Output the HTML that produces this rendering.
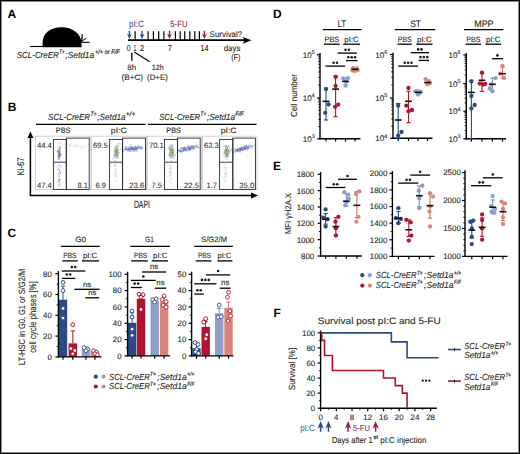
<!DOCTYPE html>
<html><head><meta charset="utf-8"><style>
html,body{margin:0;padding:0;background:#fff;}
body{width:520px;height:454px;overflow:hidden;position:relative;}
svg{position:absolute;left:0;top:0;display:block;}
svg text{font-family:"Liberation Sans", sans-serif;text-rendering:geometricPrecision;}
</style></head><body>
<svg width="520" height="454" viewBox="0 0 520 454">
<defs><filter id="fb" x="-20%" y="-20%" width="140%" height="140%"><feGaussianBlur stdDeviation="0.55"/></filter></defs>
<rect x="0" y="0" width="520" height="454" fill="#fff"/>
<text x="7.60" y="17.60" font-size="12" fill="#000" font-weight="bold">A</text>
<text x="7.80" y="111.20" font-size="12" fill="#000" font-weight="bold">B</text>
<text x="7.40" y="237.20" font-size="12" fill="#000" font-weight="bold">C</text>
<text x="273.00" y="18.20" font-size="12" fill="#000" font-weight="bold">D</text>
<text x="273.00" y="170.00" font-size="12" fill="#000" font-weight="bold">E</text>
<text x="273.40" y="317.20" font-size="12" fill="#000" font-weight="bold">F</text>
<line x1="30.00" y1="46.50" x2="44.00" y2="46.50" stroke="#000" stroke-width="1.1"/>
<path d="M42.6,47.2 L42.6,42 C42.8,33 51,27.3 61.6,27.3 C72,27.3 80.8,33.5 81.4,42 L81.6,47.2 Z" fill="#000" stroke="none" stroke-width="1"/>
<line x1="81.00" y1="42.30" x2="89.60" y2="42.30" stroke="#000" stroke-width="1.1"/>
<line x1="81.60" y1="41.50" x2="82.30" y2="34.30" stroke="#000" stroke-width="1.3"/>
<line x1="81.80" y1="41.20" x2="86.20" y2="38.20" stroke="#000" stroke-width="1.0"/>
<text x="16.80" y="57.80" font-size="8.8" fill="#231f20" stroke="#231f20" stroke-width="0.1" font-style="italic" textLength="41.90" lengthAdjust="spacingAndGlyphs">SCL-CreER</text>
<text x="59.30" y="54.20" font-size="6.3999999999999995" fill="#231f20" stroke="#231f20" stroke-width="0.2" font-style="italic" textLength="5.20" lengthAdjust="spacingAndGlyphs">T+</text>
<text x="65.50" y="57.80" font-size="8.8" fill="#231f20" stroke="#231f20" stroke-width="0.1" font-style="italic" textLength="28.60" lengthAdjust="spacingAndGlyphs">;Setd1a</text>
<text x="94.90" y="54.20" font-size="6.3999999999999995" fill="#231f20" stroke="#231f20" stroke-width="0.2" font-style="italic" textLength="24.80" lengthAdjust="spacingAndGlyphs">+/+ or F/F</text>
<line x1="128.00" y1="40.20" x2="246.00" y2="40.20" stroke="#000" stroke-width="1.7"/>
<path d="M242.7,36.9 L251.6,40.2 L242.7,43.7 L244.6,40.2 Z" fill="#000" stroke="none" stroke-width="1"/>
<path d="M129.40,38.90 L131.90,33.50 L130.10,34.90 L130.10,30.80 L128.70,30.80 L128.70,34.90 L126.90,33.50 Z" fill="#2f4b80" stroke="none" stroke-width="1"/>
<line x1="135.10" y1="31.30" x2="135.10" y2="40.00" stroke="#000" stroke-width="1.2"/>
<path d="M142.00,38.90 L144.50,33.50 L142.70,34.90 L142.70,30.80 L141.30,30.80 L141.30,34.90 L139.50,33.50 Z" fill="#2f4b80" stroke="none" stroke-width="1"/>
<line x1="148.10" y1="31.30" x2="148.10" y2="40.00" stroke="#000" stroke-width="1.2"/>
<line x1="153.40" y1="31.30" x2="153.40" y2="40.00" stroke="#000" stroke-width="1.2"/>
<line x1="158.70" y1="31.30" x2="158.70" y2="40.00" stroke="#000" stroke-width="1.2"/>
<line x1="163.90" y1="31.30" x2="163.90" y2="40.00" stroke="#000" stroke-width="1.2"/>
<path d="M169.50,38.90 L172.00,33.50 L170.20,34.90 L170.20,30.80 L168.80,30.80 L168.80,34.90 L167.00,33.50 Z" fill="#a01a40" stroke="none" stroke-width="1"/>
<line x1="175.40" y1="31.30" x2="175.40" y2="40.00" stroke="#000" stroke-width="1.2"/>
<line x1="180.20" y1="31.30" x2="180.20" y2="40.00" stroke="#000" stroke-width="1.2"/>
<line x1="184.70" y1="31.30" x2="184.70" y2="40.00" stroke="#000" stroke-width="1.2"/>
<line x1="189.80" y1="31.30" x2="189.80" y2="40.00" stroke="#000" stroke-width="1.2"/>
<line x1="194.80" y1="31.30" x2="194.80" y2="40.00" stroke="#000" stroke-width="1.2"/>
<line x1="199.40" y1="31.30" x2="199.40" y2="40.00" stroke="#000" stroke-width="1.2"/>
<path d="M204.40,38.90 L206.90,33.50 L205.10,34.90 L205.10,30.80 L203.70,30.80 L203.70,34.90 L201.90,33.50 Z" fill="#a01a40" stroke="none" stroke-width="1"/>
<text x="129.00" y="27.30" font-size="9" fill="#3e5a93" stroke="#3e5a93" stroke-width="0.1" textLength="15.00" lengthAdjust="spacingAndGlyphs">pI:C</text>
<text x="170.30" y="27.30" font-size="9" fill="#93244a" stroke="#93244a" stroke-width="0.1" textLength="17.20" lengthAdjust="spacingAndGlyphs">5-FU</text>
<text x="209.60" y="37.00" font-size="8.2" fill="#231f20" stroke="#231f20" stroke-width="0.1" textLength="32.60" lengthAdjust="spacingAndGlyphs">Survival?</text>
<text x="126.70" y="50.80" font-size="8.6" fill="#231f20" stroke="#231f20" stroke-width="0.1" textLength="3.90" lengthAdjust="spacingAndGlyphs">0</text>
<text x="133.60" y="50.80" font-size="8.6" fill="#231f20" stroke="#231f20" stroke-width="0.1" textLength="2.80" lengthAdjust="spacingAndGlyphs">1</text>
<text x="139.90" y="50.80" font-size="8.6" fill="#231f20" stroke="#231f20" stroke-width="0.1" textLength="4.10" lengthAdjust="spacingAndGlyphs">2</text>
<text x="168.00" y="50.80" font-size="8.6" fill="#231f20" stroke="#231f20" stroke-width="0.1" textLength="3.80" lengthAdjust="spacingAndGlyphs">7</text>
<text x="200.60" y="50.80" font-size="8.6" fill="#231f20" stroke="#231f20" stroke-width="0.1" textLength="8.00" lengthAdjust="spacingAndGlyphs">14</text>
<text x="223.70" y="50.60" font-size="8.4" fill="#231f20" stroke="#231f20" stroke-width="0.1" textLength="16.70" lengthAdjust="spacingAndGlyphs">days</text>
<text x="231.20" y="60.30" font-size="8.4" fill="#231f20" stroke="#231f20" stroke-width="0.1" textLength="9.20" lengthAdjust="spacingAndGlyphs">(F)</text>
<line x1="131.80" y1="52.70" x2="131.80" y2="60.80" stroke="#000" stroke-width="1.3"/>
<line x1="134.20" y1="52.10" x2="149.70" y2="61.70" stroke="#000" stroke-width="1.2"/>
<text x="127.30" y="69.60" font-size="7.8" fill="#231f20" stroke="#231f20" stroke-width="0.1" textLength="8.90" lengthAdjust="spacingAndGlyphs">8h</text>
<text x="151.70" y="69.60" font-size="7.8" fill="#231f20" stroke="#231f20" stroke-width="0.1" textLength="12.00" lengthAdjust="spacingAndGlyphs">12h</text>
<text x="121.60" y="80.00" font-size="7.8" fill="#231f20" stroke="#231f20" stroke-width="0.1" textLength="21.30" lengthAdjust="spacingAndGlyphs">(B+C)</text>
<text x="147.10" y="80.00" font-size="7.8" fill="#231f20" stroke="#231f20" stroke-width="0.1" textLength="20.70" lengthAdjust="spacingAndGlyphs">(D+E)</text>
<text x="48.10" y="120.00" font-size="8.8" fill="#231f20" stroke="#231f20" stroke-width="0.1" font-style="italic" textLength="42.00" lengthAdjust="spacingAndGlyphs">SCL-CreER</text>
<text x="90.50" y="116.40" font-size="6.3999999999999995" fill="#231f20" stroke="#231f20" stroke-width="0.2" font-style="italic" textLength="6.00" lengthAdjust="spacingAndGlyphs">T+</text>
<text x="97.30" y="120.00" font-size="8.8" fill="#231f20" stroke="#231f20" stroke-width="0.1" font-style="italic" textLength="28.30" lengthAdjust="spacingAndGlyphs">;Setd1a</text>
<text x="125.80" y="116.40" font-size="6.3999999999999995" fill="#231f20" stroke="#231f20" stroke-width="0.2" font-style="italic" textLength="9.40" lengthAdjust="spacingAndGlyphs">+/+</text>
<text x="159.20" y="120.00" font-size="8.8" fill="#231f20" stroke="#231f20" stroke-width="0.1" font-style="italic" textLength="41.00" lengthAdjust="spacingAndGlyphs">SCL-CreER</text>
<text x="200.60" y="116.40" font-size="6.3999999999999995" fill="#231f20" stroke="#231f20" stroke-width="0.2" font-style="italic" textLength="5.60" lengthAdjust="spacingAndGlyphs">T+</text>
<text x="207.00" y="120.00" font-size="8.8" fill="#231f20" stroke="#231f20" stroke-width="0.1" font-style="italic" textLength="28.00" lengthAdjust="spacingAndGlyphs">;Setd1a</text>
<text x="235.20" y="116.40" font-size="6.3999999999999995" fill="#231f20" stroke="#231f20" stroke-width="0.2" font-style="italic" textLength="8.60" lengthAdjust="spacingAndGlyphs">F/F</text>
<line x1="36.00" y1="124.30" x2="145.50" y2="124.30" stroke="#000" stroke-width="1.2"/>
<line x1="148.00" y1="124.30" x2="256.50" y2="124.30" stroke="#000" stroke-width="1.2"/>
<rect x="35.60" y="136.20" width="55.40" height="53.40" fill="#fff" stroke="#c8c8c8" stroke-width="0.8"/>
<text x="55.80" y="132.80" font-size="7.8" fill="#231f20" stroke="#231f20" stroke-width="0.1" textLength="14.50" lengthAdjust="spacingAndGlyphs">PBS</text>
<clipPath id="cp0"><rect x="36.10" y="136.8" width="54.40" height="52.4"/></clipPath><g clip-path="url(#cp0)"><g filter="url(#fb)">
<circle cx="59.05" cy="154.94" r="0.55" fill="#6a6aac" opacity="0.55"/>
<circle cx="59.07" cy="151.80" r="0.55" fill="#6a6aac" opacity="0.55"/>
<circle cx="58.51" cy="152.19" r="0.55" fill="#6a6aac" opacity="0.55"/>
<circle cx="60.14" cy="154.61" r="0.55" fill="#6a6aac" opacity="0.55"/>
<circle cx="60.08" cy="153.95" r="0.55" fill="#6a6aac" opacity="0.55"/>
<circle cx="59.57" cy="153.70" r="0.55" fill="#6a6aac" opacity="0.55"/>
<circle cx="57.92" cy="156.25" r="0.55" fill="#6a6aac" opacity="0.55"/>
<circle cx="59.66" cy="154.90" r="0.55" fill="#6a6aac" opacity="0.55"/>
<circle cx="57.90" cy="146.37" r="0.55" fill="#6a6aac" opacity="0.55"/>
<circle cx="58.54" cy="151.22" r="0.55" fill="#6a6aac" opacity="0.55"/>
<circle cx="59.49" cy="152.83" r="0.55" fill="#6a6aac" opacity="0.55"/>
<circle cx="59.67" cy="150.56" r="0.55" fill="#6a6aac" opacity="0.55"/>
<circle cx="59.50" cy="154.50" r="0.55" fill="#6a6aac" opacity="0.55"/>
<circle cx="58.72" cy="159.53" r="0.55" fill="#6a6aac" opacity="0.55"/>
<circle cx="59.70" cy="157.55" r="0.55" fill="#6a6aac" opacity="0.55"/>
<circle cx="58.75" cy="150.19" r="0.55" fill="#6a6aac" opacity="0.55"/>
<circle cx="58.97" cy="152.60" r="0.55" fill="#6a6aac" opacity="0.55"/>
<circle cx="59.76" cy="153.94" r="0.55" fill="#6a6aac" opacity="0.55"/>
<circle cx="58.89" cy="149.36" r="0.55" fill="#6a6aac" opacity="0.55"/>
<circle cx="58.83" cy="157.64" r="0.55" fill="#6a6aac" opacity="0.55"/>
<circle cx="58.60" cy="153.93" r="0.55" fill="#6a6aac" opacity="0.55"/>
<circle cx="59.59" cy="147.34" r="0.55" fill="#6a6aac" opacity="0.55"/>
<circle cx="59.29" cy="157.96" r="0.55" fill="#6a6aac" opacity="0.55"/>
<circle cx="57.64" cy="151.78" r="0.55" fill="#6a6aac" opacity="0.55"/>
<circle cx="59.17" cy="149.89" r="0.55" fill="#6a6aac" opacity="0.55"/>
<circle cx="59.65" cy="152.76" r="0.55" fill="#6a6aac" opacity="0.55"/>
<circle cx="58.08" cy="156.15" r="0.55" fill="#6a6aac" opacity="0.55"/>
<circle cx="59.79" cy="156.59" r="0.55" fill="#6a6aac" opacity="0.55"/>
<circle cx="60.40" cy="154.38" r="0.55" fill="#6a6aac" opacity="0.55"/>
<circle cx="59.35" cy="148.06" r="0.55" fill="#6a6aac" opacity="0.55"/>
<circle cx="59.74" cy="150.68" r="0.55" fill="#6a6aac" opacity="0.55"/>
<circle cx="58.89" cy="148.19" r="0.55" fill="#6a6aac" opacity="0.55"/>
<circle cx="58.48" cy="150.98" r="0.55" fill="#6a6aac" opacity="0.55"/>
<circle cx="60.28" cy="145.28" r="0.55" fill="#6a6aac" opacity="0.55"/>
<circle cx="58.08" cy="153.91" r="0.55" fill="#6a6aac" opacity="0.55"/>
<circle cx="60.40" cy="155.20" r="0.55" fill="#6a6aac" opacity="0.55"/>
<circle cx="57.73" cy="143.43" r="0.55" fill="#6a6aac" opacity="0.55"/>
<circle cx="59.54" cy="150.20" r="0.55" fill="#6a6aac" opacity="0.55"/>
<circle cx="58.35" cy="156.71" r="0.55" fill="#6a6aac" opacity="0.55"/>
<circle cx="60.13" cy="153.60" r="0.55" fill="#6a6aac" opacity="0.55"/>
<circle cx="59.45" cy="154.65" r="0.55" fill="#6a6aac" opacity="0.55"/>
<circle cx="60.53" cy="155.35" r="0.55" fill="#6a6aac" opacity="0.55"/>
<circle cx="59.66" cy="155.08" r="0.55" fill="#6a6aac" opacity="0.55"/>
<circle cx="58.00" cy="157.87" r="0.55" fill="#6a6aac" opacity="0.55"/>
<circle cx="60.01" cy="155.01" r="0.55" fill="#6a6aac" opacity="0.55"/>
<circle cx="57.67" cy="150.59" r="0.55" fill="#6a6aac" opacity="0.55"/>
<circle cx="59.92" cy="146.12" r="0.55" fill="#6a6aac" opacity="0.55"/>
<circle cx="59.10" cy="156.87" r="0.55" fill="#6a6aac" opacity="0.55"/>
<circle cx="58.20" cy="159.12" r="0.55" fill="#6a6aac" opacity="0.55"/>
<circle cx="59.69" cy="152.43" r="0.55" fill="#6a6aac" opacity="0.55"/>
<circle cx="59.51" cy="155.47" r="0.55" fill="#6a6aac" opacity="0.55"/>
<circle cx="59.35" cy="157.35" r="0.55" fill="#6a6aac" opacity="0.55"/>
<circle cx="58.72" cy="151.42" r="0.55" fill="#6a6aac" opacity="0.55"/>
<circle cx="60.08" cy="153.10" r="0.55" fill="#6a6aac" opacity="0.55"/>
<circle cx="58.55" cy="156.60" r="0.55" fill="#6a6aac" opacity="0.55"/>
<circle cx="60.42" cy="151.31" r="0.55" fill="#6a6aac" opacity="0.55"/>
<circle cx="58.15" cy="152.49" r="0.55" fill="#6a6aac" opacity="0.55"/>
<circle cx="59.13" cy="151.87" r="0.55" fill="#6a6aac" opacity="0.55"/>
<circle cx="60.37" cy="149.10" r="0.55" fill="#6a6aac" opacity="0.55"/>
<circle cx="60.26" cy="148.18" r="0.55" fill="#6a6aac" opacity="0.55"/>
<circle cx="58.62" cy="155.40" r="0.55" fill="#6a6aac" opacity="0.55"/>
<circle cx="60.15" cy="156.26" r="0.55" fill="#6a6aac" opacity="0.55"/>
<circle cx="59.53" cy="153.54" r="0.55" fill="#6a6aac" opacity="0.55"/>
<circle cx="59.37" cy="155.19" r="0.55" fill="#6a6aac" opacity="0.55"/>
<circle cx="59.11" cy="154.05" r="0.55" fill="#6a6aac" opacity="0.55"/>
<circle cx="59.71" cy="153.00" r="0.55" fill="#6a6aac" opacity="0.55"/>
<circle cx="59.86" cy="155.15" r="0.55" fill="#6a6aac" opacity="0.55"/>
<circle cx="60.86" cy="154.23" r="0.55" fill="#6a6aac" opacity="0.55"/>
<circle cx="58.91" cy="151.58" r="0.55" fill="#6a6aac" opacity="0.55"/>
<circle cx="59.24" cy="156.51" r="0.55" fill="#6a6aac" opacity="0.55"/>
<circle cx="58.98" cy="154.47" r="0.55" fill="#6a6aac" opacity="0.55"/>
<circle cx="60.72" cy="143.25" r="0.55" fill="#6a6aac" opacity="0.55"/>
<circle cx="58.35" cy="153.93" r="0.55" fill="#6a6aac" opacity="0.55"/>
<circle cx="59.57" cy="153.91" r="0.55" fill="#6a6aac" opacity="0.55"/>
<circle cx="58.91" cy="155.49" r="0.55" fill="#6a6aac" opacity="0.55"/>
<circle cx="59.48" cy="151.02" r="0.55" fill="#6a6aac" opacity="0.55"/>
<circle cx="61.19" cy="154.35" r="0.55" fill="#6a6aac" opacity="0.55"/>
<circle cx="58.81" cy="152.62" r="0.55" fill="#6a6aac" opacity="0.55"/>
<circle cx="59.07" cy="152.76" r="0.55" fill="#6a6aac" opacity="0.55"/>
<circle cx="57.07" cy="151.15" r="0.55" fill="#6a6aac" opacity="0.55"/>
<circle cx="60.06" cy="148.56" r="0.55" fill="#6a6aac" opacity="0.55"/>
<circle cx="59.20" cy="156.62" r="0.55" fill="#6a6aac" opacity="0.55"/>
<circle cx="59.93" cy="158.67" r="0.55" fill="#6a6aac" opacity="0.55"/>
<circle cx="57.89" cy="151.66" r="0.55" fill="#6a6aac" opacity="0.55"/>
<circle cx="58.98" cy="155.37" r="0.55" fill="#6a6aac" opacity="0.55"/>
<circle cx="60.12" cy="142.81" r="0.55" fill="#6a6aac" opacity="0.55"/>
<circle cx="60.12" cy="147.50" r="0.55" fill="#6a6aac" opacity="0.55"/>
<circle cx="59.80" cy="147.33" r="0.55" fill="#6a6aac" opacity="0.55"/>
<circle cx="59.39" cy="157.54" r="0.55" fill="#6a6aac" opacity="0.55"/>
<circle cx="59.13" cy="153.73" r="0.55" fill="#6a6aac" opacity="0.55"/>
<circle cx="59.89" cy="175.06" r="0.55" fill="#8080bc" opacity="0.45"/>
<circle cx="59.18" cy="185.50" r="0.55" fill="#8080bc" opacity="0.45"/>
<circle cx="60.09" cy="171.80" r="0.55" fill="#8080bc" opacity="0.45"/>
<circle cx="61.45" cy="165.40" r="0.55" fill="#8080bc" opacity="0.45"/>
<circle cx="59.98" cy="172.01" r="0.55" fill="#8080bc" opacity="0.45"/>
<circle cx="59.36" cy="179.29" r="0.55" fill="#8080bc" opacity="0.45"/>
<circle cx="59.43" cy="178.79" r="0.55" fill="#8080bc" opacity="0.45"/>
<circle cx="58.03" cy="162.68" r="0.55" fill="#8080bc" opacity="0.45"/>
<circle cx="59.74" cy="166.78" r="0.55" fill="#8080bc" opacity="0.45"/>
<circle cx="58.43" cy="162.97" r="0.55" fill="#8080bc" opacity="0.45"/>
<circle cx="60.26" cy="179.60" r="0.55" fill="#8080bc" opacity="0.45"/>
<circle cx="60.43" cy="166.97" r="0.55" fill="#8080bc" opacity="0.45"/>
<circle cx="59.25" cy="165.45" r="0.55" fill="#8080bc" opacity="0.45"/>
<circle cx="59.86" cy="185.92" r="0.55" fill="#8080bc" opacity="0.45"/>
<circle cx="58.54" cy="185.70" r="0.55" fill="#8080bc" opacity="0.45"/>
<circle cx="60.04" cy="172.67" r="0.55" fill="#8080bc" opacity="0.45"/>
<circle cx="57.67" cy="184.55" r="0.55" fill="#8080bc" opacity="0.45"/>
<circle cx="59.17" cy="169.48" r="0.55" fill="#8080bc" opacity="0.45"/>
<circle cx="59.57" cy="177.07" r="0.55" fill="#8080bc" opacity="0.45"/>
<circle cx="60.45" cy="166.35" r="0.55" fill="#8080bc" opacity="0.45"/>
<circle cx="60.16" cy="185.16" r="0.55" fill="#8080bc" opacity="0.45"/>
<circle cx="60.41" cy="172.65" r="0.55" fill="#8080bc" opacity="0.45"/>
<circle cx="58.65" cy="181.64" r="0.55" fill="#8080bc" opacity="0.45"/>
<circle cx="59.34" cy="174.93" r="0.55" fill="#8080bc" opacity="0.45"/>
<circle cx="60.39" cy="172.02" r="0.55" fill="#8080bc" opacity="0.45"/>
<circle cx="57.41" cy="171.10" r="0.55" fill="#8080bc" opacity="0.45"/>
<circle cx="57.77" cy="180.14" r="0.55" fill="#8080bc" opacity="0.45"/>
<circle cx="59.50" cy="169.42" r="0.55" fill="#8080bc" opacity="0.45"/>
<circle cx="59.24" cy="180.24" r="0.55" fill="#8080bc" opacity="0.45"/>
<circle cx="59.31" cy="183.95" r="0.55" fill="#8080bc" opacity="0.45"/>
<circle cx="59.20" cy="181.80" r="0.55" fill="#8080bc" opacity="0.45"/>
<circle cx="60.44" cy="186.07" r="0.55" fill="#8080bc" opacity="0.45"/>
<circle cx="58.71" cy="180.60" r="0.55" fill="#8080bc" opacity="0.45"/>
<circle cx="57.75" cy="165.87" r="0.55" fill="#8080bc" opacity="0.45"/>
<circle cx="57.68" cy="182.02" r="0.55" fill="#8080bc" opacity="0.45"/>
<circle cx="58.26" cy="173.90" r="0.55" fill="#8080bc" opacity="0.45"/>
<circle cx="59.10" cy="173.79" r="0.55" fill="#8080bc" opacity="0.45"/>
<circle cx="58.78" cy="175.75" r="0.55" fill="#8080bc" opacity="0.45"/>
<circle cx="60.68" cy="174.33" r="0.55" fill="#8080bc" opacity="0.45"/>
<circle cx="59.67" cy="181.50" r="0.55" fill="#8080bc" opacity="0.45"/>
<circle cx="59.09" cy="164.55" r="0.55" fill="#8080bc" opacity="0.45"/>
<circle cx="58.81" cy="182.05" r="0.55" fill="#8080bc" opacity="0.45"/>
<circle cx="57.93" cy="169.52" r="0.55" fill="#8080bc" opacity="0.45"/>
<circle cx="60.06" cy="179.95" r="0.55" fill="#8080bc" opacity="0.45"/>
<circle cx="59.26" cy="180.04" r="0.55" fill="#8080bc" opacity="0.45"/>
<circle cx="59.38" cy="165.16" r="0.55" fill="#8080bc" opacity="0.45"/>
<circle cx="58.00" cy="169.21" r="0.55" fill="#8080bc" opacity="0.45"/>
<circle cx="59.99" cy="169.76" r="0.55" fill="#8080bc" opacity="0.45"/>
<circle cx="58.53" cy="168.22" r="0.55" fill="#8080bc" opacity="0.45"/>
<circle cx="58.02" cy="173.12" r="0.55" fill="#8080bc" opacity="0.45"/>
<circle cx="58.31" cy="176.73" r="0.55" fill="#8080bc" opacity="0.45"/>
<circle cx="57.36" cy="176.46" r="0.55" fill="#8080bc" opacity="0.45"/>
<circle cx="58.74" cy="159.43" r="0.55" fill="#8080bc" opacity="0.45"/>
<circle cx="59.83" cy="171.93" r="0.55" fill="#8080bc" opacity="0.45"/>
<circle cx="57.47" cy="167.44" r="0.55" fill="#8080bc" opacity="0.45"/>
<circle cx="59.48" cy="170.56" r="0.55" fill="#8080bc" opacity="0.45"/>
<circle cx="59.87" cy="179.61" r="0.55" fill="#8080bc" opacity="0.45"/>
<circle cx="59.78" cy="176.45" r="0.55" fill="#8080bc" opacity="0.45"/>
<circle cx="60.32" cy="178.95" r="0.55" fill="#8080bc" opacity="0.45"/>
<circle cx="59.61" cy="158.37" r="0.55" fill="#8080bc" opacity="0.45"/>
<circle cx="59.97" cy="183.82" r="0.55" fill="#8080bc" opacity="0.45"/>
<circle cx="59.01" cy="170.48" r="0.55" fill="#8080bc" opacity="0.45"/>
<circle cx="60.80" cy="160.81" r="0.55" fill="#8080bc" opacity="0.45"/>
<circle cx="59.63" cy="192.18" r="0.55" fill="#8080bc" opacity="0.45"/>
<circle cx="58.51" cy="179.17" r="0.55" fill="#8080bc" opacity="0.45"/>
<circle cx="60.76" cy="173.10" r="0.55" fill="#8080bc" opacity="0.45"/>
<circle cx="59.70" cy="180.77" r="0.55" fill="#8080bc" opacity="0.45"/>
<circle cx="58.53" cy="173.33" r="0.55" fill="#8080bc" opacity="0.45"/>
<circle cx="59.48" cy="180.19" r="0.55" fill="#8080bc" opacity="0.45"/>
<circle cx="59.22" cy="172.53" r="0.55" fill="#8080bc" opacity="0.45"/>
<circle cx="69.68" cy="144.93" r="0.55" fill="#a8a8d0" opacity="0.5"/>
<circle cx="78.26" cy="145.66" r="0.55" fill="#a8a8d0" opacity="0.5"/>
<circle cx="70.41" cy="144.15" r="0.55" fill="#a8a8d0" opacity="0.5"/>
<circle cx="86.25" cy="147.32" r="0.55" fill="#a8a8d0" opacity="0.5"/>
<circle cx="77.12" cy="141.35" r="0.55" fill="#a8a8d0" opacity="0.5"/>
<circle cx="77.05" cy="146.27" r="0.55" fill="#a8a8d0" opacity="0.5"/>
<circle cx="81.83" cy="146.18" r="0.55" fill="#a8a8d0" opacity="0.5"/>
<circle cx="73.95" cy="146.34" r="0.55" fill="#a8a8d0" opacity="0.5"/>
<circle cx="65.50" cy="147.15" r="0.55" fill="#a8a8d0" opacity="0.5"/>
<circle cx="75.71" cy="144.38" r="0.55" fill="#a8a8d0" opacity="0.5"/>
<circle cx="80.22" cy="148.39" r="0.55" fill="#a8a8d0" opacity="0.5"/>
<circle cx="67.94" cy="144.43" r="0.55" fill="#a8a8d0" opacity="0.5"/>
<circle cx="75.56" cy="145.79" r="0.55" fill="#a8a8d0" opacity="0.5"/>
<circle cx="72.46" cy="143.94" r="0.55" fill="#a8a8d0" opacity="0.5"/>
<circle cx="83.79" cy="147.16" r="0.55" fill="#a8a8d0" opacity="0.5"/>
<circle cx="68.88" cy="143.35" r="0.55" fill="#a8a8d0" opacity="0.5"/>
<circle cx="81.91" cy="147.08" r="0.55" fill="#a8a8d0" opacity="0.5"/>
<circle cx="82.44" cy="146.80" r="0.55" fill="#a8a8d0" opacity="0.5"/>
<circle cx="70.33" cy="145.92" r="0.55" fill="#a8a8d0" opacity="0.5"/>
<circle cx="64.53" cy="144.30" r="0.55" fill="#a8a8d0" opacity="0.5"/>
<circle cx="73.98" cy="146.34" r="0.55" fill="#a8a8d0" opacity="0.5"/>
<circle cx="70.98" cy="145.30" r="0.55" fill="#a8a8d0" opacity="0.5"/>
<circle cx="76.31" cy="146.10" r="0.55" fill="#a8a8d0" opacity="0.5"/>
<circle cx="77.12" cy="145.83" r="0.55" fill="#a8a8d0" opacity="0.5"/>
<circle cx="72.79" cy="146.76" r="0.55" fill="#a8a8d0" opacity="0.5"/>
</g></g>
<rect x="53.40" y="139.40" width="12.90" height="50.00" fill="none" stroke="#2a2a2a" stroke-width="0.9"/>
<line x1="53.40" y1="162.20" x2="66.30" y2="162.20" stroke="#2a2a2a" stroke-width="0.9"/>
<rect x="66.30" y="138.10" width="22.90" height="51.30" fill="none" stroke="#2a2a2a" stroke-width="0.9"/>
<text x="36.90" y="148.20" font-size="7.7" fill="#231f20" stroke="#231f20" stroke-width="0.04" textLength="15.00" lengthAdjust="spacingAndGlyphs">44.4</text>
<text x="36.90" y="187.60" font-size="7.7" fill="#231f20" stroke="#231f20" stroke-width="0.04" textLength="15.00" lengthAdjust="spacingAndGlyphs">47.4</text>
<text x="77.50" y="187.60" font-size="7.7" fill="#231f20" stroke="#231f20" stroke-width="0.04" textLength="10.50" lengthAdjust="spacingAndGlyphs">8.1</text>
<rect x="91.60" y="136.20" width="55.00" height="53.40" fill="#fff" stroke="#c8c8c8" stroke-width="0.8"/>
<text x="110.80" y="132.80" font-size="7.8" fill="#231f20" stroke="#231f20" stroke-width="0.1" textLength="16.10" lengthAdjust="spacingAndGlyphs">pI:C</text>
<clipPath id="cp1"><rect x="92.10" y="136.8" width="54.00" height="52.4"/></clipPath><g clip-path="url(#cp1)"><g filter="url(#fb)">
<circle cx="132.78" cy="147.67" r="0.55" fill="#6070c0" opacity="0.55"/>
<circle cx="129.17" cy="148.94" r="0.55" fill="#6070c0" opacity="0.55"/>
<circle cx="132.02" cy="148.83" r="0.55" fill="#6070c0" opacity="0.55"/>
<circle cx="132.62" cy="148.79" r="0.55" fill="#6070c0" opacity="0.55"/>
<circle cx="131.73" cy="147.30" r="0.55" fill="#6070c0" opacity="0.55"/>
<circle cx="135.02" cy="149.52" r="0.55" fill="#6070c0" opacity="0.55"/>
<circle cx="134.96" cy="148.15" r="0.55" fill="#6070c0" opacity="0.55"/>
<circle cx="134.94" cy="147.30" r="0.55" fill="#6070c0" opacity="0.55"/>
<circle cx="122.23" cy="149.71" r="0.55" fill="#6070c0" opacity="0.55"/>
<circle cx="127.59" cy="149.92" r="0.55" fill="#6070c0" opacity="0.55"/>
<circle cx="126.38" cy="146.32" r="0.55" fill="#6070c0" opacity="0.55"/>
<circle cx="127.08" cy="150.90" r="0.55" fill="#6070c0" opacity="0.55"/>
<circle cx="130.36" cy="147.31" r="0.55" fill="#6070c0" opacity="0.55"/>
<circle cx="128.48" cy="149.59" r="0.55" fill="#6070c0" opacity="0.55"/>
<circle cx="135.34" cy="148.52" r="0.55" fill="#6070c0" opacity="0.55"/>
<circle cx="140.80" cy="148.56" r="0.55" fill="#6070c0" opacity="0.55"/>
<circle cx="132.55" cy="149.26" r="0.55" fill="#6070c0" opacity="0.55"/>
<circle cx="141.76" cy="148.75" r="0.55" fill="#6070c0" opacity="0.55"/>
<circle cx="138.08" cy="146.85" r="0.55" fill="#6070c0" opacity="0.55"/>
<circle cx="131.87" cy="149.48" r="0.55" fill="#6070c0" opacity="0.55"/>
<circle cx="131.10" cy="149.93" r="0.55" fill="#6070c0" opacity="0.55"/>
<circle cx="135.96" cy="149.27" r="0.55" fill="#6070c0" opacity="0.55"/>
<circle cx="131.72" cy="151.50" r="0.55" fill="#6070c0" opacity="0.55"/>
<circle cx="139.36" cy="147.68" r="0.55" fill="#6070c0" opacity="0.55"/>
<circle cx="133.38" cy="151.39" r="0.55" fill="#6070c0" opacity="0.55"/>
<circle cx="130.82" cy="149.75" r="0.55" fill="#6070c0" opacity="0.55"/>
<circle cx="137.97" cy="148.07" r="0.55" fill="#6070c0" opacity="0.55"/>
<circle cx="126.23" cy="149.45" r="0.55" fill="#6070c0" opacity="0.55"/>
<circle cx="134.69" cy="149.64" r="0.55" fill="#6070c0" opacity="0.55"/>
<circle cx="136.89" cy="148.20" r="0.55" fill="#6070c0" opacity="0.55"/>
<circle cx="137.33" cy="148.72" r="0.55" fill="#6070c0" opacity="0.55"/>
<circle cx="133.73" cy="148.55" r="0.55" fill="#6070c0" opacity="0.55"/>
<circle cx="131.34" cy="149.48" r="0.55" fill="#6070c0" opacity="0.55"/>
<circle cx="126.76" cy="148.49" r="0.55" fill="#6070c0" opacity="0.55"/>
<circle cx="132.47" cy="146.99" r="0.55" fill="#6070c0" opacity="0.55"/>
<circle cx="129.99" cy="146.64" r="0.55" fill="#6070c0" opacity="0.55"/>
<circle cx="128.93" cy="149.60" r="0.55" fill="#6070c0" opacity="0.55"/>
<circle cx="135.69" cy="148.23" r="0.55" fill="#6070c0" opacity="0.55"/>
<circle cx="131.17" cy="147.18" r="0.55" fill="#6070c0" opacity="0.55"/>
<circle cx="142.66" cy="148.16" r="0.55" fill="#6070c0" opacity="0.55"/>
<circle cx="138.49" cy="147.03" r="0.55" fill="#6070c0" opacity="0.55"/>
<circle cx="131.39" cy="146.71" r="0.55" fill="#6070c0" opacity="0.55"/>
<circle cx="136.97" cy="149.19" r="0.55" fill="#6070c0" opacity="0.55"/>
<circle cx="122.21" cy="149.58" r="0.55" fill="#6070c0" opacity="0.55"/>
<circle cx="135.86" cy="146.33" r="0.55" fill="#6070c0" opacity="0.55"/>
<circle cx="122.49" cy="148.44" r="0.55" fill="#6070c0" opacity="0.55"/>
<circle cx="129.00" cy="147.41" r="0.55" fill="#6070c0" opacity="0.55"/>
<circle cx="132.80" cy="148.86" r="0.55" fill="#6070c0" opacity="0.55"/>
<circle cx="136.15" cy="149.02" r="0.55" fill="#6070c0" opacity="0.55"/>
<circle cx="140.95" cy="149.05" r="0.55" fill="#6070c0" opacity="0.55"/>
<circle cx="125.37" cy="148.77" r="0.55" fill="#6070c0" opacity="0.55"/>
<circle cx="126.68" cy="148.00" r="0.55" fill="#6070c0" opacity="0.55"/>
<circle cx="132.16" cy="148.65" r="0.55" fill="#6070c0" opacity="0.55"/>
<circle cx="135.11" cy="146.59" r="0.55" fill="#6070c0" opacity="0.55"/>
<circle cx="125.82" cy="149.25" r="0.55" fill="#6070c0" opacity="0.55"/>
<circle cx="131.47" cy="148.37" r="0.55" fill="#6070c0" opacity="0.55"/>
<circle cx="132.17" cy="147.80" r="0.55" fill="#6070c0" opacity="0.55"/>
<circle cx="136.48" cy="148.60" r="0.55" fill="#6070c0" opacity="0.55"/>
<circle cx="132.05" cy="147.91" r="0.55" fill="#6070c0" opacity="0.55"/>
<circle cx="131.35" cy="145.72" r="0.55" fill="#6070c0" opacity="0.55"/>
<circle cx="127.23" cy="149.18" r="0.55" fill="#6070c0" opacity="0.55"/>
<circle cx="124.39" cy="149.64" r="0.55" fill="#6070c0" opacity="0.55"/>
<circle cx="133.26" cy="147.01" r="0.55" fill="#6070c0" opacity="0.55"/>
<circle cx="131.19" cy="148.39" r="0.55" fill="#6070c0" opacity="0.55"/>
<circle cx="135.18" cy="149.02" r="0.55" fill="#6070c0" opacity="0.55"/>
<circle cx="132.31" cy="147.69" r="0.55" fill="#6070c0" opacity="0.55"/>
<circle cx="131.80" cy="148.61" r="0.55" fill="#6070c0" opacity="0.55"/>
<circle cx="136.65" cy="148.52" r="0.55" fill="#6070c0" opacity="0.55"/>
<circle cx="128.50" cy="147.51" r="0.55" fill="#6070c0" opacity="0.55"/>
<circle cx="130.48" cy="147.99" r="0.55" fill="#6070c0" opacity="0.55"/>
<circle cx="126.50" cy="149.08" r="0.55" fill="#6070c0" opacity="0.55"/>
<circle cx="129.92" cy="148.99" r="0.55" fill="#6070c0" opacity="0.55"/>
<circle cx="135.42" cy="147.86" r="0.55" fill="#6070c0" opacity="0.55"/>
<circle cx="145.28" cy="146.97" r="0.55" fill="#6070c0" opacity="0.55"/>
<circle cx="138.64" cy="148.13" r="0.55" fill="#6070c0" opacity="0.55"/>
<circle cx="138.45" cy="145.39" r="0.55" fill="#6070c0" opacity="0.55"/>
<circle cx="128.51" cy="149.28" r="0.55" fill="#6070c0" opacity="0.55"/>
<circle cx="136.15" cy="150.83" r="0.55" fill="#6070c0" opacity="0.55"/>
<circle cx="134.51" cy="149.82" r="0.55" fill="#6070c0" opacity="0.55"/>
<circle cx="136.90" cy="149.22" r="0.55" fill="#6070c0" opacity="0.55"/>
<circle cx="135.37" cy="148.15" r="0.55" fill="#6070c0" opacity="0.55"/>
<circle cx="135.27" cy="147.14" r="0.55" fill="#6070c0" opacity="0.55"/>
<circle cx="138.95" cy="146.84" r="0.55" fill="#6070c0" opacity="0.55"/>
<circle cx="134.20" cy="150.78" r="0.55" fill="#6070c0" opacity="0.55"/>
<circle cx="131.38" cy="148.74" r="0.55" fill="#6070c0" opacity="0.55"/>
<circle cx="138.97" cy="147.99" r="0.55" fill="#6070c0" opacity="0.55"/>
<circle cx="128.21" cy="149.33" r="0.55" fill="#6070c0" opacity="0.55"/>
<circle cx="135.86" cy="149.06" r="0.55" fill="#6070c0" opacity="0.55"/>
<circle cx="128.56" cy="150.94" r="0.55" fill="#6070c0" opacity="0.55"/>
<circle cx="141.72" cy="147.70" r="0.55" fill="#6070c0" opacity="0.55"/>
<circle cx="134.02" cy="147.98" r="0.55" fill="#6070c0" opacity="0.55"/>
<circle cx="140.26" cy="147.05" r="0.55" fill="#6070c0" opacity="0.55"/>
<circle cx="136.24" cy="147.70" r="0.55" fill="#6070c0" opacity="0.55"/>
<circle cx="128.88" cy="149.77" r="0.55" fill="#6070c0" opacity="0.55"/>
<circle cx="139.90" cy="147.86" r="0.55" fill="#6070c0" opacity="0.55"/>
<circle cx="128.98" cy="149.86" r="0.55" fill="#6070c0" opacity="0.55"/>
<circle cx="132.36" cy="148.97" r="0.55" fill="#6070c0" opacity="0.55"/>
<circle cx="141.06" cy="149.00" r="0.55" fill="#6070c0" opacity="0.55"/>
<circle cx="130.01" cy="151.38" r="0.55" fill="#6070c0" opacity="0.55"/>
<circle cx="132.70" cy="149.46" r="0.55" fill="#6070c0" opacity="0.55"/>
<circle cx="129.05" cy="148.91" r="0.55" fill="#6070c0" opacity="0.55"/>
<circle cx="123.22" cy="151.52" r="0.55" fill="#6070c0" opacity="0.55"/>
<circle cx="139.94" cy="146.52" r="0.55" fill="#6070c0" opacity="0.55"/>
<circle cx="124.18" cy="147.65" r="0.55" fill="#6070c0" opacity="0.55"/>
<circle cx="138.98" cy="147.45" r="0.55" fill="#6070c0" opacity="0.55"/>
<circle cx="132.23" cy="148.29" r="0.55" fill="#6070c0" opacity="0.55"/>
<circle cx="131.82" cy="147.48" r="0.55" fill="#6070c0" opacity="0.55"/>
<circle cx="132.57" cy="147.01" r="0.55" fill="#6070c0" opacity="0.55"/>
<circle cx="132.24" cy="148.98" r="0.55" fill="#6070c0" opacity="0.55"/>
<circle cx="135.13" cy="148.09" r="0.55" fill="#6070c0" opacity="0.55"/>
<circle cx="127.67" cy="149.27" r="0.55" fill="#6070c0" opacity="0.55"/>
<circle cx="130.12" cy="150.58" r="0.55" fill="#6070c0" opacity="0.55"/>
<circle cx="136.79" cy="148.05" r="0.55" fill="#6070c0" opacity="0.55"/>
<circle cx="129.94" cy="148.09" r="0.55" fill="#6070c0" opacity="0.55"/>
<circle cx="127.43" cy="148.73" r="0.55" fill="#6070c0" opacity="0.55"/>
<circle cx="134.27" cy="149.00" r="0.55" fill="#6070c0" opacity="0.55"/>
<circle cx="135.94" cy="150.58" r="0.55" fill="#6070c0" opacity="0.55"/>
<circle cx="128.74" cy="149.00" r="0.55" fill="#6070c0" opacity="0.55"/>
<circle cx="147.69" cy="145.02" r="0.55" fill="#6070c0" opacity="0.55"/>
<circle cx="129.76" cy="149.07" r="0.55" fill="#6070c0" opacity="0.55"/>
<circle cx="133.49" cy="148.96" r="0.55" fill="#6070c0" opacity="0.55"/>
<circle cx="131.33" cy="149.13" r="0.55" fill="#6070c0" opacity="0.55"/>
<circle cx="132.97" cy="149.42" r="0.55" fill="#6070c0" opacity="0.55"/>
<circle cx="122.15" cy="148.67" r="0.55" fill="#6070c0" opacity="0.55"/>
<circle cx="132.47" cy="147.47" r="0.55" fill="#6070c0" opacity="0.55"/>
<circle cx="126.95" cy="149.86" r="0.55" fill="#6070c0" opacity="0.55"/>
<circle cx="129.11" cy="149.65" r="0.55" fill="#6070c0" opacity="0.55"/>
<circle cx="136.71" cy="148.53" r="0.55" fill="#6070c0" opacity="0.55"/>
<circle cx="135.37" cy="148.21" r="0.55" fill="#6070c0" opacity="0.55"/>
<circle cx="124.89" cy="149.34" r="0.55" fill="#6070c0" opacity="0.55"/>
<circle cx="135.03" cy="147.77" r="0.55" fill="#6070c0" opacity="0.55"/>
<circle cx="132.14" cy="149.47" r="0.55" fill="#6070c0" opacity="0.55"/>
<circle cx="127.86" cy="149.78" r="0.55" fill="#6070c0" opacity="0.55"/>
<circle cx="142.73" cy="146.97" r="0.55" fill="#6070c0" opacity="0.55"/>
<circle cx="133.39" cy="148.35" r="0.55" fill="#6070c0" opacity="0.55"/>
<circle cx="141.06" cy="148.10" r="0.55" fill="#6070c0" opacity="0.55"/>
<circle cx="137.44" cy="147.35" r="0.55" fill="#6070c0" opacity="0.55"/>
<circle cx="132.51" cy="148.60" r="0.55" fill="#6070c0" opacity="0.55"/>
<circle cx="123.04" cy="151.15" r="0.55" fill="#6070c0" opacity="0.55"/>
<circle cx="137.33" cy="146.19" r="0.55" fill="#6070c0" opacity="0.55"/>
<circle cx="136.66" cy="148.05" r="0.55" fill="#6070c0" opacity="0.55"/>
<circle cx="135.09" cy="148.75" r="0.55" fill="#6070c0" opacity="0.55"/>
<circle cx="124.37" cy="149.19" r="0.55" fill="#6070c0" opacity="0.55"/>
<circle cx="140.71" cy="147.15" r="0.55" fill="#6070c0" opacity="0.55"/>
<circle cx="126.85" cy="147.67" r="0.55" fill="#6070c0" opacity="0.55"/>
<circle cx="125.95" cy="149.64" r="0.55" fill="#6070c0" opacity="0.55"/>
<circle cx="141.91" cy="148.14" r="0.55" fill="#6070c0" opacity="0.55"/>
<circle cx="134.19" cy="150.91" r="0.55" fill="#6070c0" opacity="0.55"/>
<circle cx="129.68" cy="148.15" r="0.55" fill="#6070c0" opacity="0.55"/>
<circle cx="135.55" cy="148.91" r="0.55" fill="#6070c0" opacity="0.55"/>
<circle cx="126.92" cy="147.88" r="0.55" fill="#6070c0" opacity="0.55"/>
<circle cx="134.22" cy="148.71" r="0.55" fill="#6070c0" opacity="0.55"/>
<circle cx="125.43" cy="149.10" r="0.55" fill="#6070c0" opacity="0.55"/>
<circle cx="129.68" cy="149.40" r="0.55" fill="#6070c0" opacity="0.55"/>
<circle cx="131.95" cy="148.57" r="0.55" fill="#6070c0" opacity="0.55"/>
<circle cx="130.78" cy="149.95" r="0.55" fill="#6070c0" opacity="0.55"/>
<circle cx="140.17" cy="147.43" r="0.55" fill="#6070c0" opacity="0.55"/>
<circle cx="137.15" cy="147.31" r="0.55" fill="#6070c0" opacity="0.55"/>
<circle cx="133.08" cy="149.38" r="0.55" fill="#6070c0" opacity="0.55"/>
<circle cx="140.84" cy="147.35" r="0.55" fill="#6070c0" opacity="0.55"/>
<circle cx="132.22" cy="148.86" r="0.55" fill="#6070c0" opacity="0.55"/>
<circle cx="124.40" cy="149.44" r="0.55" fill="#6070c0" opacity="0.55"/>
<circle cx="128.94" cy="149.38" r="0.55" fill="#6070c0" opacity="0.55"/>
<circle cx="126.20" cy="147.06" r="0.55" fill="#6070c0" opacity="0.55"/>
<circle cx="132.84" cy="148.86" r="0.55" fill="#6070c0" opacity="0.55"/>
<circle cx="129.69" cy="149.87" r="0.55" fill="#6070c0" opacity="0.55"/>
<circle cx="131.04" cy="148.09" r="0.55" fill="#6070c0" opacity="0.55"/>
<circle cx="135.04" cy="146.62" r="0.55" fill="#6070c0" opacity="0.55"/>
<circle cx="128.89" cy="148.95" r="0.55" fill="#6070c0" opacity="0.55"/>
<circle cx="137.23" cy="147.96" r="0.55" fill="#6070c0" opacity="0.55"/>
<circle cx="134.22" cy="147.71" r="0.55" fill="#6070c0" opacity="0.55"/>
<circle cx="134.43" cy="150.26" r="0.55" fill="#6070c0" opacity="0.55"/>
<circle cx="129.10" cy="151.57" r="0.55" fill="#6070c0" opacity="0.55"/>
<circle cx="129.08" cy="148.97" r="0.55" fill="#6070c0" opacity="0.55"/>
<circle cx="133.66" cy="149.63" r="0.55" fill="#6070c0" opacity="0.55"/>
<circle cx="125.60" cy="146.98" r="0.55" fill="#6070c0" opacity="0.55"/>
<circle cx="136.00" cy="149.14" r="0.55" fill="#6070c0" opacity="0.55"/>
<circle cx="136.30" cy="151.14" r="0.55" fill="#6070c0" opacity="0.55"/>
<circle cx="133.75" cy="148.77" r="0.55" fill="#6070c0" opacity="0.55"/>
<circle cx="137.73" cy="148.49" r="0.55" fill="#6070c0" opacity="0.55"/>
<circle cx="141.57" cy="146.33" r="0.55" fill="#6070c0" opacity="0.55"/>
<circle cx="130.17" cy="145.04" r="0.55" fill="#6070c0" opacity="0.55"/>
<circle cx="137.01" cy="147.75" r="0.55" fill="#6070c0" opacity="0.55"/>
<circle cx="137.89" cy="150.45" r="0.55" fill="#6070c0" opacity="0.55"/>
<circle cx="132.54" cy="148.32" r="0.55" fill="#6070c0" opacity="0.55"/>
<circle cx="129.77" cy="147.96" r="0.55" fill="#6070c0" opacity="0.55"/>
<circle cx="129.22" cy="149.65" r="0.55" fill="#6070c0" opacity="0.55"/>
<circle cx="132.81" cy="148.65" r="0.55" fill="#6070c0" opacity="0.55"/>
<circle cx="131.75" cy="149.70" r="0.55" fill="#6070c0" opacity="0.55"/>
<circle cx="135.29" cy="148.17" r="0.55" fill="#6070c0" opacity="0.55"/>
<circle cx="117.33" cy="151.48" r="0.55" fill="#6f7fb8" opacity="0.55"/>
<circle cx="114.79" cy="156.95" r="0.55" fill="#6f7fb8" opacity="0.55"/>
<circle cx="117.05" cy="148.75" r="0.55" fill="#6f7fb8" opacity="0.55"/>
<circle cx="117.91" cy="153.17" r="0.55" fill="#6f7fb8" opacity="0.55"/>
<circle cx="114.21" cy="157.47" r="0.55" fill="#6f7fb8" opacity="0.55"/>
<circle cx="116.87" cy="155.03" r="0.55" fill="#6f7fb8" opacity="0.55"/>
<circle cx="116.68" cy="151.49" r="0.55" fill="#6f7fb8" opacity="0.55"/>
<circle cx="114.23" cy="155.30" r="0.55" fill="#6f7fb8" opacity="0.55"/>
<circle cx="116.44" cy="151.03" r="0.55" fill="#6f7fb8" opacity="0.55"/>
<circle cx="116.89" cy="152.27" r="0.55" fill="#6f7fb8" opacity="0.55"/>
<circle cx="117.35" cy="150.74" r="0.55" fill="#6f7fb8" opacity="0.55"/>
<circle cx="116.35" cy="144.73" r="0.55" fill="#6f7fb8" opacity="0.55"/>
<circle cx="115.81" cy="154.30" r="0.55" fill="#6f7fb8" opacity="0.55"/>
<circle cx="118.27" cy="150.76" r="0.55" fill="#6f7fb8" opacity="0.55"/>
<circle cx="116.23" cy="157.38" r="0.55" fill="#6f7fb8" opacity="0.55"/>
<circle cx="115.94" cy="154.50" r="0.55" fill="#6f7fb8" opacity="0.55"/>
<circle cx="118.75" cy="152.14" r="0.55" fill="#6f7fb8" opacity="0.55"/>
<circle cx="118.12" cy="149.58" r="0.55" fill="#6f7fb8" opacity="0.55"/>
<circle cx="116.69" cy="151.74" r="0.55" fill="#6f7fb8" opacity="0.55"/>
<circle cx="116.56" cy="155.84" r="0.55" fill="#6f7fb8" opacity="0.55"/>
<circle cx="119.75" cy="149.74" r="0.55" fill="#6f7fb8" opacity="0.55"/>
<circle cx="115.59" cy="153.69" r="0.55" fill="#6f7fb8" opacity="0.55"/>
<circle cx="114.92" cy="153.69" r="0.55" fill="#6f7fb8" opacity="0.55"/>
<circle cx="117.20" cy="151.06" r="0.55" fill="#6f7fb8" opacity="0.55"/>
<circle cx="117.14" cy="146.73" r="0.55" fill="#6f7fb8" opacity="0.55"/>
<circle cx="117.46" cy="146.75" r="0.55" fill="#6f7fb8" opacity="0.55"/>
<circle cx="115.42" cy="150.11" r="0.55" fill="#6f7fb8" opacity="0.55"/>
<circle cx="115.84" cy="154.92" r="0.55" fill="#6f7fb8" opacity="0.55"/>
<circle cx="116.51" cy="150.65" r="0.55" fill="#6f7fb8" opacity="0.55"/>
<circle cx="117.16" cy="157.38" r="0.55" fill="#6f7fb8" opacity="0.55"/>
<circle cx="116.41" cy="153.24" r="0.55" fill="#6f7fb8" opacity="0.55"/>
<circle cx="118.14" cy="152.91" r="0.55" fill="#6f7fb8" opacity="0.55"/>
<circle cx="114.60" cy="160.47" r="0.55" fill="#6f7fb8" opacity="0.55"/>
<circle cx="119.49" cy="145.25" r="0.55" fill="#6f7fb8" opacity="0.55"/>
<circle cx="116.35" cy="153.42" r="0.55" fill="#6f7fb8" opacity="0.55"/>
<circle cx="117.75" cy="154.27" r="0.55" fill="#6f7fb8" opacity="0.55"/>
<circle cx="116.02" cy="148.42" r="0.55" fill="#6f7fb8" opacity="0.55"/>
<circle cx="116.54" cy="155.51" r="0.55" fill="#6f7fb8" opacity="0.55"/>
<circle cx="114.87" cy="148.51" r="0.55" fill="#6f7fb8" opacity="0.55"/>
<circle cx="116.37" cy="145.41" r="0.55" fill="#6f7fb8" opacity="0.55"/>
<circle cx="116.04" cy="150.52" r="0.55" fill="#6f7fb8" opacity="0.55"/>
<circle cx="117.03" cy="149.61" r="0.55" fill="#6f7fb8" opacity="0.55"/>
<circle cx="115.17" cy="150.66" r="0.55" fill="#6f7fb8" opacity="0.55"/>
<circle cx="116.33" cy="149.74" r="0.55" fill="#6f7fb8" opacity="0.55"/>
<circle cx="116.42" cy="154.55" r="0.55" fill="#6f7fb8" opacity="0.55"/>
<circle cx="118.06" cy="157.80" r="0.55" fill="#6f7fb8" opacity="0.55"/>
<circle cx="115.30" cy="150.57" r="0.55" fill="#6f7fb8" opacity="0.55"/>
<circle cx="112.92" cy="158.46" r="0.55" fill="#6f7fb8" opacity="0.55"/>
<circle cx="115.39" cy="151.89" r="0.55" fill="#6f7fb8" opacity="0.55"/>
<circle cx="117.13" cy="147.38" r="0.55" fill="#6f7fb8" opacity="0.55"/>
<circle cx="117.05" cy="151.91" r="0.55" fill="#6f7fb8" opacity="0.55"/>
<circle cx="113.84" cy="152.99" r="0.55" fill="#6f7fb8" opacity="0.55"/>
<circle cx="118.07" cy="145.65" r="0.55" fill="#6f7fb8" opacity="0.55"/>
<circle cx="117.53" cy="152.71" r="0.55" fill="#6f7fb8" opacity="0.55"/>
<circle cx="117.06" cy="153.50" r="0.55" fill="#6f7fb8" opacity="0.55"/>
<circle cx="118.23" cy="151.24" r="0.55" fill="#6f7fb8" opacity="0.55"/>
<circle cx="117.62" cy="150.61" r="0.55" fill="#6f7fb8" opacity="0.55"/>
<circle cx="117.42" cy="149.23" r="0.55" fill="#6f7fb8" opacity="0.55"/>
<circle cx="116.25" cy="157.89" r="0.55" fill="#6f7fb8" opacity="0.55"/>
<circle cx="117.02" cy="151.46" r="0.55" fill="#6f7fb8" opacity="0.55"/>
<circle cx="114.80" cy="149.31" r="0.55" fill="#6f7fb8" opacity="0.55"/>
<circle cx="116.67" cy="155.19" r="0.55" fill="#6f7fb8" opacity="0.55"/>
<circle cx="117.00" cy="153.78" r="0.55" fill="#6f7fb8" opacity="0.55"/>
<circle cx="116.34" cy="156.60" r="0.55" fill="#6f7fb8" opacity="0.55"/>
<circle cx="115.85" cy="150.13" r="0.55" fill="#6f7fb8" opacity="0.55"/>
<circle cx="117.64" cy="152.22" r="0.55" fill="#6f7fb8" opacity="0.55"/>
<circle cx="116.01" cy="150.04" r="0.55" fill="#6f7fb8" opacity="0.55"/>
<circle cx="116.04" cy="154.12" r="0.55" fill="#6f7fb8" opacity="0.55"/>
<circle cx="116.90" cy="147.89" r="0.55" fill="#6f7fb8" opacity="0.55"/>
<circle cx="117.00" cy="152.61" r="0.55" fill="#6f7fb8" opacity="0.55"/>
<circle cx="115.00" cy="154.63" r="0.55" fill="#6f7fb8" opacity="0.55"/>
<circle cx="116.01" cy="150.86" r="0.55" fill="#6f7fb8" opacity="0.55"/>
<circle cx="117.51" cy="156.49" r="0.55" fill="#6f7fb8" opacity="0.55"/>
<circle cx="115.44" cy="153.49" r="0.55" fill="#6f7fb8" opacity="0.55"/>
<circle cx="115.17" cy="159.87" r="0.55" fill="#6f7fb8" opacity="0.55"/>
<circle cx="115.71" cy="156.06" r="0.55" fill="#6f7fb8" opacity="0.55"/>
<circle cx="115.49" cy="154.76" r="0.55" fill="#6f7fb8" opacity="0.55"/>
<circle cx="119.51" cy="143.36" r="0.55" fill="#6f7fb8" opacity="0.55"/>
<circle cx="115.79" cy="153.70" r="0.55" fill="#6f7fb8" opacity="0.55"/>
<circle cx="116.27" cy="149.73" r="0.55" fill="#6f7fb8" opacity="0.55"/>
<circle cx="119.41" cy="152.27" r="0.55" fill="#6f7fb8" opacity="0.55"/>
<circle cx="114.10" cy="154.90" r="0.55" fill="#6f7fb8" opacity="0.55"/>
<circle cx="113.99" cy="155.91" r="0.55" fill="#6f7fb8" opacity="0.55"/>
<circle cx="115.59" cy="152.49" r="0.55" fill="#6f7fb8" opacity="0.55"/>
<circle cx="118.17" cy="152.40" r="0.55" fill="#6f7fb8" opacity="0.55"/>
<circle cx="114.45" cy="146.23" r="0.55" fill="#6f7fb8" opacity="0.55"/>
<circle cx="118.06" cy="154.52" r="0.55" fill="#6f7fb8" opacity="0.55"/>
<circle cx="115.26" cy="154.92" r="0.55" fill="#6f7fb8" opacity="0.55"/>
<circle cx="117.10" cy="154.20" r="0.55" fill="#6f7fb8" opacity="0.55"/>
<circle cx="113.24" cy="150.97" r="0.55" fill="#6f7fb8" opacity="0.55"/>
<circle cx="117.66" cy="154.49" r="0.55" fill="#6f7fb8" opacity="0.55"/>
<circle cx="117.63" cy="143.65" r="0.55" fill="#6f7fb8" opacity="0.55"/>
<circle cx="116.64" cy="153.67" r="0.55" fill="#6f7fb8" opacity="0.55"/>
<circle cx="119.97" cy="148.76" r="0.55" fill="#6f7fb8" opacity="0.55"/>
<circle cx="115.94" cy="152.12" r="0.55" fill="#6f7fb8" opacity="0.55"/>
<circle cx="117.64" cy="150.49" r="0.55" fill="#6f7fb8" opacity="0.55"/>
<circle cx="118.01" cy="149.32" r="0.55" fill="#6f7fb8" opacity="0.55"/>
<circle cx="116.77" cy="150.21" r="0.55" fill="#6f7fb8" opacity="0.55"/>
<circle cx="116.62" cy="149.65" r="0.55" fill="#6f7fb8" opacity="0.55"/>
<circle cx="114.16" cy="155.72" r="0.55" fill="#6f7fb8" opacity="0.55"/>
<circle cx="116.64" cy="150.57" r="0.55" fill="#8fb050" opacity="0.8"/>
<circle cx="116.56" cy="153.98" r="0.55" fill="#8fb050" opacity="0.8"/>
<circle cx="115.62" cy="151.56" r="0.55" fill="#8fb050" opacity="0.8"/>
<circle cx="116.83" cy="152.96" r="0.55" fill="#8fb050" opacity="0.8"/>
<circle cx="116.13" cy="147.16" r="0.55" fill="#8fb050" opacity="0.8"/>
<circle cx="117.39" cy="152.52" r="0.55" fill="#8fb050" opacity="0.8"/>
<circle cx="116.41" cy="151.19" r="0.55" fill="#8fb050" opacity="0.8"/>
<circle cx="116.61" cy="150.86" r="0.55" fill="#8fb050" opacity="0.8"/>
<circle cx="115.58" cy="150.17" r="0.55" fill="#8fb050" opacity="0.8"/>
<circle cx="115.92" cy="150.45" r="0.55" fill="#8fb050" opacity="0.8"/>
<circle cx="115.47" cy="153.20" r="0.55" fill="#8fb050" opacity="0.8"/>
<circle cx="115.35" cy="153.25" r="0.55" fill="#8fb050" opacity="0.8"/>
<circle cx="115.59" cy="152.58" r="0.55" fill="#8fb050" opacity="0.8"/>
<circle cx="117.50" cy="152.25" r="0.55" fill="#8fb050" opacity="0.8"/>
<circle cx="115.82" cy="151.91" r="0.55" fill="#8fb050" opacity="0.8"/>
<circle cx="116.52" cy="147.99" r="0.55" fill="#8fb050" opacity="0.8"/>
<circle cx="115.91" cy="152.16" r="0.55" fill="#8fb050" opacity="0.8"/>
<circle cx="116.02" cy="151.98" r="0.55" fill="#8fb050" opacity="0.8"/>
<circle cx="116.99" cy="153.49" r="0.55" fill="#8fb050" opacity="0.8"/>
<circle cx="117.12" cy="153.09" r="0.55" fill="#8fb050" opacity="0.8"/>
<circle cx="116.17" cy="151.76" r="0.55" fill="#8fb050" opacity="0.8"/>
<circle cx="116.18" cy="151.11" r="0.55" fill="#8fb050" opacity="0.8"/>
<circle cx="116.26" cy="148.01" r="0.55" fill="#8fb050" opacity="0.8"/>
<circle cx="116.13" cy="151.75" r="0.55" fill="#8fb050" opacity="0.8"/>
<circle cx="115.62" cy="151.75" r="0.55" fill="#8fb050" opacity="0.8"/>
<circle cx="116.81" cy="151.44" r="0.55" fill="#8fb050" opacity="0.8"/>
<circle cx="118.06" cy="146.07" r="0.55" fill="#8fb050" opacity="0.8"/>
<circle cx="116.23" cy="147.78" r="0.55" fill="#8fb050" opacity="0.8"/>
<circle cx="117.18" cy="157.64" r="0.55" fill="#8fb050" opacity="0.8"/>
<circle cx="114.40" cy="152.08" r="0.55" fill="#8fb050" opacity="0.8"/>
<circle cx="116.82" cy="151.13" r="0.55" fill="#8fb050" opacity="0.8"/>
<circle cx="116.84" cy="146.87" r="0.55" fill="#8fb050" opacity="0.8"/>
<circle cx="117.08" cy="152.62" r="0.55" fill="#8fb050" opacity="0.8"/>
<circle cx="116.42" cy="150.51" r="0.55" fill="#8fb050" opacity="0.8"/>
<circle cx="116.91" cy="150.73" r="0.55" fill="#8fb050" opacity="0.8"/>
<circle cx="116.58" cy="150.68" r="0.55" fill="#8fb050" opacity="0.8"/>
<circle cx="114.60" cy="151.73" r="0.55" fill="#8fb050" opacity="0.8"/>
<circle cx="116.56" cy="153.46" r="0.55" fill="#8fb050" opacity="0.8"/>
<circle cx="115.70" cy="151.73" r="0.55" fill="#8fb050" opacity="0.8"/>
<circle cx="116.89" cy="152.12" r="0.55" fill="#8fb050" opacity="0.8"/>
<circle cx="117.39" cy="156.18" r="0.55" fill="#8fb050" opacity="0.8"/>
<circle cx="115.67" cy="147.57" r="0.55" fill="#8fb050" opacity="0.8"/>
<circle cx="117.09" cy="155.16" r="0.55" fill="#8fb050" opacity="0.8"/>
<circle cx="117.14" cy="153.59" r="0.55" fill="#8fb050" opacity="0.8"/>
<circle cx="115.91" cy="150.23" r="0.55" fill="#8fb050" opacity="0.8"/>
<circle cx="117.11" cy="149.79" r="0.55" fill="#8fb050" opacity="0.8"/>
<circle cx="114.95" cy="149.61" r="0.55" fill="#8fb050" opacity="0.8"/>
<circle cx="118.39" cy="156.03" r="0.55" fill="#8fb050" opacity="0.8"/>
<circle cx="115.85" cy="150.20" r="0.55" fill="#8fb050" opacity="0.8"/>
<circle cx="116.59" cy="150.15" r="0.55" fill="#8fb050" opacity="0.8"/>
<circle cx="117.45" cy="151.63" r="0.55" fill="#8fb050" opacity="0.8"/>
<circle cx="115.53" cy="154.68" r="0.55" fill="#8fb050" opacity="0.8"/>
<circle cx="115.93" cy="152.29" r="0.55" fill="#8fb050" opacity="0.8"/>
<circle cx="116.39" cy="151.11" r="0.55" fill="#8fb050" opacity="0.8"/>
<circle cx="116.66" cy="150.28" r="0.55" fill="#8fb050" opacity="0.8"/>
<circle cx="114.92" cy="146.94" r="0.55" fill="#8fb050" opacity="0.8"/>
<circle cx="115.39" cy="150.13" r="0.55" fill="#8fb050" opacity="0.8"/>
<circle cx="116.38" cy="151.92" r="0.55" fill="#8fb050" opacity="0.8"/>
<circle cx="116.84" cy="152.06" r="0.55" fill="#8fb050" opacity="0.8"/>
<circle cx="115.77" cy="150.24" r="0.55" fill="#8fb050" opacity="0.8"/>
<circle cx="114.70" cy="151.43" r="0.55" fill="#8fb050" opacity="0.8"/>
<circle cx="116.79" cy="152.97" r="0.55" fill="#8fb050" opacity="0.8"/>
<circle cx="116.30" cy="151.42" r="0.55" fill="#8fb050" opacity="0.8"/>
<circle cx="117.15" cy="151.83" r="0.55" fill="#8fb050" opacity="0.8"/>
<circle cx="116.99" cy="153.08" r="0.55" fill="#8fb050" opacity="0.8"/>
<circle cx="116.57" cy="154.67" r="0.55" fill="#8fb050" opacity="0.8"/>
<circle cx="115.94" cy="151.01" r="0.55" fill="#8fb050" opacity="0.8"/>
<circle cx="115.75" cy="150.05" r="0.55" fill="#8fb050" opacity="0.8"/>
<circle cx="117.64" cy="155.67" r="0.55" fill="#8fb050" opacity="0.8"/>
<circle cx="116.42" cy="153.05" r="0.55" fill="#8fb050" opacity="0.8"/>
<circle cx="116.34" cy="177.25" r="0.55" fill="#a0a8d4" opacity="0.4"/>
<circle cx="116.36" cy="163.79" r="0.55" fill="#a0a8d4" opacity="0.4"/>
<circle cx="114.89" cy="174.94" r="0.55" fill="#a0a8d4" opacity="0.4"/>
<circle cx="116.55" cy="172.68" r="0.55" fill="#a0a8d4" opacity="0.4"/>
<circle cx="114.71" cy="169.70" r="0.55" fill="#a0a8d4" opacity="0.4"/>
<circle cx="114.87" cy="166.42" r="0.55" fill="#a0a8d4" opacity="0.4"/>
<circle cx="116.60" cy="167.93" r="0.55" fill="#a0a8d4" opacity="0.4"/>
<circle cx="115.42" cy="186.06" r="0.55" fill="#a0a8d4" opacity="0.4"/>
<circle cx="116.35" cy="174.18" r="0.55" fill="#a0a8d4" opacity="0.4"/>
<circle cx="114.91" cy="174.67" r="0.55" fill="#a0a8d4" opacity="0.4"/>
<circle cx="116.70" cy="176.05" r="0.55" fill="#a0a8d4" opacity="0.4"/>
<circle cx="116.41" cy="172.64" r="0.55" fill="#a0a8d4" opacity="0.4"/>
<circle cx="115.81" cy="170.69" r="0.55" fill="#a0a8d4" opacity="0.4"/>
<circle cx="115.74" cy="180.45" r="0.55" fill="#a0a8d4" opacity="0.4"/>
<circle cx="114.26" cy="171.59" r="0.55" fill="#a0a8d4" opacity="0.4"/>
<circle cx="115.59" cy="168.29" r="0.55" fill="#a0a8d4" opacity="0.4"/>
<circle cx="115.15" cy="177.11" r="0.55" fill="#a0a8d4" opacity="0.4"/>
<circle cx="117.00" cy="176.09" r="0.55" fill="#a0a8d4" opacity="0.4"/>
<circle cx="115.66" cy="161.92" r="0.55" fill="#a0a8d4" opacity="0.4"/>
<circle cx="116.94" cy="172.50" r="0.55" fill="#a0a8d4" opacity="0.4"/>
<circle cx="115.37" cy="164.73" r="0.55" fill="#a0a8d4" opacity="0.4"/>
<circle cx="115.35" cy="164.88" r="0.55" fill="#a0a8d4" opacity="0.4"/>
<circle cx="115.46" cy="175.03" r="0.55" fill="#a0a8d4" opacity="0.4"/>
<circle cx="115.42" cy="173.82" r="0.55" fill="#a0a8d4" opacity="0.4"/>
<circle cx="114.72" cy="181.29" r="0.55" fill="#a0a8d4" opacity="0.4"/>
<circle cx="114.88" cy="160.18" r="0.55" fill="#a0a8d4" opacity="0.4"/>
<circle cx="115.25" cy="167.04" r="0.55" fill="#a0a8d4" opacity="0.4"/>
<circle cx="114.59" cy="169.69" r="0.55" fill="#a0a8d4" opacity="0.4"/>
<circle cx="115.63" cy="164.32" r="0.55" fill="#a0a8d4" opacity="0.4"/>
<circle cx="115.29" cy="181.27" r="0.55" fill="#a0a8d4" opacity="0.4"/>
<circle cx="115.95" cy="171.01" r="0.55" fill="#a0a8d4" opacity="0.4"/>
<circle cx="115.50" cy="171.22" r="0.55" fill="#a0a8d4" opacity="0.4"/>
<circle cx="115.36" cy="176.76" r="0.55" fill="#a0a8d4" opacity="0.4"/>
<circle cx="115.33" cy="156.37" r="0.55" fill="#a0a8d4" opacity="0.4"/>
<circle cx="115.38" cy="166.22" r="0.55" fill="#a0a8d4" opacity="0.4"/>
<circle cx="115.92" cy="168.03" r="0.55" fill="#a0a8d4" opacity="0.4"/>
<circle cx="115.52" cy="186.15" r="0.55" fill="#a0a8d4" opacity="0.4"/>
<circle cx="114.56" cy="164.69" r="0.55" fill="#a0a8d4" opacity="0.4"/>
<circle cx="114.27" cy="156.43" r="0.55" fill="#a0a8d4" opacity="0.4"/>
<circle cx="113.90" cy="174.37" r="0.55" fill="#a0a8d4" opacity="0.4"/>
</g></g>
<rect x="109.40" y="139.40" width="13.20" height="50.00" fill="none" stroke="#2a2a2a" stroke-width="0.9"/>
<line x1="109.40" y1="162.20" x2="122.60" y2="162.20" stroke="#2a2a2a" stroke-width="0.9"/>
<rect x="122.60" y="138.10" width="22.90" height="51.30" fill="none" stroke="#2a2a2a" stroke-width="0.9"/>
<text x="92.90" y="148.20" font-size="7.7" fill="#231f20" stroke="#231f20" stroke-width="0.04" textLength="15.00" lengthAdjust="spacingAndGlyphs">69.5</text>
<text x="95.50" y="187.60" font-size="7.7" fill="#231f20" stroke="#231f20" stroke-width="0.04" textLength="10.50" lengthAdjust="spacingAndGlyphs">6.9</text>
<text x="129.30" y="187.60" font-size="7.7" fill="#231f20" stroke="#231f20" stroke-width="0.04" textLength="15.00" lengthAdjust="spacingAndGlyphs">23.6</text>
<rect x="147.60" y="136.20" width="54.00" height="53.40" fill="#fff" stroke="#c8c8c8" stroke-width="0.8"/>
<text x="166.30" y="132.80" font-size="7.8" fill="#231f20" stroke="#231f20" stroke-width="0.1" textLength="14.50" lengthAdjust="spacingAndGlyphs">PBS</text>
<clipPath id="cp2"><rect x="148.10" y="136.8" width="53.00" height="52.4"/></clipPath><g clip-path="url(#cp2)"><g filter="url(#fb)">
<circle cx="183.60" cy="147.44" r="0.55" fill="#6070c0" opacity="0.55"/>
<circle cx="179.74" cy="151.20" r="0.55" fill="#6070c0" opacity="0.55"/>
<circle cx="183.26" cy="149.22" r="0.55" fill="#6070c0" opacity="0.55"/>
<circle cx="189.62" cy="149.62" r="0.55" fill="#6070c0" opacity="0.55"/>
<circle cx="198.14" cy="147.17" r="0.55" fill="#6070c0" opacity="0.55"/>
<circle cx="188.32" cy="148.61" r="0.55" fill="#6070c0" opacity="0.55"/>
<circle cx="197.50" cy="147.77" r="0.55" fill="#6070c0" opacity="0.55"/>
<circle cx="185.96" cy="149.50" r="0.55" fill="#6070c0" opacity="0.55"/>
<circle cx="189.05" cy="148.28" r="0.55" fill="#6070c0" opacity="0.55"/>
<circle cx="184.48" cy="147.84" r="0.55" fill="#6070c0" opacity="0.55"/>
<circle cx="184.24" cy="147.65" r="0.55" fill="#6070c0" opacity="0.55"/>
<circle cx="194.18" cy="147.57" r="0.55" fill="#6070c0" opacity="0.55"/>
<circle cx="181.42" cy="151.67" r="0.55" fill="#6070c0" opacity="0.55"/>
<circle cx="191.76" cy="145.39" r="0.55" fill="#6070c0" opacity="0.55"/>
<circle cx="197.55" cy="147.06" r="0.55" fill="#6070c0" opacity="0.55"/>
<circle cx="198.21" cy="144.59" r="0.55" fill="#6070c0" opacity="0.55"/>
<circle cx="190.45" cy="148.36" r="0.55" fill="#6070c0" opacity="0.55"/>
<circle cx="188.62" cy="148.52" r="0.55" fill="#6070c0" opacity="0.55"/>
<circle cx="192.74" cy="145.63" r="0.55" fill="#6070c0" opacity="0.55"/>
<circle cx="180.50" cy="148.73" r="0.55" fill="#6070c0" opacity="0.55"/>
<circle cx="184.36" cy="148.68" r="0.55" fill="#6070c0" opacity="0.55"/>
<circle cx="189.53" cy="148.40" r="0.55" fill="#6070c0" opacity="0.55"/>
<circle cx="187.49" cy="147.84" r="0.55" fill="#6070c0" opacity="0.55"/>
<circle cx="185.39" cy="150.20" r="0.55" fill="#6070c0" opacity="0.55"/>
<circle cx="191.61" cy="147.71" r="0.55" fill="#6070c0" opacity="0.55"/>
<circle cx="186.18" cy="150.68" r="0.55" fill="#6070c0" opacity="0.55"/>
<circle cx="184.50" cy="150.07" r="0.55" fill="#6070c0" opacity="0.55"/>
<circle cx="193.59" cy="146.81" r="0.55" fill="#6070c0" opacity="0.55"/>
<circle cx="191.62" cy="146.33" r="0.55" fill="#6070c0" opacity="0.55"/>
<circle cx="192.96" cy="147.49" r="0.55" fill="#6070c0" opacity="0.55"/>
<circle cx="179.20" cy="151.39" r="0.55" fill="#6070c0" opacity="0.55"/>
<circle cx="183.07" cy="151.14" r="0.55" fill="#6070c0" opacity="0.55"/>
<circle cx="183.83" cy="149.31" r="0.55" fill="#6070c0" opacity="0.55"/>
<circle cx="188.92" cy="147.87" r="0.55" fill="#6070c0" opacity="0.55"/>
<circle cx="188.74" cy="147.67" r="0.55" fill="#6070c0" opacity="0.55"/>
<circle cx="191.09" cy="147.73" r="0.55" fill="#6070c0" opacity="0.55"/>
<circle cx="187.91" cy="145.38" r="0.55" fill="#6070c0" opacity="0.55"/>
<circle cx="193.71" cy="147.12" r="0.55" fill="#6070c0" opacity="0.55"/>
<circle cx="178.00" cy="151.03" r="0.55" fill="#6070c0" opacity="0.55"/>
<circle cx="190.28" cy="149.13" r="0.55" fill="#6070c0" opacity="0.55"/>
<circle cx="182.12" cy="151.67" r="0.55" fill="#6070c0" opacity="0.55"/>
<circle cx="187.27" cy="151.37" r="0.55" fill="#6070c0" opacity="0.55"/>
<circle cx="186.90" cy="149.52" r="0.55" fill="#6070c0" opacity="0.55"/>
<circle cx="185.25" cy="147.89" r="0.55" fill="#6070c0" opacity="0.55"/>
<circle cx="193.60" cy="148.13" r="0.55" fill="#6070c0" opacity="0.55"/>
<circle cx="195.94" cy="147.50" r="0.55" fill="#6070c0" opacity="0.55"/>
<circle cx="184.00" cy="147.57" r="0.55" fill="#6070c0" opacity="0.55"/>
<circle cx="183.85" cy="148.73" r="0.55" fill="#6070c0" opacity="0.55"/>
<circle cx="183.30" cy="150.29" r="0.55" fill="#6070c0" opacity="0.55"/>
<circle cx="189.18" cy="147.88" r="0.55" fill="#6070c0" opacity="0.55"/>
<circle cx="188.38" cy="148.22" r="0.55" fill="#6070c0" opacity="0.55"/>
<circle cx="188.83" cy="149.13" r="0.55" fill="#6070c0" opacity="0.55"/>
<circle cx="192.45" cy="146.61" r="0.55" fill="#6070c0" opacity="0.55"/>
<circle cx="179.82" cy="152.10" r="0.55" fill="#6070c0" opacity="0.55"/>
<circle cx="188.40" cy="149.63" r="0.55" fill="#6070c0" opacity="0.55"/>
<circle cx="178.64" cy="150.40" r="0.55" fill="#6070c0" opacity="0.55"/>
<circle cx="187.27" cy="147.02" r="0.55" fill="#6070c0" opacity="0.55"/>
<circle cx="184.93" cy="150.05" r="0.55" fill="#6070c0" opacity="0.55"/>
<circle cx="193.68" cy="148.89" r="0.55" fill="#6070c0" opacity="0.55"/>
<circle cx="182.52" cy="148.23" r="0.55" fill="#6070c0" opacity="0.55"/>
<circle cx="190.53" cy="148.92" r="0.55" fill="#6070c0" opacity="0.55"/>
<circle cx="188.19" cy="146.96" r="0.55" fill="#6070c0" opacity="0.55"/>
<circle cx="191.89" cy="148.42" r="0.55" fill="#6070c0" opacity="0.55"/>
<circle cx="190.33" cy="147.36" r="0.55" fill="#6070c0" opacity="0.55"/>
<circle cx="189.33" cy="149.05" r="0.55" fill="#6070c0" opacity="0.55"/>
<circle cx="184.03" cy="147.36" r="0.55" fill="#6070c0" opacity="0.55"/>
<circle cx="189.38" cy="148.68" r="0.55" fill="#6070c0" opacity="0.55"/>
<circle cx="187.80" cy="149.53" r="0.55" fill="#6070c0" opacity="0.55"/>
<circle cx="184.34" cy="149.28" r="0.55" fill="#6070c0" opacity="0.55"/>
<circle cx="186.02" cy="149.61" r="0.55" fill="#6070c0" opacity="0.55"/>
<circle cx="195.96" cy="146.25" r="0.55" fill="#6070c0" opacity="0.55"/>
<circle cx="198.88" cy="147.55" r="0.55" fill="#6070c0" opacity="0.55"/>
<circle cx="191.88" cy="148.19" r="0.55" fill="#6070c0" opacity="0.55"/>
<circle cx="196.91" cy="146.09" r="0.55" fill="#6070c0" opacity="0.55"/>
<circle cx="186.62" cy="147.61" r="0.55" fill="#6070c0" opacity="0.55"/>
<circle cx="190.38" cy="149.42" r="0.55" fill="#6070c0" opacity="0.55"/>
<circle cx="190.45" cy="148.36" r="0.55" fill="#6070c0" opacity="0.55"/>
<circle cx="186.47" cy="149.04" r="0.55" fill="#6070c0" opacity="0.55"/>
<circle cx="180.16" cy="151.58" r="0.55" fill="#6070c0" opacity="0.55"/>
<circle cx="185.02" cy="147.96" r="0.55" fill="#6070c0" opacity="0.55"/>
<circle cx="183.27" cy="148.70" r="0.55" fill="#6070c0" opacity="0.55"/>
<circle cx="192.35" cy="148.61" r="0.55" fill="#6070c0" opacity="0.55"/>
<circle cx="180.49" cy="151.36" r="0.55" fill="#6070c0" opacity="0.55"/>
<circle cx="192.09" cy="146.82" r="0.55" fill="#6070c0" opacity="0.55"/>
<circle cx="179.36" cy="149.75" r="0.55" fill="#6070c0" opacity="0.55"/>
<circle cx="184.20" cy="149.79" r="0.55" fill="#6070c0" opacity="0.55"/>
<circle cx="185.06" cy="146.90" r="0.55" fill="#6070c0" opacity="0.55"/>
<circle cx="188.35" cy="146.66" r="0.55" fill="#6070c0" opacity="0.55"/>
<circle cx="192.02" cy="146.13" r="0.55" fill="#6070c0" opacity="0.55"/>
<circle cx="183.57" cy="148.59" r="0.55" fill="#6070c0" opacity="0.55"/>
<circle cx="184.94" cy="150.70" r="0.55" fill="#6070c0" opacity="0.55"/>
<circle cx="192.21" cy="148.13" r="0.55" fill="#6070c0" opacity="0.55"/>
<circle cx="188.80" cy="146.53" r="0.55" fill="#6070c0" opacity="0.55"/>
<circle cx="184.57" cy="148.69" r="0.55" fill="#6070c0" opacity="0.55"/>
<circle cx="182.41" cy="150.42" r="0.55" fill="#6070c0" opacity="0.55"/>
<circle cx="183.36" cy="148.81" r="0.55" fill="#6070c0" opacity="0.55"/>
<circle cx="181.38" cy="147.77" r="0.55" fill="#6070c0" opacity="0.55"/>
<circle cx="191.03" cy="149.24" r="0.55" fill="#6070c0" opacity="0.55"/>
<circle cx="188.18" cy="147.33" r="0.55" fill="#6070c0" opacity="0.55"/>
<circle cx="173.09" cy="152.32" r="0.55" fill="#6070c0" opacity="0.55"/>
<circle cx="194.08" cy="147.33" r="0.55" fill="#6070c0" opacity="0.55"/>
<circle cx="192.84" cy="148.97" r="0.55" fill="#6070c0" opacity="0.55"/>
<circle cx="193.40" cy="146.66" r="0.55" fill="#6070c0" opacity="0.55"/>
<circle cx="193.33" cy="148.05" r="0.55" fill="#6070c0" opacity="0.55"/>
<circle cx="179.18" cy="150.18" r="0.55" fill="#6070c0" opacity="0.55"/>
<circle cx="179.86" cy="150.34" r="0.55" fill="#6070c0" opacity="0.55"/>
<circle cx="190.31" cy="146.70" r="0.55" fill="#6070c0" opacity="0.55"/>
<circle cx="176.86" cy="152.67" r="0.55" fill="#6070c0" opacity="0.55"/>
<circle cx="189.90" cy="149.68" r="0.55" fill="#6070c0" opacity="0.55"/>
<circle cx="180.71" cy="151.46" r="0.55" fill="#6070c0" opacity="0.55"/>
<circle cx="199.10" cy="148.03" r="0.55" fill="#6070c0" opacity="0.55"/>
<circle cx="186.45" cy="149.16" r="0.55" fill="#6070c0" opacity="0.55"/>
<circle cx="186.94" cy="149.87" r="0.55" fill="#6070c0" opacity="0.55"/>
<circle cx="193.07" cy="147.34" r="0.55" fill="#6070c0" opacity="0.55"/>
<circle cx="180.43" cy="151.17" r="0.55" fill="#6070c0" opacity="0.55"/>
<circle cx="185.15" cy="149.89" r="0.55" fill="#6070c0" opacity="0.55"/>
<circle cx="189.33" cy="149.99" r="0.55" fill="#6070c0" opacity="0.55"/>
<circle cx="193.46" cy="146.63" r="0.55" fill="#6070c0" opacity="0.55"/>
<circle cx="189.83" cy="150.03" r="0.55" fill="#6070c0" opacity="0.55"/>
<circle cx="184.74" cy="149.77" r="0.55" fill="#6070c0" opacity="0.55"/>
<circle cx="194.19" cy="148.39" r="0.55" fill="#6070c0" opacity="0.55"/>
<circle cx="189.93" cy="146.51" r="0.55" fill="#6070c0" opacity="0.55"/>
<circle cx="180.83" cy="150.51" r="0.55" fill="#6070c0" opacity="0.55"/>
<circle cx="190.24" cy="150.82" r="0.55" fill="#6070c0" opacity="0.55"/>
<circle cx="183.20" cy="150.94" r="0.55" fill="#6070c0" opacity="0.55"/>
<circle cx="191.18" cy="145.81" r="0.55" fill="#6070c0" opacity="0.55"/>
<circle cx="183.17" cy="149.85" r="0.55" fill="#6070c0" opacity="0.55"/>
<circle cx="184.82" cy="149.08" r="0.55" fill="#6070c0" opacity="0.55"/>
<circle cx="189.80" cy="147.12" r="0.55" fill="#6070c0" opacity="0.55"/>
<circle cx="189.83" cy="147.31" r="0.55" fill="#6070c0" opacity="0.55"/>
<circle cx="184.73" cy="149.89" r="0.55" fill="#6070c0" opacity="0.55"/>
<circle cx="184.51" cy="149.66" r="0.55" fill="#6070c0" opacity="0.55"/>
<circle cx="196.05" cy="146.54" r="0.55" fill="#6070c0" opacity="0.55"/>
<circle cx="186.91" cy="149.58" r="0.55" fill="#6070c0" opacity="0.55"/>
<circle cx="185.83" cy="150.23" r="0.55" fill="#6070c0" opacity="0.55"/>
<circle cx="180.81" cy="150.94" r="0.55" fill="#6070c0" opacity="0.55"/>
<circle cx="184.56" cy="148.42" r="0.55" fill="#6070c0" opacity="0.55"/>
<circle cx="196.73" cy="145.38" r="0.55" fill="#6070c0" opacity="0.55"/>
<circle cx="197.06" cy="147.01" r="0.55" fill="#6070c0" opacity="0.55"/>
<circle cx="195.01" cy="145.66" r="0.55" fill="#6070c0" opacity="0.55"/>
<circle cx="194.29" cy="148.59" r="0.55" fill="#6070c0" opacity="0.55"/>
<circle cx="186.84" cy="148.61" r="0.55" fill="#6070c0" opacity="0.55"/>
<circle cx="200.67" cy="145.58" r="0.55" fill="#6070c0" opacity="0.55"/>
<circle cx="185.08" cy="148.48" r="0.55" fill="#6070c0" opacity="0.55"/>
<circle cx="189.97" cy="148.37" r="0.55" fill="#6070c0" opacity="0.55"/>
<circle cx="188.90" cy="150.21" r="0.55" fill="#6070c0" opacity="0.55"/>
<circle cx="185.87" cy="149.53" r="0.55" fill="#6070c0" opacity="0.55"/>
<circle cx="195.03" cy="145.62" r="0.55" fill="#6070c0" opacity="0.55"/>
<circle cx="193.53" cy="149.20" r="0.55" fill="#6070c0" opacity="0.55"/>
<circle cx="179.98" cy="149.20" r="0.55" fill="#6070c0" opacity="0.55"/>
<circle cx="181.47" cy="147.98" r="0.55" fill="#6070c0" opacity="0.55"/>
<circle cx="189.43" cy="146.02" r="0.55" fill="#6070c0" opacity="0.55"/>
<circle cx="190.54" cy="149.50" r="0.55" fill="#6070c0" opacity="0.55"/>
<circle cx="178.79" cy="150.37" r="0.55" fill="#6070c0" opacity="0.55"/>
<circle cx="177.46" cy="151.94" r="0.55" fill="#6070c0" opacity="0.55"/>
<circle cx="183.49" cy="149.28" r="0.55" fill="#6070c0" opacity="0.55"/>
<circle cx="187.93" cy="149.11" r="0.55" fill="#6070c0" opacity="0.55"/>
<circle cx="185.65" cy="149.07" r="0.55" fill="#6070c0" opacity="0.55"/>
<circle cx="184.61" cy="149.44" r="0.55" fill="#6070c0" opacity="0.55"/>
<circle cx="181.25" cy="150.20" r="0.55" fill="#6070c0" opacity="0.55"/>
<circle cx="177.05" cy="150.60" r="0.55" fill="#6070c0" opacity="0.55"/>
<circle cx="197.75" cy="146.18" r="0.55" fill="#6070c0" opacity="0.55"/>
<circle cx="180.84" cy="150.52" r="0.55" fill="#6070c0" opacity="0.55"/>
<circle cx="181.87" cy="148.11" r="0.55" fill="#6070c0" opacity="0.55"/>
<circle cx="183.76" cy="150.35" r="0.55" fill="#6070c0" opacity="0.55"/>
<circle cx="189.53" cy="147.99" r="0.55" fill="#6070c0" opacity="0.55"/>
<circle cx="182.27" cy="148.66" r="0.55" fill="#6070c0" opacity="0.55"/>
<circle cx="194.77" cy="147.10" r="0.55" fill="#6070c0" opacity="0.55"/>
<circle cx="181.86" cy="147.59" r="0.55" fill="#6070c0" opacity="0.55"/>
<circle cx="180.83" cy="153.04" r="0.55" fill="#6070c0" opacity="0.55"/>
<circle cx="181.34" cy="150.02" r="0.55" fill="#6070c0" opacity="0.55"/>
<circle cx="188.58" cy="148.16" r="0.55" fill="#6070c0" opacity="0.55"/>
<circle cx="185.65" cy="147.50" r="0.55" fill="#6070c0" opacity="0.55"/>
<circle cx="182.33" cy="151.78" r="0.55" fill="#6070c0" opacity="0.55"/>
<circle cx="183.68" cy="150.49" r="0.55" fill="#6070c0" opacity="0.55"/>
<circle cx="178.38" cy="150.52" r="0.55" fill="#6070c0" opacity="0.55"/>
<circle cx="189.17" cy="149.37" r="0.55" fill="#6070c0" opacity="0.55"/>
<circle cx="181.66" cy="150.70" r="0.55" fill="#6070c0" opacity="0.55"/>
<circle cx="189.37" cy="147.31" r="0.55" fill="#6070c0" opacity="0.55"/>
<circle cx="189.81" cy="147.02" r="0.55" fill="#6070c0" opacity="0.55"/>
<circle cx="183.24" cy="149.62" r="0.55" fill="#6070c0" opacity="0.55"/>
<circle cx="172.97" cy="152.03" r="0.55" fill="#6070c0" opacity="0.55"/>
<circle cx="181.77" cy="148.34" r="0.55" fill="#6070c0" opacity="0.55"/>
<circle cx="185.43" cy="149.97" r="0.55" fill="#6070c0" opacity="0.55"/>
<circle cx="185.67" cy="150.48" r="0.55" fill="#6070c0" opacity="0.55"/>
<circle cx="180.96" cy="148.71" r="0.55" fill="#6070c0" opacity="0.55"/>
<circle cx="195.89" cy="147.00" r="0.55" fill="#6070c0" opacity="0.55"/>
<circle cx="192.33" cy="146.48" r="0.55" fill="#6070c0" opacity="0.55"/>
<circle cx="191.87" cy="147.83" r="0.55" fill="#6070c0" opacity="0.55"/>
<circle cx="190.97" cy="147.78" r="0.55" fill="#6070c0" opacity="0.55"/>
<circle cx="173.09" cy="149.79" r="0.55" fill="#6f7fb8" opacity="0.55"/>
<circle cx="170.05" cy="146.98" r="0.55" fill="#6f7fb8" opacity="0.55"/>
<circle cx="173.02" cy="149.49" r="0.55" fill="#6f7fb8" opacity="0.55"/>
<circle cx="169.94" cy="148.80" r="0.55" fill="#6f7fb8" opacity="0.55"/>
<circle cx="170.78" cy="147.68" r="0.55" fill="#6f7fb8" opacity="0.55"/>
<circle cx="170.99" cy="149.87" r="0.55" fill="#6f7fb8" opacity="0.55"/>
<circle cx="170.63" cy="148.74" r="0.55" fill="#6f7fb8" opacity="0.55"/>
<circle cx="171.45" cy="150.43" r="0.55" fill="#6f7fb8" opacity="0.55"/>
<circle cx="171.56" cy="152.85" r="0.55" fill="#6f7fb8" opacity="0.55"/>
<circle cx="171.88" cy="144.56" r="0.55" fill="#6f7fb8" opacity="0.55"/>
<circle cx="170.65" cy="149.29" r="0.55" fill="#6f7fb8" opacity="0.55"/>
<circle cx="172.48" cy="146.64" r="0.55" fill="#6f7fb8" opacity="0.55"/>
<circle cx="170.40" cy="151.00" r="0.55" fill="#6f7fb8" opacity="0.55"/>
<circle cx="170.93" cy="155.37" r="0.55" fill="#6f7fb8" opacity="0.55"/>
<circle cx="170.78" cy="155.28" r="0.55" fill="#6f7fb8" opacity="0.55"/>
<circle cx="169.35" cy="145.84" r="0.55" fill="#6f7fb8" opacity="0.55"/>
<circle cx="173.11" cy="153.48" r="0.55" fill="#6f7fb8" opacity="0.55"/>
<circle cx="172.08" cy="152.42" r="0.55" fill="#6f7fb8" opacity="0.55"/>
<circle cx="172.08" cy="147.87" r="0.55" fill="#6f7fb8" opacity="0.55"/>
<circle cx="172.73" cy="150.19" r="0.55" fill="#6f7fb8" opacity="0.55"/>
<circle cx="172.78" cy="152.30" r="0.55" fill="#6f7fb8" opacity="0.55"/>
<circle cx="168.64" cy="147.62" r="0.55" fill="#6f7fb8" opacity="0.55"/>
<circle cx="172.98" cy="151.53" r="0.55" fill="#6f7fb8" opacity="0.55"/>
<circle cx="170.85" cy="152.82" r="0.55" fill="#6f7fb8" opacity="0.55"/>
<circle cx="170.80" cy="150.15" r="0.55" fill="#6f7fb8" opacity="0.55"/>
<circle cx="171.54" cy="152.49" r="0.55" fill="#6f7fb8" opacity="0.55"/>
<circle cx="173.52" cy="152.16" r="0.55" fill="#6f7fb8" opacity="0.55"/>
<circle cx="174.03" cy="158.13" r="0.55" fill="#6f7fb8" opacity="0.55"/>
<circle cx="173.80" cy="155.61" r="0.55" fill="#6f7fb8" opacity="0.55"/>
<circle cx="171.58" cy="152.47" r="0.55" fill="#6f7fb8" opacity="0.55"/>
<circle cx="171.20" cy="149.51" r="0.55" fill="#6f7fb8" opacity="0.55"/>
<circle cx="171.31" cy="149.82" r="0.55" fill="#6f7fb8" opacity="0.55"/>
<circle cx="173.70" cy="153.82" r="0.55" fill="#6f7fb8" opacity="0.55"/>
<circle cx="170.77" cy="145.49" r="0.55" fill="#6f7fb8" opacity="0.55"/>
<circle cx="171.33" cy="150.58" r="0.55" fill="#6f7fb8" opacity="0.55"/>
<circle cx="169.88" cy="148.14" r="0.55" fill="#6f7fb8" opacity="0.55"/>
<circle cx="168.25" cy="153.93" r="0.55" fill="#6f7fb8" opacity="0.55"/>
<circle cx="171.31" cy="160.78" r="0.55" fill="#6f7fb8" opacity="0.55"/>
<circle cx="171.36" cy="151.50" r="0.55" fill="#6f7fb8" opacity="0.55"/>
<circle cx="173.42" cy="152.46" r="0.55" fill="#6f7fb8" opacity="0.55"/>
<circle cx="171.63" cy="150.74" r="0.55" fill="#6f7fb8" opacity="0.55"/>
<circle cx="170.55" cy="157.10" r="0.55" fill="#6f7fb8" opacity="0.55"/>
<circle cx="172.80" cy="157.83" r="0.55" fill="#6f7fb8" opacity="0.55"/>
<circle cx="170.91" cy="152.10" r="0.55" fill="#6f7fb8" opacity="0.55"/>
<circle cx="170.17" cy="155.29" r="0.55" fill="#6f7fb8" opacity="0.55"/>
<circle cx="169.45" cy="153.92" r="0.55" fill="#6f7fb8" opacity="0.55"/>
<circle cx="172.93" cy="156.80" r="0.55" fill="#6f7fb8" opacity="0.55"/>
<circle cx="170.08" cy="155.70" r="0.55" fill="#6f7fb8" opacity="0.55"/>
<circle cx="170.40" cy="149.43" r="0.55" fill="#6f7fb8" opacity="0.55"/>
<circle cx="169.55" cy="155.93" r="0.55" fill="#6f7fb8" opacity="0.55"/>
<circle cx="173.71" cy="149.98" r="0.55" fill="#6f7fb8" opacity="0.55"/>
<circle cx="170.34" cy="150.85" r="0.55" fill="#6f7fb8" opacity="0.55"/>
<circle cx="174.91" cy="155.41" r="0.55" fill="#6f7fb8" opacity="0.55"/>
<circle cx="170.64" cy="145.90" r="0.55" fill="#6f7fb8" opacity="0.55"/>
<circle cx="170.46" cy="156.04" r="0.55" fill="#6f7fb8" opacity="0.55"/>
<circle cx="174.01" cy="151.09" r="0.55" fill="#6f7fb8" opacity="0.55"/>
<circle cx="170.43" cy="150.27" r="0.55" fill="#6f7fb8" opacity="0.55"/>
<circle cx="168.76" cy="155.09" r="0.55" fill="#6f7fb8" opacity="0.55"/>
<circle cx="169.88" cy="155.61" r="0.55" fill="#6f7fb8" opacity="0.55"/>
<circle cx="169.01" cy="147.68" r="0.55" fill="#6f7fb8" opacity="0.55"/>
<circle cx="171.80" cy="149.40" r="0.55" fill="#6f7fb8" opacity="0.55"/>
<circle cx="172.49" cy="152.03" r="0.55" fill="#6f7fb8" opacity="0.55"/>
<circle cx="169.76" cy="154.11" r="0.55" fill="#6f7fb8" opacity="0.55"/>
<circle cx="172.58" cy="145.50" r="0.55" fill="#6f7fb8" opacity="0.55"/>
<circle cx="173.96" cy="153.69" r="0.55" fill="#6f7fb8" opacity="0.55"/>
<circle cx="172.46" cy="145.68" r="0.55" fill="#6f7fb8" opacity="0.55"/>
<circle cx="170.39" cy="150.81" r="0.55" fill="#6f7fb8" opacity="0.55"/>
<circle cx="172.91" cy="147.04" r="0.55" fill="#6f7fb8" opacity="0.55"/>
<circle cx="170.16" cy="145.10" r="0.55" fill="#6f7fb8" opacity="0.55"/>
<circle cx="171.06" cy="153.18" r="0.55" fill="#6f7fb8" opacity="0.55"/>
<circle cx="169.04" cy="149.99" r="0.55" fill="#6f7fb8" opacity="0.55"/>
<circle cx="172.11" cy="157.39" r="0.55" fill="#6f7fb8" opacity="0.55"/>
<circle cx="172.33" cy="150.97" r="0.55" fill="#6f7fb8" opacity="0.55"/>
<circle cx="169.75" cy="148.82" r="0.55" fill="#6f7fb8" opacity="0.55"/>
<circle cx="170.47" cy="152.50" r="0.55" fill="#6f7fb8" opacity="0.55"/>
<circle cx="171.33" cy="157.67" r="0.55" fill="#6f7fb8" opacity="0.55"/>
<circle cx="171.80" cy="148.36" r="0.55" fill="#6f7fb8" opacity="0.55"/>
<circle cx="173.56" cy="155.23" r="0.55" fill="#6f7fb8" opacity="0.55"/>
<circle cx="171.54" cy="149.55" r="0.55" fill="#6f7fb8" opacity="0.55"/>
<circle cx="168.78" cy="148.52" r="0.55" fill="#6f7fb8" opacity="0.55"/>
<circle cx="172.68" cy="149.27" r="0.55" fill="#6f7fb8" opacity="0.55"/>
<circle cx="169.55" cy="152.66" r="0.55" fill="#6f7fb8" opacity="0.55"/>
<circle cx="171.74" cy="154.06" r="0.55" fill="#6f7fb8" opacity="0.55"/>
<circle cx="172.32" cy="156.79" r="0.55" fill="#6f7fb8" opacity="0.55"/>
<circle cx="170.22" cy="155.33" r="0.55" fill="#6f7fb8" opacity="0.55"/>
<circle cx="170.02" cy="154.36" r="0.55" fill="#6f7fb8" opacity="0.55"/>
<circle cx="171.65" cy="152.83" r="0.55" fill="#6f7fb8" opacity="0.55"/>
<circle cx="172.75" cy="151.94" r="0.55" fill="#6f7fb8" opacity="0.55"/>
<circle cx="172.96" cy="154.98" r="0.55" fill="#6f7fb8" opacity="0.55"/>
<circle cx="171.59" cy="150.07" r="0.55" fill="#6f7fb8" opacity="0.55"/>
<circle cx="170.35" cy="150.21" r="0.55" fill="#6f7fb8" opacity="0.55"/>
<circle cx="171.12" cy="151.92" r="0.55" fill="#6f7fb8" opacity="0.55"/>
<circle cx="175.57" cy="154.17" r="0.55" fill="#6f7fb8" opacity="0.55"/>
<circle cx="172.48" cy="149.07" r="0.55" fill="#6f7fb8" opacity="0.55"/>
<circle cx="170.41" cy="150.92" r="0.55" fill="#6f7fb8" opacity="0.55"/>
<circle cx="171.67" cy="148.48" r="0.55" fill="#6f7fb8" opacity="0.55"/>
<circle cx="173.66" cy="150.09" r="0.55" fill="#6f7fb8" opacity="0.55"/>
<circle cx="172.91" cy="144.06" r="0.55" fill="#6f7fb8" opacity="0.55"/>
<circle cx="171.39" cy="152.94" r="0.55" fill="#6f7fb8" opacity="0.55"/>
<circle cx="171.67" cy="154.05" r="0.55" fill="#6f7fb8" opacity="0.55"/>
<circle cx="171.62" cy="152.16" r="0.55" fill="#8fb050" opacity="0.8"/>
<circle cx="169.89" cy="150.23" r="0.55" fill="#8fb050" opacity="0.8"/>
<circle cx="169.53" cy="153.18" r="0.55" fill="#8fb050" opacity="0.8"/>
<circle cx="171.65" cy="151.37" r="0.55" fill="#8fb050" opacity="0.8"/>
<circle cx="170.74" cy="150.52" r="0.55" fill="#8fb050" opacity="0.8"/>
<circle cx="172.88" cy="155.61" r="0.55" fill="#8fb050" opacity="0.8"/>
<circle cx="171.35" cy="154.63" r="0.55" fill="#8fb050" opacity="0.8"/>
<circle cx="170.13" cy="147.54" r="0.55" fill="#8fb050" opacity="0.8"/>
<circle cx="171.01" cy="149.88" r="0.55" fill="#8fb050" opacity="0.8"/>
<circle cx="170.95" cy="152.21" r="0.55" fill="#8fb050" opacity="0.8"/>
<circle cx="173.82" cy="150.35" r="0.55" fill="#8fb050" opacity="0.8"/>
<circle cx="171.44" cy="152.41" r="0.55" fill="#8fb050" opacity="0.8"/>
<circle cx="171.37" cy="153.85" r="0.55" fill="#8fb050" opacity="0.8"/>
<circle cx="172.82" cy="149.06" r="0.55" fill="#8fb050" opacity="0.8"/>
<circle cx="171.53" cy="151.22" r="0.55" fill="#8fb050" opacity="0.8"/>
<circle cx="171.69" cy="148.43" r="0.55" fill="#8fb050" opacity="0.8"/>
<circle cx="169.99" cy="146.70" r="0.55" fill="#8fb050" opacity="0.8"/>
<circle cx="171.82" cy="152.22" r="0.55" fill="#8fb050" opacity="0.8"/>
<circle cx="171.46" cy="146.59" r="0.55" fill="#8fb050" opacity="0.8"/>
<circle cx="171.10" cy="150.14" r="0.55" fill="#8fb050" opacity="0.8"/>
<circle cx="170.27" cy="149.79" r="0.55" fill="#8fb050" opacity="0.8"/>
<circle cx="171.96" cy="153.00" r="0.55" fill="#8fb050" opacity="0.8"/>
<circle cx="171.38" cy="152.93" r="0.55" fill="#8fb050" opacity="0.8"/>
<circle cx="170.92" cy="151.96" r="0.55" fill="#8fb050" opacity="0.8"/>
<circle cx="171.43" cy="153.02" r="0.55" fill="#8fb050" opacity="0.8"/>
<circle cx="171.34" cy="151.49" r="0.55" fill="#8fb050" opacity="0.8"/>
<circle cx="171.29" cy="150.38" r="0.55" fill="#8fb050" opacity="0.8"/>
<circle cx="173.19" cy="152.93" r="0.55" fill="#8fb050" opacity="0.8"/>
<circle cx="171.74" cy="156.84" r="0.55" fill="#8fb050" opacity="0.8"/>
<circle cx="172.52" cy="148.38" r="0.55" fill="#8fb050" opacity="0.8"/>
<circle cx="171.96" cy="153.64" r="0.55" fill="#8fb050" opacity="0.8"/>
<circle cx="172.91" cy="154.69" r="0.55" fill="#8fb050" opacity="0.8"/>
<circle cx="172.02" cy="149.21" r="0.55" fill="#8fb050" opacity="0.8"/>
<circle cx="170.70" cy="152.39" r="0.55" fill="#8fb050" opacity="0.8"/>
<circle cx="171.80" cy="149.55" r="0.55" fill="#8fb050" opacity="0.8"/>
<circle cx="171.09" cy="150.92" r="0.55" fill="#8fb050" opacity="0.8"/>
<circle cx="171.45" cy="152.54" r="0.55" fill="#8fb050" opacity="0.8"/>
<circle cx="171.17" cy="149.08" r="0.55" fill="#8fb050" opacity="0.8"/>
<circle cx="172.39" cy="155.31" r="0.55" fill="#8fb050" opacity="0.8"/>
<circle cx="171.32" cy="154.05" r="0.55" fill="#8fb050" opacity="0.8"/>
<circle cx="171.76" cy="153.25" r="0.55" fill="#8fb050" opacity="0.8"/>
<circle cx="171.79" cy="150.12" r="0.55" fill="#8fb050" opacity="0.8"/>
<circle cx="171.86" cy="154.02" r="0.55" fill="#8fb050" opacity="0.8"/>
<circle cx="170.68" cy="156.13" r="0.55" fill="#8fb050" opacity="0.8"/>
<circle cx="173.07" cy="155.81" r="0.55" fill="#8fb050" opacity="0.8"/>
<circle cx="172.99" cy="153.43" r="0.55" fill="#8fb050" opacity="0.8"/>
<circle cx="171.13" cy="150.48" r="0.55" fill="#8fb050" opacity="0.8"/>
<circle cx="170.75" cy="152.06" r="0.55" fill="#8fb050" opacity="0.8"/>
<circle cx="171.37" cy="153.27" r="0.55" fill="#8fb050" opacity="0.8"/>
<circle cx="169.78" cy="156.89" r="0.55" fill="#8fb050" opacity="0.8"/>
<circle cx="173.22" cy="151.74" r="0.55" fill="#8fb050" opacity="0.8"/>
<circle cx="171.94" cy="152.85" r="0.55" fill="#8fb050" opacity="0.8"/>
<circle cx="171.62" cy="151.34" r="0.55" fill="#8fb050" opacity="0.8"/>
<circle cx="171.30" cy="149.99" r="0.55" fill="#8fb050" opacity="0.8"/>
<circle cx="171.54" cy="151.75" r="0.55" fill="#8fb050" opacity="0.8"/>
<circle cx="171.66" cy="149.92" r="0.55" fill="#8fb050" opacity="0.8"/>
<circle cx="171.43" cy="151.91" r="0.55" fill="#8fb050" opacity="0.8"/>
<circle cx="171.88" cy="149.46" r="0.55" fill="#8fb050" opacity="0.8"/>
<circle cx="171.74" cy="153.96" r="0.55" fill="#8fb050" opacity="0.8"/>
<circle cx="171.88" cy="150.99" r="0.55" fill="#8fb050" opacity="0.8"/>
<circle cx="171.01" cy="151.28" r="0.55" fill="#8fb050" opacity="0.8"/>
<circle cx="171.98" cy="155.22" r="0.55" fill="#8fb050" opacity="0.8"/>
<circle cx="171.27" cy="150.39" r="0.55" fill="#8fb050" opacity="0.8"/>
<circle cx="171.70" cy="152.25" r="0.55" fill="#8fb050" opacity="0.8"/>
<circle cx="170.67" cy="150.18" r="0.55" fill="#8fb050" opacity="0.8"/>
<circle cx="171.32" cy="153.28" r="0.55" fill="#8fb050" opacity="0.8"/>
<circle cx="170.45" cy="149.56" r="0.55" fill="#8fb050" opacity="0.8"/>
<circle cx="171.80" cy="149.11" r="0.55" fill="#8fb050" opacity="0.8"/>
<circle cx="171.49" cy="152.57" r="0.55" fill="#8fb050" opacity="0.8"/>
<circle cx="171.31" cy="149.56" r="0.55" fill="#8fb050" opacity="0.8"/>
<circle cx="170.35" cy="169.84" r="0.55" fill="#a0a8d4" opacity="0.4"/>
<circle cx="170.67" cy="166.55" r="0.55" fill="#a0a8d4" opacity="0.4"/>
<circle cx="171.27" cy="161.11" r="0.55" fill="#a0a8d4" opacity="0.4"/>
<circle cx="170.26" cy="172.05" r="0.55" fill="#a0a8d4" opacity="0.4"/>
<circle cx="171.17" cy="168.05" r="0.55" fill="#a0a8d4" opacity="0.4"/>
<circle cx="170.84" cy="168.32" r="0.55" fill="#a0a8d4" opacity="0.4"/>
<circle cx="170.99" cy="183.29" r="0.55" fill="#a0a8d4" opacity="0.4"/>
<circle cx="170.08" cy="174.88" r="0.55" fill="#a0a8d4" opacity="0.4"/>
<circle cx="169.66" cy="178.33" r="0.55" fill="#a0a8d4" opacity="0.4"/>
<circle cx="171.37" cy="172.23" r="0.55" fill="#a0a8d4" opacity="0.4"/>
<circle cx="169.49" cy="174.62" r="0.55" fill="#a0a8d4" opacity="0.4"/>
<circle cx="171.32" cy="179.08" r="0.55" fill="#a0a8d4" opacity="0.4"/>
<circle cx="171.05" cy="160.10" r="0.55" fill="#a0a8d4" opacity="0.4"/>
<circle cx="169.86" cy="181.24" r="0.55" fill="#a0a8d4" opacity="0.4"/>
<circle cx="169.42" cy="179.35" r="0.55" fill="#a0a8d4" opacity="0.4"/>
<circle cx="171.91" cy="176.95" r="0.55" fill="#a0a8d4" opacity="0.4"/>
<circle cx="171.30" cy="169.84" r="0.55" fill="#a0a8d4" opacity="0.4"/>
<circle cx="169.42" cy="171.33" r="0.55" fill="#a0a8d4" opacity="0.4"/>
<circle cx="170.24" cy="171.69" r="0.55" fill="#a0a8d4" opacity="0.4"/>
<circle cx="170.96" cy="171.06" r="0.55" fill="#a0a8d4" opacity="0.4"/>
<circle cx="170.55" cy="174.76" r="0.55" fill="#a0a8d4" opacity="0.4"/>
<circle cx="170.40" cy="183.98" r="0.55" fill="#a0a8d4" opacity="0.4"/>
<circle cx="170.75" cy="172.55" r="0.55" fill="#a0a8d4" opacity="0.4"/>
<circle cx="170.23" cy="167.94" r="0.55" fill="#a0a8d4" opacity="0.4"/>
<circle cx="171.48" cy="172.98" r="0.55" fill="#a0a8d4" opacity="0.4"/>
<circle cx="169.54" cy="168.34" r="0.55" fill="#a0a8d4" opacity="0.4"/>
<circle cx="170.29" cy="169.10" r="0.55" fill="#a0a8d4" opacity="0.4"/>
<circle cx="171.27" cy="164.45" r="0.55" fill="#a0a8d4" opacity="0.4"/>
<circle cx="170.79" cy="172.93" r="0.55" fill="#a0a8d4" opacity="0.4"/>
<circle cx="169.46" cy="172.31" r="0.55" fill="#a0a8d4" opacity="0.4"/>
<circle cx="170.32" cy="175.26" r="0.55" fill="#a0a8d4" opacity="0.4"/>
<circle cx="170.04" cy="173.97" r="0.55" fill="#a0a8d4" opacity="0.4"/>
<circle cx="169.07" cy="164.96" r="0.55" fill="#a0a8d4" opacity="0.4"/>
<circle cx="171.03" cy="178.77" r="0.55" fill="#a0a8d4" opacity="0.4"/>
<circle cx="170.39" cy="168.11" r="0.55" fill="#a0a8d4" opacity="0.4"/>
<circle cx="171.27" cy="158.40" r="0.55" fill="#a0a8d4" opacity="0.4"/>
<circle cx="169.76" cy="176.37" r="0.55" fill="#a0a8d4" opacity="0.4"/>
<circle cx="170.92" cy="165.29" r="0.55" fill="#a0a8d4" opacity="0.4"/>
<circle cx="168.89" cy="181.44" r="0.55" fill="#a0a8d4" opacity="0.4"/>
<circle cx="170.52" cy="166.17" r="0.55" fill="#a0a8d4" opacity="0.4"/>
</g></g>
<rect x="164.50" y="139.40" width="13.00" height="50.00" fill="none" stroke="#2a2a2a" stroke-width="0.9"/>
<line x1="164.50" y1="162.20" x2="177.50" y2="162.20" stroke="#2a2a2a" stroke-width="0.9"/>
<rect x="177.50" y="138.10" width="22.70" height="51.30" fill="none" stroke="#2a2a2a" stroke-width="0.9"/>
<text x="148.90" y="148.20" font-size="7.7" fill="#231f20" stroke="#231f20" stroke-width="0.04" textLength="15.00" lengthAdjust="spacingAndGlyphs">70.1</text>
<text x="151.50" y="187.60" font-size="7.7" fill="#231f20" stroke="#231f20" stroke-width="0.04" textLength="10.50" lengthAdjust="spacingAndGlyphs">7.5</text>
<text x="184.00" y="187.60" font-size="7.7" fill="#231f20" stroke="#231f20" stroke-width="0.04" textLength="15.00" lengthAdjust="spacingAndGlyphs">22.5</text>
<rect x="202.60" y="136.20" width="54.40" height="53.40" fill="#fff" stroke="#c8c8c8" stroke-width="0.8"/>
<text x="220.80" y="132.80" font-size="7.8" fill="#231f20" stroke="#231f20" stroke-width="0.1" textLength="15.70" lengthAdjust="spacingAndGlyphs">pI:C</text>
<clipPath id="cp3"><rect x="203.10" y="136.8" width="53.40" height="52.4"/></clipPath><g clip-path="url(#cp3)"><g filter="url(#fb)">
<circle cx="243.33" cy="149.49" r="0.55" fill="#6070c0" opacity="0.55"/>
<circle cx="229.24" cy="153.17" r="0.55" fill="#6070c0" opacity="0.55"/>
<circle cx="246.21" cy="145.41" r="0.55" fill="#6070c0" opacity="0.55"/>
<circle cx="246.45" cy="145.69" r="0.55" fill="#6070c0" opacity="0.55"/>
<circle cx="248.99" cy="147.54" r="0.55" fill="#6070c0" opacity="0.55"/>
<circle cx="254.67" cy="145.00" r="0.55" fill="#6070c0" opacity="0.55"/>
<circle cx="243.10" cy="149.71" r="0.55" fill="#6070c0" opacity="0.55"/>
<circle cx="239.20" cy="148.68" r="0.55" fill="#6070c0" opacity="0.55"/>
<circle cx="240.79" cy="149.01" r="0.55" fill="#6070c0" opacity="0.55"/>
<circle cx="237.15" cy="150.53" r="0.55" fill="#6070c0" opacity="0.55"/>
<circle cx="245.72" cy="147.97" r="0.55" fill="#6070c0" opacity="0.55"/>
<circle cx="251.80" cy="146.03" r="0.55" fill="#6070c0" opacity="0.55"/>
<circle cx="249.64" cy="146.31" r="0.55" fill="#6070c0" opacity="0.55"/>
<circle cx="246.33" cy="145.54" r="0.55" fill="#6070c0" opacity="0.55"/>
<circle cx="243.81" cy="148.15" r="0.55" fill="#6070c0" opacity="0.55"/>
<circle cx="240.00" cy="148.59" r="0.55" fill="#6070c0" opacity="0.55"/>
<circle cx="240.76" cy="148.29" r="0.55" fill="#6070c0" opacity="0.55"/>
<circle cx="230.93" cy="150.83" r="0.55" fill="#6070c0" opacity="0.55"/>
<circle cx="239.73" cy="148.76" r="0.55" fill="#6070c0" opacity="0.55"/>
<circle cx="237.11" cy="149.84" r="0.55" fill="#6070c0" opacity="0.55"/>
<circle cx="246.93" cy="147.31" r="0.55" fill="#6070c0" opacity="0.55"/>
<circle cx="240.52" cy="150.69" r="0.55" fill="#6070c0" opacity="0.55"/>
<circle cx="248.26" cy="148.31" r="0.55" fill="#6070c0" opacity="0.55"/>
<circle cx="248.89" cy="146.74" r="0.55" fill="#6070c0" opacity="0.55"/>
<circle cx="242.40" cy="149.96" r="0.55" fill="#6070c0" opacity="0.55"/>
<circle cx="239.81" cy="149.20" r="0.55" fill="#6070c0" opacity="0.55"/>
<circle cx="244.92" cy="148.50" r="0.55" fill="#6070c0" opacity="0.55"/>
<circle cx="241.58" cy="150.01" r="0.55" fill="#6070c0" opacity="0.55"/>
<circle cx="242.04" cy="149.61" r="0.55" fill="#6070c0" opacity="0.55"/>
<circle cx="248.69" cy="147.90" r="0.55" fill="#6070c0" opacity="0.55"/>
<circle cx="246.41" cy="146.40" r="0.55" fill="#6070c0" opacity="0.55"/>
<circle cx="235.63" cy="149.65" r="0.55" fill="#6070c0" opacity="0.55"/>
<circle cx="245.73" cy="149.58" r="0.55" fill="#6070c0" opacity="0.55"/>
<circle cx="236.35" cy="150.53" r="0.55" fill="#6070c0" opacity="0.55"/>
<circle cx="238.05" cy="148.93" r="0.55" fill="#6070c0" opacity="0.55"/>
<circle cx="241.50" cy="149.70" r="0.55" fill="#6070c0" opacity="0.55"/>
<circle cx="244.25" cy="149.58" r="0.55" fill="#6070c0" opacity="0.55"/>
<circle cx="237.77" cy="150.84" r="0.55" fill="#6070c0" opacity="0.55"/>
<circle cx="247.79" cy="147.46" r="0.55" fill="#6070c0" opacity="0.55"/>
<circle cx="245.20" cy="147.37" r="0.55" fill="#6070c0" opacity="0.55"/>
<circle cx="236.87" cy="149.59" r="0.55" fill="#6070c0" opacity="0.55"/>
<circle cx="240.12" cy="152.53" r="0.55" fill="#6070c0" opacity="0.55"/>
<circle cx="240.64" cy="151.00" r="0.55" fill="#6070c0" opacity="0.55"/>
<circle cx="243.96" cy="148.67" r="0.55" fill="#6070c0" opacity="0.55"/>
<circle cx="246.57" cy="146.80" r="0.55" fill="#6070c0" opacity="0.55"/>
<circle cx="247.79" cy="147.80" r="0.55" fill="#6070c0" opacity="0.55"/>
<circle cx="234.86" cy="151.22" r="0.55" fill="#6070c0" opacity="0.55"/>
<circle cx="245.87" cy="148.36" r="0.55" fill="#6070c0" opacity="0.55"/>
<circle cx="251.16" cy="146.09" r="0.55" fill="#6070c0" opacity="0.55"/>
<circle cx="245.73" cy="148.73" r="0.55" fill="#6070c0" opacity="0.55"/>
<circle cx="238.30" cy="151.06" r="0.55" fill="#6070c0" opacity="0.55"/>
<circle cx="234.71" cy="149.11" r="0.55" fill="#6070c0" opacity="0.55"/>
<circle cx="245.31" cy="146.75" r="0.55" fill="#6070c0" opacity="0.55"/>
<circle cx="241.75" cy="146.99" r="0.55" fill="#6070c0" opacity="0.55"/>
<circle cx="242.87" cy="147.30" r="0.55" fill="#6070c0" opacity="0.55"/>
<circle cx="244.23" cy="146.52" r="0.55" fill="#6070c0" opacity="0.55"/>
<circle cx="245.13" cy="147.73" r="0.55" fill="#6070c0" opacity="0.55"/>
<circle cx="243.12" cy="148.44" r="0.55" fill="#6070c0" opacity="0.55"/>
<circle cx="243.15" cy="147.02" r="0.55" fill="#6070c0" opacity="0.55"/>
<circle cx="229.11" cy="151.99" r="0.55" fill="#6070c0" opacity="0.55"/>
<circle cx="237.68" cy="149.34" r="0.55" fill="#6070c0" opacity="0.55"/>
<circle cx="244.56" cy="145.92" r="0.55" fill="#6070c0" opacity="0.55"/>
<circle cx="238.56" cy="148.95" r="0.55" fill="#6070c0" opacity="0.55"/>
<circle cx="237.24" cy="150.33" r="0.55" fill="#6070c0" opacity="0.55"/>
<circle cx="241.84" cy="147.91" r="0.55" fill="#6070c0" opacity="0.55"/>
<circle cx="237.75" cy="150.75" r="0.55" fill="#6070c0" opacity="0.55"/>
<circle cx="239.43" cy="150.09" r="0.55" fill="#6070c0" opacity="0.55"/>
<circle cx="244.71" cy="145.99" r="0.55" fill="#6070c0" opacity="0.55"/>
<circle cx="237.01" cy="150.02" r="0.55" fill="#6070c0" opacity="0.55"/>
<circle cx="244.83" cy="148.99" r="0.55" fill="#6070c0" opacity="0.55"/>
<circle cx="247.36" cy="148.66" r="0.55" fill="#6070c0" opacity="0.55"/>
<circle cx="240.75" cy="148.86" r="0.55" fill="#6070c0" opacity="0.55"/>
<circle cx="246.83" cy="147.13" r="0.55" fill="#6070c0" opacity="0.55"/>
<circle cx="248.03" cy="145.52" r="0.55" fill="#6070c0" opacity="0.55"/>
<circle cx="246.25" cy="147.56" r="0.55" fill="#6070c0" opacity="0.55"/>
<circle cx="232.55" cy="152.22" r="0.55" fill="#6070c0" opacity="0.55"/>
<circle cx="244.47" cy="148.22" r="0.55" fill="#6070c0" opacity="0.55"/>
<circle cx="236.93" cy="149.51" r="0.55" fill="#6070c0" opacity="0.55"/>
<circle cx="250.66" cy="145.74" r="0.55" fill="#6070c0" opacity="0.55"/>
<circle cx="224.03" cy="152.22" r="0.55" fill="#6070c0" opacity="0.55"/>
<circle cx="236.36" cy="150.03" r="0.55" fill="#6070c0" opacity="0.55"/>
<circle cx="240.46" cy="148.14" r="0.55" fill="#6070c0" opacity="0.55"/>
<circle cx="238.58" cy="150.82" r="0.55" fill="#6070c0" opacity="0.55"/>
<circle cx="235.61" cy="152.58" r="0.55" fill="#6070c0" opacity="0.55"/>
<circle cx="239.61" cy="148.14" r="0.55" fill="#6070c0" opacity="0.55"/>
<circle cx="247.15" cy="148.17" r="0.55" fill="#6070c0" opacity="0.55"/>
<circle cx="237.42" cy="150.76" r="0.55" fill="#6070c0" opacity="0.55"/>
<circle cx="232.73" cy="150.02" r="0.55" fill="#6070c0" opacity="0.55"/>
<circle cx="248.75" cy="146.85" r="0.55" fill="#6070c0" opacity="0.55"/>
<circle cx="235.98" cy="150.85" r="0.55" fill="#6070c0" opacity="0.55"/>
<circle cx="247.69" cy="147.38" r="0.55" fill="#6070c0" opacity="0.55"/>
<circle cx="233.06" cy="150.59" r="0.55" fill="#6070c0" opacity="0.55"/>
<circle cx="245.23" cy="148.87" r="0.55" fill="#6070c0" opacity="0.55"/>
<circle cx="252.63" cy="145.91" r="0.55" fill="#6070c0" opacity="0.55"/>
<circle cx="240.21" cy="149.19" r="0.55" fill="#6070c0" opacity="0.55"/>
<circle cx="249.00" cy="146.02" r="0.55" fill="#6070c0" opacity="0.55"/>
<circle cx="249.05" cy="143.96" r="0.55" fill="#6070c0" opacity="0.55"/>
<circle cx="246.88" cy="146.84" r="0.55" fill="#6070c0" opacity="0.55"/>
<circle cx="245.43" cy="148.74" r="0.55" fill="#6070c0" opacity="0.55"/>
<circle cx="236.46" cy="150.05" r="0.55" fill="#6070c0" opacity="0.55"/>
<circle cx="244.24" cy="148.91" r="0.55" fill="#6070c0" opacity="0.55"/>
<circle cx="237.57" cy="148.76" r="0.55" fill="#6070c0" opacity="0.55"/>
<circle cx="233.19" cy="153.83" r="0.55" fill="#6070c0" opacity="0.55"/>
<circle cx="241.71" cy="148.61" r="0.55" fill="#6070c0" opacity="0.55"/>
<circle cx="235.06" cy="151.55" r="0.55" fill="#6070c0" opacity="0.55"/>
<circle cx="240.32" cy="150.83" r="0.55" fill="#6070c0" opacity="0.55"/>
<circle cx="247.36" cy="147.51" r="0.55" fill="#6070c0" opacity="0.55"/>
<circle cx="246.39" cy="146.46" r="0.55" fill="#6070c0" opacity="0.55"/>
<circle cx="240.91" cy="148.41" r="0.55" fill="#6070c0" opacity="0.55"/>
<circle cx="236.02" cy="150.28" r="0.55" fill="#6070c0" opacity="0.55"/>
<circle cx="242.40" cy="150.32" r="0.55" fill="#6070c0" opacity="0.55"/>
<circle cx="224.71" cy="152.27" r="0.55" fill="#6070c0" opacity="0.55"/>
<circle cx="237.77" cy="149.30" r="0.55" fill="#6070c0" opacity="0.55"/>
<circle cx="245.16" cy="148.48" r="0.55" fill="#6070c0" opacity="0.55"/>
<circle cx="242.83" cy="148.06" r="0.55" fill="#6070c0" opacity="0.55"/>
<circle cx="245.54" cy="148.34" r="0.55" fill="#6070c0" opacity="0.55"/>
<circle cx="232.89" cy="150.73" r="0.55" fill="#6070c0" opacity="0.55"/>
<circle cx="235.15" cy="149.13" r="0.55" fill="#6070c0" opacity="0.55"/>
<circle cx="243.60" cy="148.47" r="0.55" fill="#6070c0" opacity="0.55"/>
<circle cx="243.18" cy="147.52" r="0.55" fill="#6070c0" opacity="0.55"/>
<circle cx="241.49" cy="147.89" r="0.55" fill="#6070c0" opacity="0.55"/>
<circle cx="245.02" cy="148.84" r="0.55" fill="#6070c0" opacity="0.55"/>
<circle cx="252.51" cy="147.66" r="0.55" fill="#6070c0" opacity="0.55"/>
<circle cx="238.38" cy="149.16" r="0.55" fill="#6070c0" opacity="0.55"/>
<circle cx="237.87" cy="150.15" r="0.55" fill="#6070c0" opacity="0.55"/>
<circle cx="253.57" cy="146.77" r="0.55" fill="#6070c0" opacity="0.55"/>
<circle cx="230.72" cy="150.13" r="0.55" fill="#6070c0" opacity="0.55"/>
<circle cx="236.03" cy="150.84" r="0.55" fill="#6070c0" opacity="0.55"/>
<circle cx="242.89" cy="148.92" r="0.55" fill="#6070c0" opacity="0.55"/>
<circle cx="252.10" cy="145.39" r="0.55" fill="#6070c0" opacity="0.55"/>
<circle cx="238.79" cy="151.81" r="0.55" fill="#6070c0" opacity="0.55"/>
<circle cx="244.43" cy="147.32" r="0.55" fill="#6070c0" opacity="0.55"/>
<circle cx="231.56" cy="149.62" r="0.55" fill="#6070c0" opacity="0.55"/>
<circle cx="229.76" cy="151.87" r="0.55" fill="#6070c0" opacity="0.55"/>
<circle cx="243.30" cy="149.60" r="0.55" fill="#6070c0" opacity="0.55"/>
<circle cx="241.87" cy="148.04" r="0.55" fill="#6070c0" opacity="0.55"/>
<circle cx="239.34" cy="151.60" r="0.55" fill="#6070c0" opacity="0.55"/>
<circle cx="233.41" cy="151.09" r="0.55" fill="#6070c0" opacity="0.55"/>
<circle cx="243.10" cy="149.23" r="0.55" fill="#6070c0" opacity="0.55"/>
<circle cx="240.77" cy="149.66" r="0.55" fill="#6070c0" opacity="0.55"/>
<circle cx="247.12" cy="147.38" r="0.55" fill="#6070c0" opacity="0.55"/>
<circle cx="240.31" cy="149.00" r="0.55" fill="#6070c0" opacity="0.55"/>
<circle cx="237.59" cy="149.64" r="0.55" fill="#6070c0" opacity="0.55"/>
<circle cx="241.24" cy="149.22" r="0.55" fill="#6070c0" opacity="0.55"/>
<circle cx="250.28" cy="148.25" r="0.55" fill="#6070c0" opacity="0.55"/>
<circle cx="240.58" cy="149.83" r="0.55" fill="#6070c0" opacity="0.55"/>
<circle cx="244.57" cy="149.03" r="0.55" fill="#6070c0" opacity="0.55"/>
<circle cx="242.98" cy="148.86" r="0.55" fill="#6070c0" opacity="0.55"/>
<circle cx="240.09" cy="148.37" r="0.55" fill="#6070c0" opacity="0.55"/>
<circle cx="247.80" cy="148.85" r="0.55" fill="#6070c0" opacity="0.55"/>
<circle cx="246.45" cy="148.20" r="0.55" fill="#6070c0" opacity="0.55"/>
<circle cx="244.10" cy="147.77" r="0.55" fill="#6070c0" opacity="0.55"/>
<circle cx="233.45" cy="151.64" r="0.55" fill="#6070c0" opacity="0.55"/>
<circle cx="243.72" cy="147.75" r="0.55" fill="#6070c0" opacity="0.55"/>
<circle cx="237.98" cy="151.23" r="0.55" fill="#6070c0" opacity="0.55"/>
<circle cx="233.62" cy="152.84" r="0.55" fill="#6070c0" opacity="0.55"/>
<circle cx="246.84" cy="150.30" r="0.55" fill="#6070c0" opacity="0.55"/>
<circle cx="238.96" cy="149.52" r="0.55" fill="#6070c0" opacity="0.55"/>
<circle cx="240.13" cy="149.43" r="0.55" fill="#6070c0" opacity="0.55"/>
<circle cx="241.48" cy="148.07" r="0.55" fill="#6070c0" opacity="0.55"/>
<circle cx="248.34" cy="146.36" r="0.55" fill="#6070c0" opacity="0.55"/>
<circle cx="240.23" cy="149.86" r="0.55" fill="#6070c0" opacity="0.55"/>
<circle cx="239.81" cy="148.84" r="0.55" fill="#6070c0" opacity="0.55"/>
<circle cx="244.61" cy="147.74" r="0.55" fill="#6070c0" opacity="0.55"/>
<circle cx="236.11" cy="150.12" r="0.55" fill="#6070c0" opacity="0.55"/>
<circle cx="242.07" cy="150.71" r="0.55" fill="#6070c0" opacity="0.55"/>
<circle cx="237.19" cy="151.07" r="0.55" fill="#6070c0" opacity="0.55"/>
<circle cx="238.51" cy="149.25" r="0.55" fill="#6070c0" opacity="0.55"/>
<circle cx="241.13" cy="149.32" r="0.55" fill="#6070c0" opacity="0.55"/>
<circle cx="247.87" cy="149.34" r="0.55" fill="#6070c0" opacity="0.55"/>
<circle cx="239.75" cy="150.85" r="0.55" fill="#6070c0" opacity="0.55"/>
<circle cx="248.33" cy="148.17" r="0.55" fill="#6070c0" opacity="0.55"/>
<circle cx="238.98" cy="150.56" r="0.55" fill="#6070c0" opacity="0.55"/>
<circle cx="242.32" cy="149.12" r="0.55" fill="#6070c0" opacity="0.55"/>
<circle cx="241.54" cy="149.66" r="0.55" fill="#6070c0" opacity="0.55"/>
<circle cx="249.05" cy="148.35" r="0.55" fill="#6070c0" opacity="0.55"/>
<circle cx="241.96" cy="149.93" r="0.55" fill="#6070c0" opacity="0.55"/>
<circle cx="250.31" cy="145.70" r="0.55" fill="#6070c0" opacity="0.55"/>
<circle cx="250.32" cy="145.25" r="0.55" fill="#6070c0" opacity="0.55"/>
<circle cx="245.85" cy="148.53" r="0.55" fill="#6070c0" opacity="0.55"/>
<circle cx="250.79" cy="146.96" r="0.55" fill="#6070c0" opacity="0.55"/>
<circle cx="240.02" cy="148.38" r="0.55" fill="#6070c0" opacity="0.55"/>
<circle cx="236.32" cy="151.05" r="0.55" fill="#6070c0" opacity="0.55"/>
<circle cx="241.35" cy="148.14" r="0.55" fill="#6070c0" opacity="0.55"/>
<circle cx="245.44" cy="147.09" r="0.55" fill="#6070c0" opacity="0.55"/>
<circle cx="240.35" cy="148.68" r="0.55" fill="#6070c0" opacity="0.55"/>
<circle cx="252.02" cy="148.00" r="0.55" fill="#6070c0" opacity="0.55"/>
<circle cx="241.55" cy="147.13" r="0.55" fill="#6070c0" opacity="0.55"/>
<circle cx="244.30" cy="148.32" r="0.55" fill="#6070c0" opacity="0.55"/>
<circle cx="244.81" cy="148.75" r="0.55" fill="#6070c0" opacity="0.55"/>
<circle cx="226.15" cy="155.15" r="0.55" fill="#6f7fb8" opacity="0.55"/>
<circle cx="227.77" cy="152.72" r="0.55" fill="#6f7fb8" opacity="0.55"/>
<circle cx="226.03" cy="150.37" r="0.55" fill="#6f7fb8" opacity="0.55"/>
<circle cx="227.57" cy="148.26" r="0.55" fill="#6f7fb8" opacity="0.55"/>
<circle cx="226.38" cy="149.45" r="0.55" fill="#6f7fb8" opacity="0.55"/>
<circle cx="224.65" cy="154.05" r="0.55" fill="#6f7fb8" opacity="0.55"/>
<circle cx="226.56" cy="152.12" r="0.55" fill="#6f7fb8" opacity="0.55"/>
<circle cx="227.82" cy="146.92" r="0.55" fill="#6f7fb8" opacity="0.55"/>
<circle cx="226.51" cy="152.98" r="0.55" fill="#6f7fb8" opacity="0.55"/>
<circle cx="227.77" cy="148.31" r="0.55" fill="#6f7fb8" opacity="0.55"/>
<circle cx="227.60" cy="152.75" r="0.55" fill="#6f7fb8" opacity="0.55"/>
<circle cx="228.50" cy="155.87" r="0.55" fill="#6f7fb8" opacity="0.55"/>
<circle cx="227.37" cy="159.30" r="0.55" fill="#6f7fb8" opacity="0.55"/>
<circle cx="226.60" cy="150.56" r="0.55" fill="#6f7fb8" opacity="0.55"/>
<circle cx="226.12" cy="148.80" r="0.55" fill="#6f7fb8" opacity="0.55"/>
<circle cx="226.56" cy="145.61" r="0.55" fill="#6f7fb8" opacity="0.55"/>
<circle cx="226.48" cy="153.45" r="0.55" fill="#6f7fb8" opacity="0.55"/>
<circle cx="227.99" cy="150.82" r="0.55" fill="#6f7fb8" opacity="0.55"/>
<circle cx="228.54" cy="149.79" r="0.55" fill="#6f7fb8" opacity="0.55"/>
<circle cx="226.41" cy="145.62" r="0.55" fill="#6f7fb8" opacity="0.55"/>
<circle cx="225.53" cy="149.31" r="0.55" fill="#6f7fb8" opacity="0.55"/>
<circle cx="228.64" cy="153.76" r="0.55" fill="#6f7fb8" opacity="0.55"/>
<circle cx="225.09" cy="153.77" r="0.55" fill="#6f7fb8" opacity="0.55"/>
<circle cx="227.26" cy="151.22" r="0.55" fill="#6f7fb8" opacity="0.55"/>
<circle cx="226.63" cy="150.99" r="0.55" fill="#6f7fb8" opacity="0.55"/>
<circle cx="225.86" cy="146.11" r="0.55" fill="#6f7fb8" opacity="0.55"/>
<circle cx="226.48" cy="156.26" r="0.55" fill="#6f7fb8" opacity="0.55"/>
<circle cx="228.56" cy="151.07" r="0.55" fill="#6f7fb8" opacity="0.55"/>
<circle cx="225.58" cy="151.30" r="0.55" fill="#6f7fb8" opacity="0.55"/>
<circle cx="227.83" cy="153.17" r="0.55" fill="#6f7fb8" opacity="0.55"/>
<circle cx="225.80" cy="153.20" r="0.55" fill="#6f7fb8" opacity="0.55"/>
<circle cx="226.32" cy="153.71" r="0.55" fill="#6f7fb8" opacity="0.55"/>
<circle cx="226.04" cy="147.12" r="0.55" fill="#6f7fb8" opacity="0.55"/>
<circle cx="226.68" cy="154.52" r="0.55" fill="#6f7fb8" opacity="0.55"/>
<circle cx="225.09" cy="151.64" r="0.55" fill="#6f7fb8" opacity="0.55"/>
<circle cx="227.80" cy="150.76" r="0.55" fill="#6f7fb8" opacity="0.55"/>
<circle cx="225.71" cy="158.73" r="0.55" fill="#6f7fb8" opacity="0.55"/>
<circle cx="227.73" cy="155.40" r="0.55" fill="#6f7fb8" opacity="0.55"/>
<circle cx="225.31" cy="157.41" r="0.55" fill="#6f7fb8" opacity="0.55"/>
<circle cx="224.34" cy="150.28" r="0.55" fill="#6f7fb8" opacity="0.55"/>
<circle cx="227.61" cy="156.40" r="0.55" fill="#6f7fb8" opacity="0.55"/>
<circle cx="225.33" cy="149.80" r="0.55" fill="#6f7fb8" opacity="0.55"/>
<circle cx="226.87" cy="145.62" r="0.55" fill="#6f7fb8" opacity="0.55"/>
<circle cx="227.47" cy="153.85" r="0.55" fill="#6f7fb8" opacity="0.55"/>
<circle cx="225.99" cy="153.78" r="0.55" fill="#6f7fb8" opacity="0.55"/>
<circle cx="227.66" cy="153.02" r="0.55" fill="#6f7fb8" opacity="0.55"/>
<circle cx="227.31" cy="157.00" r="0.55" fill="#6f7fb8" opacity="0.55"/>
<circle cx="225.95" cy="152.53" r="0.55" fill="#6f7fb8" opacity="0.55"/>
<circle cx="225.89" cy="155.41" r="0.55" fill="#6f7fb8" opacity="0.55"/>
<circle cx="226.05" cy="153.56" r="0.55" fill="#6f7fb8" opacity="0.55"/>
<circle cx="226.79" cy="152.22" r="0.55" fill="#6f7fb8" opacity="0.55"/>
<circle cx="228.93" cy="151.72" r="0.55" fill="#6f7fb8" opacity="0.55"/>
<circle cx="228.52" cy="154.72" r="0.55" fill="#6f7fb8" opacity="0.55"/>
<circle cx="228.39" cy="151.46" r="0.55" fill="#6f7fb8" opacity="0.55"/>
<circle cx="227.86" cy="154.49" r="0.55" fill="#6f7fb8" opacity="0.55"/>
<circle cx="225.77" cy="152.89" r="0.55" fill="#6f7fb8" opacity="0.55"/>
<circle cx="226.43" cy="151.88" r="0.55" fill="#6f7fb8" opacity="0.55"/>
<circle cx="228.36" cy="149.63" r="0.55" fill="#6f7fb8" opacity="0.55"/>
<circle cx="224.32" cy="146.28" r="0.55" fill="#6f7fb8" opacity="0.55"/>
<circle cx="225.99" cy="149.88" r="0.55" fill="#6f7fb8" opacity="0.55"/>
<circle cx="226.62" cy="153.86" r="0.55" fill="#6f7fb8" opacity="0.55"/>
<circle cx="228.98" cy="153.01" r="0.55" fill="#6f7fb8" opacity="0.55"/>
<circle cx="227.23" cy="149.59" r="0.55" fill="#6f7fb8" opacity="0.55"/>
<circle cx="227.38" cy="156.46" r="0.55" fill="#6f7fb8" opacity="0.55"/>
<circle cx="228.41" cy="145.59" r="0.55" fill="#6f7fb8" opacity="0.55"/>
<circle cx="227.80" cy="157.19" r="0.55" fill="#6f7fb8" opacity="0.55"/>
<circle cx="227.72" cy="147.10" r="0.55" fill="#6f7fb8" opacity="0.55"/>
<circle cx="226.19" cy="153.92" r="0.55" fill="#6f7fb8" opacity="0.55"/>
<circle cx="227.16" cy="149.34" r="0.55" fill="#6f7fb8" opacity="0.55"/>
<circle cx="225.40" cy="155.16" r="0.55" fill="#6f7fb8" opacity="0.55"/>
<circle cx="224.80" cy="156.70" r="0.55" fill="#6f7fb8" opacity="0.55"/>
<circle cx="226.63" cy="152.98" r="0.55" fill="#6f7fb8" opacity="0.55"/>
<circle cx="224.80" cy="150.05" r="0.55" fill="#6f7fb8" opacity="0.55"/>
<circle cx="227.53" cy="147.19" r="0.55" fill="#6f7fb8" opacity="0.55"/>
<circle cx="229.39" cy="147.41" r="0.55" fill="#6f7fb8" opacity="0.55"/>
<circle cx="224.95" cy="152.14" r="0.55" fill="#6f7fb8" opacity="0.55"/>
<circle cx="227.25" cy="154.40" r="0.55" fill="#6f7fb8" opacity="0.55"/>
<circle cx="226.10" cy="151.32" r="0.55" fill="#6f7fb8" opacity="0.55"/>
<circle cx="226.28" cy="150.12" r="0.55" fill="#6f7fb8" opacity="0.55"/>
<circle cx="223.13" cy="155.14" r="0.55" fill="#6f7fb8" opacity="0.55"/>
<circle cx="226.94" cy="152.52" r="0.55" fill="#6f7fb8" opacity="0.55"/>
<circle cx="225.75" cy="152.82" r="0.55" fill="#6f7fb8" opacity="0.55"/>
<circle cx="226.58" cy="151.75" r="0.55" fill="#6f7fb8" opacity="0.55"/>
<circle cx="228.09" cy="146.37" r="0.55" fill="#6f7fb8" opacity="0.55"/>
<circle cx="226.94" cy="148.52" r="0.55" fill="#6f7fb8" opacity="0.55"/>
<circle cx="226.17" cy="156.90" r="0.55" fill="#6f7fb8" opacity="0.55"/>
<circle cx="225.14" cy="151.67" r="0.55" fill="#6f7fb8" opacity="0.55"/>
<circle cx="225.80" cy="155.10" r="0.55" fill="#6f7fb8" opacity="0.55"/>
<circle cx="225.28" cy="146.50" r="0.55" fill="#6f7fb8" opacity="0.55"/>
<circle cx="227.29" cy="150.84" r="0.55" fill="#6f7fb8" opacity="0.55"/>
<circle cx="226.17" cy="155.53" r="0.55" fill="#6f7fb8" opacity="0.55"/>
<circle cx="225.41" cy="150.78" r="0.55" fill="#6f7fb8" opacity="0.55"/>
<circle cx="226.80" cy="153.35" r="0.55" fill="#6f7fb8" opacity="0.55"/>
<circle cx="225.91" cy="155.38" r="0.55" fill="#6f7fb8" opacity="0.55"/>
<circle cx="229.61" cy="150.67" r="0.55" fill="#6f7fb8" opacity="0.55"/>
<circle cx="229.11" cy="145.11" r="0.55" fill="#6f7fb8" opacity="0.55"/>
<circle cx="228.49" cy="150.88" r="0.55" fill="#6f7fb8" opacity="0.55"/>
<circle cx="226.78" cy="150.89" r="0.55" fill="#6f7fb8" opacity="0.55"/>
<circle cx="225.74" cy="147.83" r="0.55" fill="#6f7fb8" opacity="0.55"/>
<circle cx="226.07" cy="156.23" r="0.55" fill="#6f7fb8" opacity="0.55"/>
<circle cx="227.48" cy="151.06" r="0.55" fill="#8fb050" opacity="0.8"/>
<circle cx="226.19" cy="150.32" r="0.55" fill="#8fb050" opacity="0.8"/>
<circle cx="225.68" cy="155.61" r="0.55" fill="#8fb050" opacity="0.8"/>
<circle cx="227.11" cy="152.05" r="0.55" fill="#8fb050" opacity="0.8"/>
<circle cx="226.22" cy="149.64" r="0.55" fill="#8fb050" opacity="0.8"/>
<circle cx="227.61" cy="153.45" r="0.55" fill="#8fb050" opacity="0.8"/>
<circle cx="225.87" cy="153.89" r="0.55" fill="#8fb050" opacity="0.8"/>
<circle cx="225.75" cy="153.16" r="0.55" fill="#8fb050" opacity="0.8"/>
<circle cx="225.86" cy="150.92" r="0.55" fill="#8fb050" opacity="0.8"/>
<circle cx="226.98" cy="152.71" r="0.55" fill="#8fb050" opacity="0.8"/>
<circle cx="227.38" cy="150.03" r="0.55" fill="#8fb050" opacity="0.8"/>
<circle cx="227.81" cy="154.64" r="0.55" fill="#8fb050" opacity="0.8"/>
<circle cx="226.59" cy="152.78" r="0.55" fill="#8fb050" opacity="0.8"/>
<circle cx="226.00" cy="151.48" r="0.55" fill="#8fb050" opacity="0.8"/>
<circle cx="225.59" cy="151.99" r="0.55" fill="#8fb050" opacity="0.8"/>
<circle cx="226.75" cy="154.64" r="0.55" fill="#8fb050" opacity="0.8"/>
<circle cx="227.33" cy="153.52" r="0.55" fill="#8fb050" opacity="0.8"/>
<circle cx="226.32" cy="151.33" r="0.55" fill="#8fb050" opacity="0.8"/>
<circle cx="226.34" cy="152.27" r="0.55" fill="#8fb050" opacity="0.8"/>
<circle cx="225.12" cy="153.43" r="0.55" fill="#8fb050" opacity="0.8"/>
<circle cx="225.40" cy="150.71" r="0.55" fill="#8fb050" opacity="0.8"/>
<circle cx="226.62" cy="150.72" r="0.55" fill="#8fb050" opacity="0.8"/>
<circle cx="227.88" cy="151.59" r="0.55" fill="#8fb050" opacity="0.8"/>
<circle cx="227.81" cy="154.28" r="0.55" fill="#8fb050" opacity="0.8"/>
<circle cx="226.22" cy="152.65" r="0.55" fill="#8fb050" opacity="0.8"/>
<circle cx="227.60" cy="151.10" r="0.55" fill="#8fb050" opacity="0.8"/>
<circle cx="226.67" cy="150.62" r="0.55" fill="#8fb050" opacity="0.8"/>
<circle cx="226.65" cy="151.05" r="0.55" fill="#8fb050" opacity="0.8"/>
<circle cx="226.66" cy="153.92" r="0.55" fill="#8fb050" opacity="0.8"/>
<circle cx="227.67" cy="152.08" r="0.55" fill="#8fb050" opacity="0.8"/>
<circle cx="226.76" cy="153.61" r="0.55" fill="#8fb050" opacity="0.8"/>
<circle cx="226.38" cy="149.56" r="0.55" fill="#8fb050" opacity="0.8"/>
<circle cx="227.45" cy="149.83" r="0.55" fill="#8fb050" opacity="0.8"/>
<circle cx="227.31" cy="149.76" r="0.55" fill="#8fb050" opacity="0.8"/>
<circle cx="228.01" cy="149.60" r="0.55" fill="#8fb050" opacity="0.8"/>
<circle cx="227.25" cy="154.97" r="0.55" fill="#8fb050" opacity="0.8"/>
<circle cx="225.86" cy="154.94" r="0.55" fill="#8fb050" opacity="0.8"/>
<circle cx="225.97" cy="148.07" r="0.55" fill="#8fb050" opacity="0.8"/>
<circle cx="227.15" cy="153.28" r="0.55" fill="#8fb050" opacity="0.8"/>
<circle cx="226.44" cy="146.47" r="0.55" fill="#8fb050" opacity="0.8"/>
<circle cx="226.56" cy="151.15" r="0.55" fill="#8fb050" opacity="0.8"/>
<circle cx="226.31" cy="151.19" r="0.55" fill="#8fb050" opacity="0.8"/>
<circle cx="225.23" cy="150.60" r="0.55" fill="#8fb050" opacity="0.8"/>
<circle cx="227.98" cy="155.07" r="0.55" fill="#8fb050" opacity="0.8"/>
<circle cx="226.32" cy="150.30" r="0.55" fill="#8fb050" opacity="0.8"/>
<circle cx="226.90" cy="154.04" r="0.55" fill="#8fb050" opacity="0.8"/>
<circle cx="227.16" cy="149.33" r="0.55" fill="#8fb050" opacity="0.8"/>
<circle cx="226.72" cy="152.10" r="0.55" fill="#8fb050" opacity="0.8"/>
<circle cx="227.70" cy="154.33" r="0.55" fill="#8fb050" opacity="0.8"/>
<circle cx="227.00" cy="154.37" r="0.55" fill="#8fb050" opacity="0.8"/>
<circle cx="226.30" cy="155.05" r="0.55" fill="#8fb050" opacity="0.8"/>
<circle cx="226.27" cy="152.64" r="0.55" fill="#8fb050" opacity="0.8"/>
<circle cx="227.31" cy="149.87" r="0.55" fill="#8fb050" opacity="0.8"/>
<circle cx="226.06" cy="148.09" r="0.55" fill="#8fb050" opacity="0.8"/>
<circle cx="226.73" cy="151.68" r="0.55" fill="#8fb050" opacity="0.8"/>
<circle cx="226.35" cy="152.85" r="0.55" fill="#8fb050" opacity="0.8"/>
<circle cx="224.97" cy="151.75" r="0.55" fill="#8fb050" opacity="0.8"/>
<circle cx="226.67" cy="151.24" r="0.55" fill="#8fb050" opacity="0.8"/>
<circle cx="227.21" cy="155.50" r="0.55" fill="#8fb050" opacity="0.8"/>
<circle cx="226.26" cy="149.82" r="0.55" fill="#8fb050" opacity="0.8"/>
<circle cx="226.14" cy="152.00" r="0.55" fill="#8fb050" opacity="0.8"/>
<circle cx="227.05" cy="149.98" r="0.55" fill="#8fb050" opacity="0.8"/>
<circle cx="227.37" cy="149.64" r="0.55" fill="#8fb050" opacity="0.8"/>
<circle cx="227.24" cy="152.70" r="0.55" fill="#8fb050" opacity="0.8"/>
<circle cx="226.96" cy="156.36" r="0.55" fill="#8fb050" opacity="0.8"/>
<circle cx="226.40" cy="151.45" r="0.55" fill="#8fb050" opacity="0.8"/>
<circle cx="226.97" cy="153.62" r="0.55" fill="#8fb050" opacity="0.8"/>
<circle cx="225.57" cy="152.38" r="0.55" fill="#8fb050" opacity="0.8"/>
<circle cx="226.03" cy="153.13" r="0.55" fill="#8fb050" opacity="0.8"/>
<circle cx="227.65" cy="151.91" r="0.55" fill="#8fb050" opacity="0.8"/>
<circle cx="225.52" cy="173.14" r="0.55" fill="#a0a8d4" opacity="0.4"/>
<circle cx="223.33" cy="176.81" r="0.55" fill="#a0a8d4" opacity="0.4"/>
<circle cx="226.03" cy="173.03" r="0.55" fill="#a0a8d4" opacity="0.4"/>
<circle cx="225.30" cy="167.44" r="0.55" fill="#a0a8d4" opacity="0.4"/>
<circle cx="225.46" cy="179.57" r="0.55" fill="#a0a8d4" opacity="0.4"/>
<circle cx="225.52" cy="180.41" r="0.55" fill="#a0a8d4" opacity="0.4"/>
<circle cx="223.62" cy="169.13" r="0.55" fill="#a0a8d4" opacity="0.4"/>
<circle cx="225.81" cy="171.92" r="0.55" fill="#a0a8d4" opacity="0.4"/>
<circle cx="224.33" cy="167.85" r="0.55" fill="#a0a8d4" opacity="0.4"/>
<circle cx="226.56" cy="163.94" r="0.55" fill="#a0a8d4" opacity="0.4"/>
<circle cx="224.84" cy="165.15" r="0.55" fill="#a0a8d4" opacity="0.4"/>
<circle cx="225.18" cy="176.01" r="0.55" fill="#a0a8d4" opacity="0.4"/>
<circle cx="226.06" cy="159.33" r="0.55" fill="#a0a8d4" opacity="0.4"/>
<circle cx="226.72" cy="168.30" r="0.55" fill="#a0a8d4" opacity="0.4"/>
<circle cx="225.15" cy="182.41" r="0.55" fill="#a0a8d4" opacity="0.4"/>
<circle cx="225.54" cy="164.26" r="0.55" fill="#a0a8d4" opacity="0.4"/>
<circle cx="225.11" cy="167.47" r="0.55" fill="#a0a8d4" opacity="0.4"/>
<circle cx="224.82" cy="169.92" r="0.55" fill="#a0a8d4" opacity="0.4"/>
<circle cx="226.27" cy="174.19" r="0.55" fill="#a0a8d4" opacity="0.4"/>
<circle cx="224.54" cy="189.39" r="0.55" fill="#a0a8d4" opacity="0.4"/>
<circle cx="224.84" cy="172.72" r="0.55" fill="#a0a8d4" opacity="0.4"/>
<circle cx="225.62" cy="176.75" r="0.55" fill="#a0a8d4" opacity="0.4"/>
<circle cx="225.35" cy="174.85" r="0.55" fill="#a0a8d4" opacity="0.4"/>
<circle cx="227.22" cy="172.60" r="0.55" fill="#a0a8d4" opacity="0.4"/>
<circle cx="224.77" cy="174.05" r="0.55" fill="#a0a8d4" opacity="0.4"/>
<circle cx="224.98" cy="169.69" r="0.55" fill="#a0a8d4" opacity="0.4"/>
<circle cx="225.74" cy="174.10" r="0.55" fill="#a0a8d4" opacity="0.4"/>
<circle cx="225.38" cy="177.29" r="0.55" fill="#a0a8d4" opacity="0.4"/>
<circle cx="225.45" cy="163.86" r="0.55" fill="#a0a8d4" opacity="0.4"/>
<circle cx="226.27" cy="169.73" r="0.55" fill="#a0a8d4" opacity="0.4"/>
<circle cx="226.53" cy="167.91" r="0.55" fill="#a0a8d4" opacity="0.4"/>
<circle cx="226.04" cy="173.97" r="0.55" fill="#a0a8d4" opacity="0.4"/>
<circle cx="223.53" cy="162.68" r="0.55" fill="#a0a8d4" opacity="0.4"/>
<circle cx="224.74" cy="180.78" r="0.55" fill="#a0a8d4" opacity="0.4"/>
<circle cx="224.15" cy="177.70" r="0.55" fill="#a0a8d4" opacity="0.4"/>
<circle cx="226.44" cy="175.09" r="0.55" fill="#a0a8d4" opacity="0.4"/>
<circle cx="226.12" cy="168.91" r="0.55" fill="#a0a8d4" opacity="0.4"/>
<circle cx="225.59" cy="173.40" r="0.55" fill="#a0a8d4" opacity="0.4"/>
<circle cx="225.92" cy="176.41" r="0.55" fill="#a0a8d4" opacity="0.4"/>
<circle cx="225.44" cy="167.62" r="0.55" fill="#a0a8d4" opacity="0.4"/>
</g></g>
<rect x="219.60" y="139.40" width="13.20" height="50.00" fill="none" stroke="#2a2a2a" stroke-width="0.9"/>
<line x1="219.60" y1="162.20" x2="232.80" y2="162.20" stroke="#2a2a2a" stroke-width="0.9"/>
<rect x="232.80" y="138.10" width="22.60" height="51.30" fill="none" stroke="#2a2a2a" stroke-width="0.9"/>
<text x="203.90" y="148.20" font-size="7.7" fill="#231f20" stroke="#231f20" stroke-width="0.04" textLength="15.00" lengthAdjust="spacingAndGlyphs">63.3</text>
<text x="206.50" y="187.60" font-size="7.7" fill="#231f20" stroke="#231f20" stroke-width="0.04" textLength="10.50" lengthAdjust="spacingAndGlyphs">1.7</text>
<text x="239.20" y="187.60" font-size="7.7" fill="#231f20" stroke="#231f20" stroke-width="0.04" textLength="15.00" lengthAdjust="spacingAndGlyphs">35.0</text>
<line x1="30.40" y1="136.00" x2="30.40" y2="195.50" stroke="#000" stroke-width="1.5"/>
<path d="M27.4,138 L30.4,131.6 L33.4,138 Z" fill="#000" stroke="none" stroke-width="1"/>
<line x1="29.70" y1="195.50" x2="252.00" y2="195.50" stroke="#000" stroke-width="1.5"/>
<path d="M251,192.4 L258,195.5 L251,198.6 Z" fill="#000" stroke="none" stroke-width="1"/>
<text x="24.00" y="166.40" font-size="9.6" text-anchor="middle" fill="#231f20" stroke="#231f20" stroke-width="0.1" textLength="18.20" lengthAdjust="spacingAndGlyphs" transform="rotate(-90 24.0 166.4)">Ki-67</text>
<text x="133.90" y="207.80" font-size="10.6" fill="#231f20" stroke="#231f20" stroke-width="0.1" textLength="16.10" lengthAdjust="spacingAndGlyphs">DAPI</text>
<rect x="58.80" y="299.70" width="8.40" height="57.20" fill="#2a4a88" stroke="none" stroke-width="1"/>
<line x1="63.00" y1="299.70" x2="63.00" y2="286.18" stroke="#2a4a88" stroke-width="1.0"/>
<line x1="60.80" y1="286.18" x2="65.20" y2="286.18" stroke="#2a4a88" stroke-width="1.0"/>
<rect x="68.60" y="343.38" width="8.40" height="13.52" fill="#b3122f" stroke="none" stroke-width="1"/>
<line x1="72.80" y1="343.38" x2="72.80" y2="330.90" stroke="#b3122f" stroke-width="1.0"/>
<line x1="70.60" y1="330.90" x2="75.00" y2="330.90" stroke="#b3122f" stroke-width="1.0"/>
<rect x="81.80" y="348.58" width="8.40" height="8.32" fill="#8f9dcb" stroke="none" stroke-width="1"/>
<line x1="86.00" y1="348.58" x2="86.00" y2="347.02" stroke="#7b8bc4" stroke-width="1.0"/>
<line x1="83.80" y1="347.02" x2="88.20" y2="347.02" stroke="#7b8bc4" stroke-width="1.0"/>
<rect x="90.70" y="351.70" width="8.40" height="5.20" fill="#d98779" stroke="none" stroke-width="1"/>
<line x1="94.90" y1="351.70" x2="94.90" y2="350.14" stroke="#cc7565" stroke-width="1.0"/>
<line x1="92.70" y1="350.14" x2="97.10" y2="350.14" stroke="#cc7565" stroke-width="1.0"/>
<circle cx="63.00" cy="282.44" r="1.90" fill="#fff" stroke="#2a4a88" stroke-width="1.0"/>
<circle cx="63.00" cy="290.55" r="1.90" fill="#fff" stroke="#2a4a88" stroke-width="1.0"/>
<circle cx="63.00" cy="308.44" r="1.90" fill="#fff" stroke="#2a4a88" stroke-width="1.0"/>
<circle cx="63.00" cy="318.00" r="1.90" fill="#fff" stroke="#2a4a88" stroke-width="1.0"/>
<circle cx="72.80" cy="324.66" r="1.90" fill="#fff" stroke="#b3122f" stroke-width="1.0"/>
<circle cx="70.80" cy="348.58" r="1.90" fill="#fff" stroke="#b3122f" stroke-width="1.0"/>
<circle cx="74.80" cy="350.66" r="1.90" fill="#fff" stroke="#b3122f" stroke-width="1.0"/>
<circle cx="72.80" cy="353.78" r="1.90" fill="#fff" stroke="#b3122f" stroke-width="1.0"/>
<circle cx="84.00" cy="347.54" r="1.90" fill="#fff" stroke="#3f5c9c" stroke-width="1.0"/>
<circle cx="87.50" cy="349.10" r="1.90" fill="#fff" stroke="#3f5c9c" stroke-width="1.0"/>
<circle cx="86.00" cy="350.66" r="1.90" fill="#fff" stroke="#3f5c9c" stroke-width="1.0"/>
<circle cx="93.40" cy="350.66" r="1.90" fill="#fff" stroke="#b82848" stroke-width="1.0"/>
<circle cx="96.40" cy="352.22" r="1.90" fill="#fff" stroke="#b82848" stroke-width="1.0"/>
<circle cx="94.90" cy="353.78" r="1.90" fill="#fff" stroke="#b82848" stroke-width="1.0"/>
<circle cx="97.40" cy="354.82" r="1.90" fill="#fff" stroke="#b82848" stroke-width="1.0"/>
<line x1="58.40" y1="271.10" x2="58.40" y2="357.60" stroke="#000" stroke-width="1.4"/>
<line x1="57.70" y1="356.90" x2="101.50" y2="356.90" stroke="#000" stroke-width="1.4"/>
<line x1="63.00" y1="356.90" x2="63.00" y2="359.70" stroke="#000" stroke-width="1.2"/>
<line x1="72.80" y1="356.90" x2="72.80" y2="359.70" stroke="#000" stroke-width="1.2"/>
<line x1="86.00" y1="356.90" x2="86.00" y2="359.70" stroke="#000" stroke-width="1.2"/>
<line x1="94.90" y1="356.90" x2="94.90" y2="359.70" stroke="#000" stroke-width="1.2"/>
<line x1="55.40" y1="356.90" x2="58.40" y2="356.90" stroke="#000" stroke-width="1.2"/>
<text x="51.80" y="359.70" font-size="7.9" text-anchor="end" fill="#231f20" stroke="#231f20" stroke-width="0.1">0</text>
<line x1="55.40" y1="336.10" x2="58.40" y2="336.10" stroke="#000" stroke-width="1.2"/>
<text x="51.80" y="338.90" font-size="7.9" text-anchor="end" fill="#231f20" stroke="#231f20" stroke-width="0.1">20</text>
<line x1="55.40" y1="315.30" x2="58.40" y2="315.30" stroke="#000" stroke-width="1.2"/>
<text x="51.80" y="318.10" font-size="7.9" text-anchor="end" fill="#231f20" stroke="#231f20" stroke-width="0.1">40</text>
<line x1="55.40" y1="294.50" x2="58.40" y2="294.50" stroke="#000" stroke-width="1.2"/>
<text x="51.80" y="297.30" font-size="7.9" text-anchor="end" fill="#231f20" stroke="#231f20" stroke-width="0.1">60</text>
<line x1="55.40" y1="273.70" x2="58.40" y2="273.70" stroke="#000" stroke-width="1.2"/>
<text x="51.80" y="276.50" font-size="7.9" text-anchor="end" fill="#231f20" stroke="#231f20" stroke-width="0.1">80</text>
<line x1="56.60" y1="346.50" x2="58.40" y2="346.50" stroke="#000" stroke-width="0.9"/>
<line x1="56.60" y1="325.70" x2="58.40" y2="325.70" stroke="#000" stroke-width="0.9"/>
<line x1="56.60" y1="304.90" x2="58.40" y2="304.90" stroke="#000" stroke-width="0.9"/>
<line x1="56.60" y1="284.10" x2="58.40" y2="284.10" stroke="#000" stroke-width="0.9"/>
<line x1="61.70" y1="271.00" x2="85.40" y2="271.00" stroke="#000" stroke-width="1.3"/>
<circle cx="71.85" cy="267.10" r="1.30" fill="#1a1a1a" stroke="none" stroke-width="1"/>
<circle cx="75.25" cy="267.10" r="1.30" fill="#1a1a1a" stroke="none" stroke-width="1"/>
<line x1="61.70" y1="278.40" x2="75.30" y2="278.40" stroke="#000" stroke-width="1.3"/>
<circle cx="66.80" cy="274.50" r="1.30" fill="#1a1a1a" stroke="none" stroke-width="1"/>
<circle cx="70.20" cy="274.50" r="1.30" fill="#1a1a1a" stroke="none" stroke-width="1"/>
<line x1="74.40" y1="289.30" x2="99.60" y2="289.30" stroke="#000" stroke-width="1.3"/>
<text x="87.00" y="286.50" font-size="7.8" text-anchor="middle" fill="#231f20" stroke="#231f20" stroke-width="0.1">ns</text>
<line x1="85.40" y1="297.80" x2="99.20" y2="297.80" stroke="#000" stroke-width="1.3"/>
<text x="92.30" y="295.00" font-size="7.8" text-anchor="middle" fill="#231f20" stroke="#231f20" stroke-width="0.1">ns</text>
<text x="75.20" y="242.30" font-size="7.8" fill="#231f20" stroke="#231f20" stroke-width="0.1" textLength="10.80" lengthAdjust="spacingAndGlyphs">G0</text>
<line x1="61.00" y1="246.40" x2="99.70" y2="246.40" stroke="#000" stroke-width="1.3"/>
<text x="63.20" y="257.60" font-size="7.6" fill="#231f20" stroke="#231f20" stroke-width="0.1" textLength="13.40" lengthAdjust="spacingAndGlyphs">PBS</text>
<text x="82.90" y="257.60" font-size="7.6" fill="#231f20" stroke="#231f20" stroke-width="0.1" textLength="14.40" lengthAdjust="spacingAndGlyphs">pI:C</text>
<line x1="62.40" y1="260.90" x2="77.80" y2="260.90" stroke="#000" stroke-width="1.3"/>
<line x1="82.00" y1="260.90" x2="99.00" y2="260.90" stroke="#000" stroke-width="1.3"/>
<rect x="127.90" y="322.77" width="8.40" height="33.13" fill="#2a4a88" stroke="none" stroke-width="1"/>
<line x1="132.10" y1="322.77" x2="132.10" y2="312.65" stroke="#2a4a88" stroke-width="1.0"/>
<line x1="129.90" y1="312.65" x2="134.30" y2="312.65" stroke="#2a4a88" stroke-width="1.0"/>
<rect x="136.80" y="298.78" width="8.40" height="57.12" fill="#b3122f" stroke="none" stroke-width="1"/>
<line x1="141.00" y1="298.78" x2="141.00" y2="295.52" stroke="#b3122f" stroke-width="1.0"/>
<line x1="138.80" y1="295.52" x2="143.20" y2="295.52" stroke="#b3122f" stroke-width="1.0"/>
<rect x="150.50" y="301.06" width="8.40" height="54.84" fill="#8f9dcb" stroke="none" stroke-width="1"/>
<line x1="154.70" y1="301.06" x2="154.70" y2="298.37" stroke="#7b8bc4" stroke-width="1.0"/>
<line x1="152.50" y1="298.37" x2="156.90" y2="298.37" stroke="#7b8bc4" stroke-width="1.0"/>
<rect x="159.90" y="301.72" width="8.40" height="54.18" fill="#d98779" stroke="none" stroke-width="1"/>
<line x1="164.10" y1="301.72" x2="164.10" y2="296.74" stroke="#cc7565" stroke-width="1.0"/>
<line x1="161.90" y1="296.74" x2="166.30" y2="296.74" stroke="#cc7565" stroke-width="1.0"/>
<circle cx="132.10" cy="311.02" r="1.90" fill="#fff" stroke="#2a4a88" stroke-width="1.0"/>
<circle cx="132.10" cy="317.06" r="1.90" fill="#fff" stroke="#2a4a88" stroke-width="1.0"/>
<circle cx="132.10" cy="329.14" r="1.90" fill="#fff" stroke="#2a4a88" stroke-width="1.0"/>
<circle cx="132.10" cy="335.34" r="1.90" fill="#fff" stroke="#2a4a88" stroke-width="1.0"/>
<circle cx="139.00" cy="294.21" r="1.90" fill="#fff" stroke="#b3122f" stroke-width="1.0"/>
<circle cx="143.00" cy="294.70" r="1.90" fill="#fff" stroke="#b3122f" stroke-width="1.0"/>
<circle cx="141.00" cy="297.15" r="1.90" fill="#fff" stroke="#b3122f" stroke-width="1.0"/>
<circle cx="141.00" cy="309.39" r="1.90" fill="#fff" stroke="#b3122f" stroke-width="1.0"/>
<circle cx="152.70" cy="299.76" r="1.90" fill="#fff" stroke="#3f5c9c" stroke-width="1.0"/>
<circle cx="156.20" cy="298.78" r="1.90" fill="#fff" stroke="#3f5c9c" stroke-width="1.0"/>
<circle cx="154.70" cy="302.04" r="1.90" fill="#fff" stroke="#3f5c9c" stroke-width="1.0"/>
<circle cx="164.10" cy="295.84" r="1.90" fill="#fff" stroke="#b82848" stroke-width="1.0"/>
<circle cx="162.10" cy="299.60" r="1.90" fill="#fff" stroke="#b82848" stroke-width="1.0"/>
<circle cx="166.10" cy="301.64" r="1.90" fill="#fff" stroke="#b82848" stroke-width="1.0"/>
<circle cx="163.10" cy="305.06" r="1.90" fill="#fff" stroke="#b82848" stroke-width="1.0"/>
<circle cx="166.10" cy="307.18" r="1.90" fill="#fff" stroke="#b82848" stroke-width="1.0"/>
<line x1="127.60" y1="271.70" x2="127.60" y2="356.60" stroke="#000" stroke-width="1.4"/>
<line x1="126.90" y1="355.90" x2="170.00" y2="355.90" stroke="#000" stroke-width="1.4"/>
<line x1="132.10" y1="355.90" x2="132.10" y2="358.70" stroke="#000" stroke-width="1.2"/>
<line x1="141.00" y1="355.90" x2="141.00" y2="358.70" stroke="#000" stroke-width="1.2"/>
<line x1="154.70" y1="355.90" x2="154.70" y2="358.70" stroke="#000" stroke-width="1.2"/>
<line x1="164.10" y1="355.90" x2="164.10" y2="358.70" stroke="#000" stroke-width="1.2"/>
<line x1="124.60" y1="355.90" x2="127.60" y2="355.90" stroke="#000" stroke-width="1.2"/>
<text x="121.60" y="358.70" font-size="7.9" text-anchor="end" fill="#231f20" stroke="#231f20" stroke-width="0.1">0</text>
<line x1="124.60" y1="339.58" x2="127.60" y2="339.58" stroke="#000" stroke-width="1.2"/>
<text x="121.60" y="342.38" font-size="7.9" text-anchor="end" fill="#231f20" stroke="#231f20" stroke-width="0.1">20</text>
<line x1="124.60" y1="323.26" x2="127.60" y2="323.26" stroke="#000" stroke-width="1.2"/>
<text x="121.60" y="326.06" font-size="7.9" text-anchor="end" fill="#231f20" stroke="#231f20" stroke-width="0.1">40</text>
<line x1="124.60" y1="306.94" x2="127.60" y2="306.94" stroke="#000" stroke-width="1.2"/>
<text x="121.60" y="309.74" font-size="7.9" text-anchor="end" fill="#231f20" stroke="#231f20" stroke-width="0.1">60</text>
<line x1="124.60" y1="290.62" x2="127.60" y2="290.62" stroke="#000" stroke-width="1.2"/>
<text x="121.60" y="293.42" font-size="7.9" text-anchor="end" fill="#231f20" stroke="#231f20" stroke-width="0.1">80</text>
<line x1="124.60" y1="274.30" x2="127.60" y2="274.30" stroke="#000" stroke-width="1.2"/>
<text x="121.60" y="277.10" font-size="7.9" text-anchor="end" fill="#231f20" stroke="#231f20" stroke-width="0.1">100</text>
<line x1="125.80" y1="347.74" x2="127.60" y2="347.74" stroke="#000" stroke-width="0.9"/>
<line x1="125.80" y1="331.42" x2="127.60" y2="331.42" stroke="#000" stroke-width="0.9"/>
<line x1="125.80" y1="315.10" x2="127.60" y2="315.10" stroke="#000" stroke-width="0.9"/>
<line x1="125.80" y1="298.78" x2="127.60" y2="298.78" stroke="#000" stroke-width="0.9"/>
<line x1="125.80" y1="282.46" x2="127.60" y2="282.46" stroke="#000" stroke-width="0.9"/>
<line x1="141.90" y1="272.00" x2="166.20" y2="272.00" stroke="#000" stroke-width="1.3"/>
<text x="154.05" y="269.20" font-size="7.8" text-anchor="middle" fill="#231f20" stroke="#231f20" stroke-width="0.1">ns</text>
<line x1="130.90" y1="280.40" x2="155.80" y2="280.40" stroke="#000" stroke-width="1.3"/>
<circle cx="143.35" cy="276.50" r="1.30" fill="#1a1a1a" stroke="none" stroke-width="1"/>
<line x1="130.90" y1="287.50" x2="141.90" y2="287.50" stroke="#000" stroke-width="1.3"/>
<circle cx="134.70" cy="283.60" r="1.30" fill="#1a1a1a" stroke="none" stroke-width="1"/>
<circle cx="138.10" cy="283.60" r="1.30" fill="#1a1a1a" stroke="none" stroke-width="1"/>
<line x1="154.70" y1="288.20" x2="166.20" y2="288.20" stroke="#000" stroke-width="1.3"/>
<text x="160.45" y="285.40" font-size="7.8" text-anchor="middle" fill="#231f20" stroke="#231f20" stroke-width="0.1">ns</text>
<text x="145.00" y="242.30" font-size="7.8" fill="#231f20" stroke="#231f20" stroke-width="0.1" textLength="8.90" lengthAdjust="spacingAndGlyphs">G1</text>
<line x1="130.20" y1="246.40" x2="170.00" y2="246.40" stroke="#000" stroke-width="1.3"/>
<text x="134.00" y="257.60" font-size="7.6" fill="#231f20" stroke="#231f20" stroke-width="0.1" textLength="13.20" lengthAdjust="spacingAndGlyphs">PBS</text>
<text x="153.10" y="257.60" font-size="7.6" fill="#231f20" stroke="#231f20" stroke-width="0.1" textLength="14.20" lengthAdjust="spacingAndGlyphs">pI:C</text>
<line x1="131.20" y1="260.90" x2="147.90" y2="260.90" stroke="#000" stroke-width="1.3"/>
<line x1="151.70" y1="260.90" x2="168.10" y2="260.90" stroke="#000" stroke-width="1.3"/>
<rect x="192.30" y="348.23" width="8.40" height="7.67" fill="#2a4a88" stroke="none" stroke-width="1"/>
<line x1="196.50" y1="348.23" x2="196.50" y2="343.66" stroke="#2a4a88" stroke-width="1.0"/>
<line x1="194.30" y1="343.66" x2="198.70" y2="343.66" stroke="#2a4a88" stroke-width="1.0"/>
<rect x="201.50" y="326.85" width="8.40" height="29.05" fill="#b3122f" stroke="none" stroke-width="1"/>
<line x1="205.70" y1="326.85" x2="205.70" y2="321.63" stroke="#b3122f" stroke-width="1.0"/>
<line x1="203.50" y1="321.63" x2="207.90" y2="321.63" stroke="#b3122f" stroke-width="1.0"/>
<rect x="215.00" y="313.14" width="8.40" height="42.76" fill="#8f9dcb" stroke="none" stroke-width="1"/>
<line x1="219.20" y1="313.14" x2="219.20" y2="308.57" stroke="#7b8bc4" stroke-width="1.0"/>
<line x1="217.00" y1="308.57" x2="221.40" y2="308.57" stroke="#7b8bc4" stroke-width="1.0"/>
<rect x="224.30" y="307.76" width="8.40" height="48.14" fill="#d98779" stroke="none" stroke-width="1"/>
<line x1="228.50" y1="307.76" x2="228.50" y2="302.04" stroke="#cc7565" stroke-width="1.0"/>
<line x1="226.30" y1="302.04" x2="230.70" y2="302.04" stroke="#cc7565" stroke-width="1.0"/>
<circle cx="195.00" cy="342.52" r="1.90" fill="#fff" stroke="#2a4a88" stroke-width="1.0"/>
<circle cx="198.00" cy="344.48" r="1.90" fill="#fff" stroke="#2a4a88" stroke-width="1.0"/>
<circle cx="196.50" cy="349.37" r="1.90" fill="#fff" stroke="#2a4a88" stroke-width="1.0"/>
<circle cx="195.50" cy="351.82" r="1.90" fill="#fff" stroke="#2a4a88" stroke-width="1.0"/>
<circle cx="198.50" cy="353.45" r="1.90" fill="#fff" stroke="#2a4a88" stroke-width="1.0"/>
<circle cx="205.70" cy="318.69" r="1.90" fill="#fff" stroke="#b3122f" stroke-width="1.0"/>
<circle cx="203.70" cy="322.12" r="1.90" fill="#fff" stroke="#b3122f" stroke-width="1.0"/>
<circle cx="206.70" cy="334.68" r="1.90" fill="#fff" stroke="#b3122f" stroke-width="1.0"/>
<circle cx="205.70" cy="338.76" r="1.90" fill="#fff" stroke="#b3122f" stroke-width="1.0"/>
<circle cx="219.20" cy="305.14" r="1.90" fill="#fff" stroke="#3f5c9c" stroke-width="1.0"/>
<circle cx="218.20" cy="317.22" r="1.90" fill="#fff" stroke="#3f5c9c" stroke-width="1.0"/>
<circle cx="221.20" cy="316.73" r="1.90" fill="#fff" stroke="#3f5c9c" stroke-width="1.0"/>
<circle cx="228.50" cy="292.25" r="1.90" fill="#fff" stroke="#b82848" stroke-width="1.0"/>
<circle cx="227.50" cy="297.31" r="1.90" fill="#fff" stroke="#b82848" stroke-width="1.0"/>
<circle cx="230.00" cy="311.02" r="1.90" fill="#fff" stroke="#b82848" stroke-width="1.0"/>
<circle cx="230.50" cy="315.92" r="1.90" fill="#fff" stroke="#b82848" stroke-width="1.0"/>
<circle cx="228.00" cy="320.98" r="1.90" fill="#fff" stroke="#b82848" stroke-width="1.0"/>
<line x1="191.60" y1="271.70" x2="191.60" y2="356.60" stroke="#000" stroke-width="1.4"/>
<line x1="190.90" y1="355.90" x2="233.50" y2="355.90" stroke="#000" stroke-width="1.4"/>
<line x1="196.50" y1="355.90" x2="196.50" y2="358.70" stroke="#000" stroke-width="1.2"/>
<line x1="205.70" y1="355.90" x2="205.70" y2="358.70" stroke="#000" stroke-width="1.2"/>
<line x1="219.20" y1="355.90" x2="219.20" y2="358.70" stroke="#000" stroke-width="1.2"/>
<line x1="228.50" y1="355.90" x2="228.50" y2="358.70" stroke="#000" stroke-width="1.2"/>
<line x1="188.60" y1="355.90" x2="191.60" y2="355.90" stroke="#000" stroke-width="1.2"/>
<text x="186.40" y="358.70" font-size="7.9" text-anchor="end" fill="#231f20" stroke="#231f20" stroke-width="0.1">0</text>
<line x1="188.60" y1="339.58" x2="191.60" y2="339.58" stroke="#000" stroke-width="1.2"/>
<text x="186.40" y="342.38" font-size="7.9" text-anchor="end" fill="#231f20" stroke="#231f20" stroke-width="0.1">10</text>
<line x1="188.60" y1="323.26" x2="191.60" y2="323.26" stroke="#000" stroke-width="1.2"/>
<text x="186.40" y="326.06" font-size="7.9" text-anchor="end" fill="#231f20" stroke="#231f20" stroke-width="0.1">20</text>
<line x1="188.60" y1="306.94" x2="191.60" y2="306.94" stroke="#000" stroke-width="1.2"/>
<text x="186.40" y="309.74" font-size="7.9" text-anchor="end" fill="#231f20" stroke="#231f20" stroke-width="0.1">30</text>
<line x1="188.60" y1="290.62" x2="191.60" y2="290.62" stroke="#000" stroke-width="1.2"/>
<text x="186.40" y="293.42" font-size="7.9" text-anchor="end" fill="#231f20" stroke="#231f20" stroke-width="0.1">40</text>
<line x1="188.60" y1="274.30" x2="191.60" y2="274.30" stroke="#000" stroke-width="1.2"/>
<text x="186.40" y="277.10" font-size="7.9" text-anchor="end" fill="#231f20" stroke="#231f20" stroke-width="0.1">50</text>
<line x1="189.80" y1="347.74" x2="191.60" y2="347.74" stroke="#000" stroke-width="0.9"/>
<line x1="189.80" y1="331.42" x2="191.60" y2="331.42" stroke="#000" stroke-width="0.9"/>
<line x1="189.80" y1="315.10" x2="191.60" y2="315.10" stroke="#000" stroke-width="0.9"/>
<line x1="189.80" y1="298.78" x2="191.60" y2="298.78" stroke="#000" stroke-width="0.9"/>
<line x1="189.80" y1="282.46" x2="191.60" y2="282.46" stroke="#000" stroke-width="0.9"/>
<line x1="206.00" y1="274.90" x2="230.30" y2="274.90" stroke="#000" stroke-width="1.3"/>
<circle cx="218.15" cy="271.00" r="1.30" fill="#1a1a1a" stroke="none" stroke-width="1"/>
<line x1="194.30" y1="283.80" x2="216.40" y2="283.80" stroke="#000" stroke-width="1.3"/>
<circle cx="201.95" cy="279.90" r="1.30" fill="#1a1a1a" stroke="none" stroke-width="1"/>
<circle cx="205.35" cy="279.90" r="1.30" fill="#1a1a1a" stroke="none" stroke-width="1"/>
<circle cx="208.75" cy="279.90" r="1.30" fill="#1a1a1a" stroke="none" stroke-width="1"/>
<line x1="219.70" y1="288.20" x2="230.70" y2="288.20" stroke="#000" stroke-width="1.3"/>
<text x="225.20" y="285.40" font-size="7.8" text-anchor="middle" fill="#231f20" stroke="#231f20" stroke-width="0.1">ns</text>
<line x1="194.30" y1="294.10" x2="203.80" y2="294.10" stroke="#000" stroke-width="1.3"/>
<circle cx="197.35" cy="290.20" r="1.30" fill="#1a1a1a" stroke="none" stroke-width="1"/>
<circle cx="200.75" cy="290.20" r="1.30" fill="#1a1a1a" stroke="none" stroke-width="1"/>
<text x="201.10" y="242.30" font-size="7.8" fill="#231f20" stroke="#231f20" stroke-width="0.1" textLength="26.00" lengthAdjust="spacingAndGlyphs">S/G2/M</text>
<line x1="194.10" y1="246.40" x2="232.80" y2="246.40" stroke="#000" stroke-width="1.3"/>
<text x="197.90" y="257.60" font-size="7.6" fill="#231f20" stroke="#231f20" stroke-width="0.1" textLength="13.10" lengthAdjust="spacingAndGlyphs">PBS</text>
<text x="217.40" y="257.60" font-size="7.6" fill="#231f20" stroke="#231f20" stroke-width="0.1" textLength="14.00" lengthAdjust="spacingAndGlyphs">pI:C</text>
<line x1="195.60" y1="260.90" x2="211.60" y2="260.90" stroke="#000" stroke-width="1.3"/>
<line x1="217.40" y1="260.90" x2="232.40" y2="260.90" stroke="#000" stroke-width="1.3"/>
<text x="25.20" y="317.00" font-size="9.2" text-anchor="middle" fill="#231f20" stroke="#231f20" stroke-width="0.1" textLength="96.20" lengthAdjust="spacingAndGlyphs" transform="rotate(-90 25.2 317)">LT-HSC in G0, G1 or S/G2/M</text>
<text x="35.80" y="317.00" font-size="9.6" text-anchor="middle" fill="#231f20" stroke="#231f20" stroke-width="0.1" textLength="71.50" lengthAdjust="spacingAndGlyphs" transform="rotate(-90 35.8 317)">cell cycle phases [%]</text>
<circle cx="95.80" cy="376.70" r="2.10" fill="#2a4a88" stroke="none" stroke-width="1"/>
<circle cx="103.60" cy="376.70" r="2.10" fill="#8f9dcb" stroke="none" stroke-width="1"/>
<circle cx="95.80" cy="386.50" r="2.10" fill="#b3122f" stroke="none" stroke-width="1"/>
<circle cx="103.60" cy="386.50" r="2.10" fill="#d98779" stroke="none" stroke-width="1"/>
<text x="109.00" y="379.50" font-size="8.8" fill="#231f20" stroke="#231f20" stroke-width="0.1" font-style="italic" textLength="40.80" lengthAdjust="spacingAndGlyphs">SCL-CreER</text>
<text x="150.10" y="375.90" font-size="6.2" fill="#231f20" stroke="#231f20" stroke-width="0.2" font-style="italic" textLength="5.80" lengthAdjust="spacingAndGlyphs">T+</text>
<text x="157.30" y="379.50" font-size="8.8" fill="#231f20" stroke="#231f20" stroke-width="0.1" font-style="italic" textLength="29.40" lengthAdjust="spacingAndGlyphs">;Setd1a</text>
<text x="187.30" y="375.90" font-size="6.2" fill="#231f20" stroke="#231f20" stroke-width="0.2" font-style="italic" textLength="6.90" lengthAdjust="spacingAndGlyphs">+/+</text>
<text x="109.00" y="389.30" font-size="8.8" fill="#231f20" stroke="#231f20" stroke-width="0.1" font-style="italic" textLength="40.80" lengthAdjust="spacingAndGlyphs">SCL-CreER</text>
<text x="150.10" y="385.70" font-size="6.2" fill="#231f20" stroke="#231f20" stroke-width="0.2" font-style="italic" textLength="5.80" lengthAdjust="spacingAndGlyphs">T+</text>
<text x="157.30" y="389.30" font-size="8.8" fill="#231f20" stroke="#231f20" stroke-width="0.1" font-style="italic" textLength="29.40" lengthAdjust="spacingAndGlyphs">;Setd1a</text>
<text x="187.30" y="385.70" font-size="6.2" fill="#231f20" stroke="#231f20" stroke-width="0.2" font-style="italic" textLength="6.90" lengthAdjust="spacingAndGlyphs">F/F</text>
<line x1="320.00" y1="53.00" x2="320.00" y2="139.50" stroke="#000" stroke-width="1.4"/>
<line x1="319.30" y1="138.80" x2="360.50" y2="138.80" stroke="#000" stroke-width="1.4"/>
<line x1="326.00" y1="138.80" x2="326.00" y2="141.60" stroke="#000" stroke-width="1.2"/>
<line x1="335.60" y1="138.80" x2="335.60" y2="141.60" stroke="#000" stroke-width="1.2"/>
<line x1="345.50" y1="138.80" x2="345.50" y2="141.60" stroke="#000" stroke-width="1.2"/>
<line x1="355.00" y1="138.80" x2="355.00" y2="141.60" stroke="#000" stroke-width="1.2"/>
<line x1="317.00" y1="54.80" x2="320.00" y2="54.80" stroke="#000" stroke-width="1.2"/>
<text x="311.70" y="57.80" font-size="8.1" text-anchor="end" fill="#231f20" stroke="#231f20" stroke-width="0.1">10</text>
<text x="311.80" y="54.20" font-size="5.4" fill="#231f20" stroke="#231f20" stroke-width="0.1">5</text>
<line x1="317.00" y1="98.00" x2="320.00" y2="98.00" stroke="#000" stroke-width="1.2"/>
<text x="311.70" y="101.00" font-size="8.1" text-anchor="end" fill="#231f20" stroke="#231f20" stroke-width="0.1">10</text>
<text x="311.80" y="97.40" font-size="5.4" fill="#231f20" stroke="#231f20" stroke-width="0.1">4</text>
<line x1="317.00" y1="138.80" x2="320.00" y2="138.80" stroke="#000" stroke-width="1.2"/>
<text x="311.70" y="141.80" font-size="8.1" text-anchor="end" fill="#231f20" stroke="#231f20" stroke-width="0.1">10</text>
<text x="311.80" y="138.20" font-size="5.4" fill="#231f20" stroke="#231f20" stroke-width="0.1">3</text>
<line x1="318.20" y1="85.00" x2="320.00" y2="85.00" stroke="#000" stroke-width="0.8"/>
<line x1="318.20" y1="77.39" x2="320.00" y2="77.39" stroke="#000" stroke-width="0.8"/>
<line x1="318.20" y1="71.99" x2="320.00" y2="71.99" stroke="#000" stroke-width="0.8"/>
<line x1="318.20" y1="67.80" x2="320.00" y2="67.80" stroke="#000" stroke-width="0.8"/>
<line x1="318.20" y1="64.38" x2="320.00" y2="64.38" stroke="#000" stroke-width="0.8"/>
<line x1="318.20" y1="61.49" x2="320.00" y2="61.49" stroke="#000" stroke-width="0.8"/>
<line x1="318.20" y1="58.99" x2="320.00" y2="58.99" stroke="#000" stroke-width="0.8"/>
<line x1="318.20" y1="56.78" x2="320.00" y2="56.78" stroke="#000" stroke-width="0.8"/>
<line x1="318.20" y1="126.52" x2="320.00" y2="126.52" stroke="#000" stroke-width="0.8"/>
<line x1="318.20" y1="119.33" x2="320.00" y2="119.33" stroke="#000" stroke-width="0.8"/>
<line x1="318.20" y1="114.24" x2="320.00" y2="114.24" stroke="#000" stroke-width="0.8"/>
<line x1="318.20" y1="110.28" x2="320.00" y2="110.28" stroke="#000" stroke-width="0.8"/>
<line x1="318.20" y1="107.05" x2="320.00" y2="107.05" stroke="#000" stroke-width="0.8"/>
<line x1="318.20" y1="104.32" x2="320.00" y2="104.32" stroke="#000" stroke-width="0.8"/>
<line x1="318.20" y1="101.95" x2="320.00" y2="101.95" stroke="#000" stroke-width="0.8"/>
<line x1="318.20" y1="99.87" x2="320.00" y2="99.87" stroke="#000" stroke-width="0.8"/>
<line x1="326.00" y1="88.00" x2="326.00" y2="120.00" stroke="#2a4a88" stroke-width="1.1"/>
<line x1="323.80" y1="88.00" x2="328.20" y2="88.00" stroke="#2a4a88" stroke-width="1.1"/>
<line x1="323.80" y1="120.00" x2="328.20" y2="120.00" stroke="#2a4a88" stroke-width="1.1"/>
<circle cx="326.00" cy="89.10" r="2.15" fill="#2a4a88" stroke="none" stroke-width="1"/>
<circle cx="328.60" cy="104.50" r="2.15" fill="#2a4a88" stroke="none" stroke-width="1"/>
<circle cx="325.20" cy="112.80" r="2.15" fill="#2a4a88" stroke="none" stroke-width="1"/>
<line x1="322.60" y1="101.30" x2="329.40" y2="101.30" stroke="#111" stroke-width="1.6"/>
<line x1="335.60" y1="75.90" x2="335.60" y2="116.70" stroke="#b3122f" stroke-width="1.1"/>
<line x1="333.40" y1="75.90" x2="337.80" y2="75.90" stroke="#b3122f" stroke-width="1.1"/>
<line x1="333.40" y1="116.70" x2="337.80" y2="116.70" stroke="#b3122f" stroke-width="1.1"/>
<circle cx="335.60" cy="77.00" r="2.15" fill="#b3122f" stroke="none" stroke-width="1"/>
<circle cx="335.60" cy="86.00" r="2.15" fill="#b3122f" stroke="none" stroke-width="1"/>
<circle cx="335.10" cy="106.80" r="2.15" fill="#b3122f" stroke="none" stroke-width="1"/>
<circle cx="338.20" cy="104.60" r="2.15" fill="#b3122f" stroke="none" stroke-width="1"/>
<line x1="332.20" y1="89.10" x2="339.00" y2="89.10" stroke="#111" stroke-width="1.6"/>
<line x1="345.50" y1="78.00" x2="345.50" y2="85.00" stroke="#7b8bc4" stroke-width="1.1"/>
<line x1="343.30" y1="78.00" x2="347.70" y2="78.00" stroke="#7b8bc4" stroke-width="1.1"/>
<line x1="343.30" y1="85.00" x2="347.70" y2="85.00" stroke="#7b8bc4" stroke-width="1.1"/>
<circle cx="343.10" cy="78.30" r="2.15" fill="#8f9dcb" stroke="none" stroke-width="1"/>
<circle cx="348.10" cy="78.10" r="2.15" fill="#8f9dcb" stroke="none" stroke-width="1"/>
<circle cx="345.50" cy="85.60" r="2.15" fill="#8f9dcb" stroke="none" stroke-width="1"/>
<circle cx="346.00" cy="81.50" r="2.15" fill="#8f9dcb" stroke="none" stroke-width="1"/>
<line x1="342.10" y1="81.40" x2="348.90" y2="81.40" stroke="#111" stroke-width="1.6"/>
<line x1="355.00" y1="67.50" x2="355.00" y2="71.50" stroke="#cc7565" stroke-width="1.1"/>
<line x1="352.80" y1="67.50" x2="357.20" y2="67.50" stroke="#cc7565" stroke-width="1.1"/>
<line x1="352.80" y1="71.50" x2="357.20" y2="71.50" stroke="#cc7565" stroke-width="1.1"/>
<circle cx="353.00" cy="68.20" r="2.15" fill="#d98779" stroke="none" stroke-width="1"/>
<circle cx="357.00" cy="68.50" r="2.15" fill="#d98779" stroke="none" stroke-width="1"/>
<circle cx="355.00" cy="71.00" r="2.15" fill="#d98779" stroke="none" stroke-width="1"/>
<circle cx="352.50" cy="70.50" r="2.15" fill="#d98779" stroke="none" stroke-width="1"/>
<circle cx="357.50" cy="70.20" r="2.15" fill="#d98779" stroke="none" stroke-width="1"/>
<line x1="351.60" y1="69.30" x2="358.40" y2="69.30" stroke="#111" stroke-width="1.6"/>
<line x1="337.50" y1="53.10" x2="356.90" y2="53.10" stroke="#000" stroke-width="1.3"/>
<circle cx="345.50" cy="49.80" r="1.30" fill="#1a1a1a" stroke="none" stroke-width="1"/>
<circle cx="348.90" cy="49.80" r="1.30" fill="#1a1a1a" stroke="none" stroke-width="1"/>
<line x1="345.90" y1="60.60" x2="357.50" y2="60.60" stroke="#000" stroke-width="1.3"/>
<circle cx="348.30" cy="57.30" r="1.30" fill="#1a1a1a" stroke="none" stroke-width="1"/>
<circle cx="351.70" cy="57.30" r="1.30" fill="#1a1a1a" stroke="none" stroke-width="1"/>
<circle cx="355.10" cy="57.30" r="1.30" fill="#1a1a1a" stroke="none" stroke-width="1"/>
<line x1="325.40" y1="66.10" x2="345.20" y2="66.10" stroke="#000" stroke-width="1.3"/>
<circle cx="333.60" cy="62.80" r="1.30" fill="#1a1a1a" stroke="none" stroke-width="1"/>
<circle cx="337.00" cy="62.80" r="1.30" fill="#1a1a1a" stroke="none" stroke-width="1"/>
<text x="337.50" y="26.60" font-size="9.3" fill="#231f20" stroke="#231f20" stroke-width="0.1" textLength="8.70" lengthAdjust="spacingAndGlyphs">LT</text>
<line x1="322.80" y1="29.60" x2="361.50" y2="29.60" stroke="#000" stroke-width="1.3"/>
<text x="324.60" y="41.70" font-size="7.7" fill="#231f20" stroke="#231f20" stroke-width="0.1" textLength="14.50" lengthAdjust="spacingAndGlyphs">PBS</text>
<text x="344.30" y="41.70" font-size="7.7" fill="#231f20" stroke="#231f20" stroke-width="0.1" textLength="14.50" lengthAdjust="spacingAndGlyphs">pI:C</text>
<line x1="324.00" y1="44.20" x2="339.60" y2="44.20" stroke="#000" stroke-width="1.3"/>
<line x1="343.30" y1="44.20" x2="360.00" y2="44.20" stroke="#000" stroke-width="1.3"/>
<line x1="393.00" y1="52.80" x2="393.00" y2="139.00" stroke="#000" stroke-width="1.4"/>
<line x1="392.30" y1="138.30" x2="432.50" y2="138.30" stroke="#000" stroke-width="1.4"/>
<line x1="398.20" y1="138.30" x2="398.20" y2="141.10" stroke="#000" stroke-width="1.2"/>
<line x1="408.50" y1="138.30" x2="408.50" y2="141.10" stroke="#000" stroke-width="1.2"/>
<line x1="418.00" y1="138.30" x2="418.00" y2="141.10" stroke="#000" stroke-width="1.2"/>
<line x1="427.50" y1="138.30" x2="427.50" y2="141.10" stroke="#000" stroke-width="1.2"/>
<line x1="390.00" y1="54.50" x2="393.00" y2="54.50" stroke="#000" stroke-width="1.2"/>
<text x="384.20" y="57.50" font-size="8.1" text-anchor="end" fill="#231f20" stroke="#231f20" stroke-width="0.1">10</text>
<text x="384.30" y="53.90" font-size="5.4" fill="#231f20" stroke="#231f20" stroke-width="0.1">6</text>
<line x1="390.00" y1="98.00" x2="393.00" y2="98.00" stroke="#000" stroke-width="1.2"/>
<text x="384.20" y="101.00" font-size="8.1" text-anchor="end" fill="#231f20" stroke="#231f20" stroke-width="0.1">10</text>
<text x="384.30" y="97.40" font-size="5.4" fill="#231f20" stroke="#231f20" stroke-width="0.1">5</text>
<line x1="390.00" y1="138.30" x2="393.00" y2="138.30" stroke="#000" stroke-width="1.2"/>
<text x="384.20" y="141.30" font-size="8.1" text-anchor="end" fill="#231f20" stroke="#231f20" stroke-width="0.1">10</text>
<text x="384.30" y="137.70" font-size="5.4" fill="#231f20" stroke="#231f20" stroke-width="0.1">4</text>
<line x1="391.20" y1="84.91" x2="393.00" y2="84.91" stroke="#000" stroke-width="0.8"/>
<line x1="391.20" y1="77.25" x2="393.00" y2="77.25" stroke="#000" stroke-width="0.8"/>
<line x1="391.20" y1="71.81" x2="393.00" y2="71.81" stroke="#000" stroke-width="0.8"/>
<line x1="391.20" y1="67.59" x2="393.00" y2="67.59" stroke="#000" stroke-width="0.8"/>
<line x1="391.20" y1="64.15" x2="393.00" y2="64.15" stroke="#000" stroke-width="0.8"/>
<line x1="391.20" y1="61.24" x2="393.00" y2="61.24" stroke="#000" stroke-width="0.8"/>
<line x1="391.20" y1="58.72" x2="393.00" y2="58.72" stroke="#000" stroke-width="0.8"/>
<line x1="391.20" y1="56.49" x2="393.00" y2="56.49" stroke="#000" stroke-width="0.8"/>
<line x1="391.20" y1="126.17" x2="393.00" y2="126.17" stroke="#000" stroke-width="0.8"/>
<line x1="391.20" y1="119.07" x2="393.00" y2="119.07" stroke="#000" stroke-width="0.8"/>
<line x1="391.20" y1="114.04" x2="393.00" y2="114.04" stroke="#000" stroke-width="0.8"/>
<line x1="391.20" y1="110.13" x2="393.00" y2="110.13" stroke="#000" stroke-width="0.8"/>
<line x1="391.20" y1="106.94" x2="393.00" y2="106.94" stroke="#000" stroke-width="0.8"/>
<line x1="391.20" y1="104.24" x2="393.00" y2="104.24" stroke="#000" stroke-width="0.8"/>
<line x1="391.20" y1="101.91" x2="393.00" y2="101.91" stroke="#000" stroke-width="0.8"/>
<line x1="391.20" y1="99.84" x2="393.00" y2="99.84" stroke="#000" stroke-width="0.8"/>
<line x1="398.20" y1="103.50" x2="398.20" y2="138.00" stroke="#2a4a88" stroke-width="1.1"/>
<line x1="396.00" y1="103.50" x2="400.40" y2="103.50" stroke="#2a4a88" stroke-width="1.1"/>
<line x1="396.00" y1="138.00" x2="400.40" y2="138.00" stroke="#2a4a88" stroke-width="1.1"/>
<circle cx="398.20" cy="105.70" r="2.15" fill="#2a4a88" stroke="none" stroke-width="1"/>
<circle cx="401.50" cy="132.00" r="2.15" fill="#2a4a88" stroke="none" stroke-width="1"/>
<circle cx="398.20" cy="135.60" r="2.15" fill="#2a4a88" stroke="none" stroke-width="1"/>
<line x1="394.80" y1="120.00" x2="401.60" y2="120.00" stroke="#111" stroke-width="1.6"/>
<line x1="408.50" y1="91.30" x2="408.50" y2="122.70" stroke="#b3122f" stroke-width="1.1"/>
<line x1="406.30" y1="91.30" x2="410.70" y2="91.30" stroke="#b3122f" stroke-width="1.1"/>
<line x1="406.30" y1="122.70" x2="410.70" y2="122.70" stroke="#b3122f" stroke-width="1.1"/>
<circle cx="408.50" cy="88.00" r="2.15" fill="#b3122f" stroke="none" stroke-width="1"/>
<circle cx="406.30" cy="105.70" r="2.15" fill="#b3122f" stroke="none" stroke-width="1"/>
<circle cx="412.00" cy="110.00" r="2.15" fill="#b3122f" stroke="none" stroke-width="1"/>
<circle cx="408.50" cy="111.20" r="2.15" fill="#b3122f" stroke="none" stroke-width="1"/>
<line x1="405.10" y1="101.30" x2="411.90" y2="101.30" stroke="#111" stroke-width="1.6"/>
<line x1="418.00" y1="90.00" x2="418.00" y2="95.00" stroke="#7b8bc4" stroke-width="1.1"/>
<line x1="415.80" y1="90.00" x2="420.20" y2="90.00" stroke="#7b8bc4" stroke-width="1.1"/>
<line x1="415.80" y1="95.00" x2="420.20" y2="95.00" stroke="#7b8bc4" stroke-width="1.1"/>
<circle cx="415.50" cy="91.30" r="2.15" fill="#8f9dcb" stroke="none" stroke-width="1"/>
<circle cx="419.00" cy="93.20" r="2.15" fill="#8f9dcb" stroke="none" stroke-width="1"/>
<circle cx="421.00" cy="92.00" r="2.15" fill="#8f9dcb" stroke="none" stroke-width="1"/>
<circle cx="418.00" cy="94.50" r="2.15" fill="#8f9dcb" stroke="none" stroke-width="1"/>
<line x1="414.60" y1="92.40" x2="421.40" y2="92.40" stroke="#111" stroke-width="1.6"/>
<line x1="427.50" y1="80.00" x2="427.50" y2="85.00" stroke="#cc7565" stroke-width="1.1"/>
<line x1="425.30" y1="80.00" x2="429.70" y2="80.00" stroke="#cc7565" stroke-width="1.1"/>
<line x1="425.30" y1="85.00" x2="429.70" y2="85.00" stroke="#cc7565" stroke-width="1.1"/>
<circle cx="425.70" cy="79.20" r="2.15" fill="#d98779" stroke="none" stroke-width="1"/>
<circle cx="429.00" cy="81.50" r="2.15" fill="#d98779" stroke="none" stroke-width="1"/>
<circle cx="427.50" cy="84.00" r="2.15" fill="#d98779" stroke="none" stroke-width="1"/>
<circle cx="430.00" cy="83.00" r="2.15" fill="#d98779" stroke="none" stroke-width="1"/>
<line x1="424.10" y1="82.50" x2="430.90" y2="82.50" stroke="#111" stroke-width="1.6"/>
<line x1="410.70" y1="52.70" x2="429.00" y2="52.70" stroke="#000" stroke-width="1.3"/>
<circle cx="418.15" cy="49.40" r="1.30" fill="#1a1a1a" stroke="none" stroke-width="1"/>
<circle cx="421.55" cy="49.40" r="1.30" fill="#1a1a1a" stroke="none" stroke-width="1"/>
<line x1="418.70" y1="60.40" x2="429.00" y2="60.40" stroke="#000" stroke-width="1.3"/>
<circle cx="420.45" cy="57.10" r="1.30" fill="#1a1a1a" stroke="none" stroke-width="1"/>
<circle cx="423.85" cy="57.10" r="1.30" fill="#1a1a1a" stroke="none" stroke-width="1"/>
<circle cx="427.25" cy="57.10" r="1.30" fill="#1a1a1a" stroke="none" stroke-width="1"/>
<line x1="398.20" y1="66.10" x2="418.00" y2="66.10" stroke="#000" stroke-width="1.3"/>
<circle cx="404.70" cy="62.80" r="1.30" fill="#1a1a1a" stroke="none" stroke-width="1"/>
<circle cx="408.10" cy="62.80" r="1.30" fill="#1a1a1a" stroke="none" stroke-width="1"/>
<circle cx="411.50" cy="62.80" r="1.30" fill="#1a1a1a" stroke="none" stroke-width="1"/>
<text x="410.20" y="26.60" font-size="9.3" fill="#231f20" stroke="#231f20" stroke-width="0.1" textLength="10.80" lengthAdjust="spacingAndGlyphs">ST</text>
<line x1="394.80" y1="29.60" x2="435.20" y2="29.60" stroke="#000" stroke-width="1.3"/>
<text x="397.80" y="41.70" font-size="7.7" fill="#231f20" stroke="#231f20" stroke-width="0.1" textLength="13.80" lengthAdjust="spacingAndGlyphs">PBS</text>
<text x="417.00" y="41.70" font-size="7.7" fill="#231f20" stroke="#231f20" stroke-width="0.1" textLength="14.80" lengthAdjust="spacingAndGlyphs">pI:C</text>
<line x1="397.50" y1="44.20" x2="411.80" y2="44.20" stroke="#000" stroke-width="1.3"/>
<line x1="416.30" y1="44.20" x2="432.50" y2="44.20" stroke="#000" stroke-width="1.3"/>
<line x1="466.30" y1="53.20" x2="466.30" y2="139.50" stroke="#000" stroke-width="1.4"/>
<line x1="465.60" y1="138.80" x2="506.00" y2="138.80" stroke="#000" stroke-width="1.4"/>
<line x1="471.40" y1="138.80" x2="471.40" y2="141.60" stroke="#000" stroke-width="1.2"/>
<line x1="482.00" y1="138.80" x2="482.00" y2="141.60" stroke="#000" stroke-width="1.2"/>
<line x1="492.40" y1="138.80" x2="492.40" y2="141.60" stroke="#000" stroke-width="1.2"/>
<line x1="502.50" y1="138.80" x2="502.50" y2="141.60" stroke="#000" stroke-width="1.2"/>
<line x1="463.30" y1="54.90" x2="466.30" y2="54.90" stroke="#000" stroke-width="1.2"/>
<text x="457.40" y="57.90" font-size="8.1" text-anchor="end" fill="#231f20" stroke="#231f20" stroke-width="0.1">10</text>
<text x="457.50" y="54.30" font-size="5.4" fill="#231f20" stroke="#231f20" stroke-width="0.1">6</text>
<line x1="463.30" y1="83.60" x2="466.30" y2="83.60" stroke="#000" stroke-width="1.2"/>
<text x="457.40" y="86.60" font-size="8.1" text-anchor="end" fill="#231f20" stroke="#231f20" stroke-width="0.1">10</text>
<text x="457.50" y="83.00" font-size="5.4" fill="#231f20" stroke="#231f20" stroke-width="0.1">5</text>
<line x1="463.30" y1="111.20" x2="466.30" y2="111.20" stroke="#000" stroke-width="1.2"/>
<text x="457.40" y="114.20" font-size="8.1" text-anchor="end" fill="#231f20" stroke="#231f20" stroke-width="0.1">10</text>
<text x="457.50" y="110.60" font-size="5.4" fill="#231f20" stroke="#231f20" stroke-width="0.1">4</text>
<line x1="463.30" y1="138.80" x2="466.30" y2="138.80" stroke="#000" stroke-width="1.2"/>
<text x="457.40" y="141.80" font-size="8.1" text-anchor="end" fill="#231f20" stroke="#231f20" stroke-width="0.1">10</text>
<text x="457.50" y="138.20" font-size="5.4" fill="#231f20" stroke="#231f20" stroke-width="0.1">3</text>
<line x1="464.50" y1="74.96" x2="466.30" y2="74.96" stroke="#000" stroke-width="0.8"/>
<line x1="464.50" y1="69.91" x2="466.30" y2="69.91" stroke="#000" stroke-width="0.8"/>
<line x1="464.50" y1="66.32" x2="466.30" y2="66.32" stroke="#000" stroke-width="0.8"/>
<line x1="464.50" y1="63.54" x2="466.30" y2="63.54" stroke="#000" stroke-width="0.8"/>
<line x1="464.50" y1="61.27" x2="466.30" y2="61.27" stroke="#000" stroke-width="0.8"/>
<line x1="464.50" y1="59.35" x2="466.30" y2="59.35" stroke="#000" stroke-width="0.8"/>
<line x1="464.50" y1="57.68" x2="466.30" y2="57.68" stroke="#000" stroke-width="0.8"/>
<line x1="464.50" y1="56.21" x2="466.30" y2="56.21" stroke="#000" stroke-width="0.8"/>
<line x1="464.50" y1="102.89" x2="466.30" y2="102.89" stroke="#000" stroke-width="0.8"/>
<line x1="464.50" y1="98.03" x2="466.30" y2="98.03" stroke="#000" stroke-width="0.8"/>
<line x1="464.50" y1="94.58" x2="466.30" y2="94.58" stroke="#000" stroke-width="0.8"/>
<line x1="464.50" y1="91.91" x2="466.30" y2="91.91" stroke="#000" stroke-width="0.8"/>
<line x1="464.50" y1="89.72" x2="466.30" y2="89.72" stroke="#000" stroke-width="0.8"/>
<line x1="464.50" y1="87.88" x2="466.30" y2="87.88" stroke="#000" stroke-width="0.8"/>
<line x1="464.50" y1="86.27" x2="466.30" y2="86.27" stroke="#000" stroke-width="0.8"/>
<line x1="464.50" y1="84.86" x2="466.30" y2="84.86" stroke="#000" stroke-width="0.8"/>
<line x1="464.50" y1="130.49" x2="466.30" y2="130.49" stroke="#000" stroke-width="0.8"/>
<line x1="464.50" y1="125.63" x2="466.30" y2="125.63" stroke="#000" stroke-width="0.8"/>
<line x1="464.50" y1="122.18" x2="466.30" y2="122.18" stroke="#000" stroke-width="0.8"/>
<line x1="464.50" y1="119.51" x2="466.30" y2="119.51" stroke="#000" stroke-width="0.8"/>
<line x1="464.50" y1="117.32" x2="466.30" y2="117.32" stroke="#000" stroke-width="0.8"/>
<line x1="464.50" y1="115.48" x2="466.30" y2="115.48" stroke="#000" stroke-width="0.8"/>
<line x1="464.50" y1="113.87" x2="466.30" y2="113.87" stroke="#000" stroke-width="0.8"/>
<line x1="464.50" y1="112.46" x2="466.30" y2="112.46" stroke="#000" stroke-width="0.8"/>
<line x1="471.40" y1="80.30" x2="471.40" y2="138.80" stroke="#2a4a88" stroke-width="1.1"/>
<line x1="469.20" y1="80.30" x2="473.60" y2="80.30" stroke="#2a4a88" stroke-width="1.1"/>
<line x1="469.20" y1="138.80" x2="473.60" y2="138.80" stroke="#2a4a88" stroke-width="1.1"/>
<circle cx="471.40" cy="81.40" r="2.15" fill="#2a4a88" stroke="none" stroke-width="1"/>
<circle cx="471.40" cy="96.00" r="2.15" fill="#2a4a88" stroke="none" stroke-width="1"/>
<circle cx="474.70" cy="105.00" r="2.15" fill="#2a4a88" stroke="none" stroke-width="1"/>
<circle cx="471.40" cy="108.50" r="2.15" fill="#2a4a88" stroke="none" stroke-width="1"/>
<line x1="468.00" y1="92.40" x2="474.80" y2="92.40" stroke="#111" stroke-width="1.6"/>
<line x1="482.00" y1="73.70" x2="482.00" y2="91.30" stroke="#b3122f" stroke-width="1.1"/>
<line x1="479.80" y1="73.70" x2="484.20" y2="73.70" stroke="#b3122f" stroke-width="1.1"/>
<line x1="479.80" y1="91.30" x2="484.20" y2="91.30" stroke="#b3122f" stroke-width="1.1"/>
<circle cx="482.00" cy="72.60" r="2.15" fill="#b3122f" stroke="none" stroke-width="1"/>
<circle cx="479.80" cy="83.60" r="2.15" fill="#b3122f" stroke="none" stroke-width="1"/>
<circle cx="483.20" cy="84.60" r="2.15" fill="#b3122f" stroke="none" stroke-width="1"/>
<circle cx="485.20" cy="83.80" r="2.15" fill="#b3122f" stroke="none" stroke-width="1"/>
<line x1="478.60" y1="80.30" x2="485.40" y2="80.30" stroke="#111" stroke-width="1.6"/>
<line x1="492.40" y1="78.00" x2="492.40" y2="91.00" stroke="#7b8bc4" stroke-width="1.1"/>
<line x1="490.20" y1="78.00" x2="494.60" y2="78.00" stroke="#7b8bc4" stroke-width="1.1"/>
<line x1="490.20" y1="91.00" x2="494.60" y2="91.00" stroke="#7b8bc4" stroke-width="1.1"/>
<circle cx="495.50" cy="78.10" r="2.15" fill="#8f9dcb" stroke="none" stroke-width="1"/>
<circle cx="491.50" cy="84.30" r="2.15" fill="#8f9dcb" stroke="none" stroke-width="1"/>
<circle cx="489.80" cy="88.50" r="2.15" fill="#8f9dcb" stroke="none" stroke-width="1"/>
<circle cx="492.40" cy="91.30" r="2.15" fill="#8f9dcb" stroke="none" stroke-width="1"/>
<line x1="489.00" y1="84.30" x2="495.80" y2="84.30" stroke="#111" stroke-width="1.6"/>
<line x1="502.50" y1="67.00" x2="502.50" y2="78.00" stroke="#cc7565" stroke-width="1.1"/>
<line x1="500.30" y1="67.00" x2="504.70" y2="67.00" stroke="#cc7565" stroke-width="1.1"/>
<line x1="500.30" y1="78.00" x2="504.70" y2="78.00" stroke="#cc7565" stroke-width="1.1"/>
<circle cx="502.50" cy="66.00" r="2.15" fill="#d98779" stroke="none" stroke-width="1"/>
<circle cx="500.00" cy="73.70" r="2.15" fill="#d98779" stroke="none" stroke-width="1"/>
<circle cx="504.00" cy="78.00" r="2.15" fill="#d98779" stroke="none" stroke-width="1"/>
<line x1="499.10" y1="73.70" x2="505.90" y2="73.70" stroke="#111" stroke-width="1.6"/>
<line x1="491.90" y1="58.70" x2="503.00" y2="58.70" stroke="#000" stroke-width="1.3"/>
<circle cx="497.45" cy="55.40" r="1.30" fill="#1a1a1a" stroke="none" stroke-width="1"/>
<text x="474.20" y="26.60" font-size="9.3" fill="#231f20" stroke="#231f20" stroke-width="0.1" textLength="19.40" lengthAdjust="spacingAndGlyphs">MPP</text>
<line x1="464.00" y1="29.60" x2="503.30" y2="29.60" stroke="#000" stroke-width="1.3"/>
<text x="466.20" y="41.70" font-size="7.7" fill="#231f20" stroke="#231f20" stroke-width="0.1" textLength="14.40" lengthAdjust="spacingAndGlyphs">PBS</text>
<text x="486.00" y="41.70" font-size="7.7" fill="#231f20" stroke="#231f20" stroke-width="0.1" textLength="14.60" lengthAdjust="spacingAndGlyphs">pI:C</text>
<line x1="465.60" y1="44.20" x2="481.00" y2="44.20" stroke="#000" stroke-width="1.3"/>
<line x1="485.50" y1="44.20" x2="501.20" y2="44.20" stroke="#000" stroke-width="1.3"/>
<text x="296.90" y="95.65" font-size="8.8" text-anchor="middle" fill="#231f20" stroke="#231f20" stroke-width="0.1" textLength="42.90" lengthAdjust="spacingAndGlyphs" transform="rotate(-90 296.9 95.65)">Cell number</text>
<line x1="320.60" y1="172.10" x2="320.60" y2="256.70" stroke="#000" stroke-width="1.4"/>
<line x1="319.90" y1="256.00" x2="362.00" y2="256.00" stroke="#000" stroke-width="1.4"/>
<line x1="325.60" y1="256.00" x2="325.60" y2="258.80" stroke="#000" stroke-width="1.2"/>
<line x1="335.90" y1="256.00" x2="335.90" y2="258.80" stroke="#000" stroke-width="1.2"/>
<line x1="346.30" y1="256.00" x2="346.30" y2="258.80" stroke="#000" stroke-width="1.2"/>
<line x1="356.90" y1="256.00" x2="356.90" y2="258.80" stroke="#000" stroke-width="1.2"/>
<line x1="317.60" y1="256.00" x2="320.60" y2="256.00" stroke="#000" stroke-width="1.2"/>
<text x="314.20" y="258.90" font-size="7.9" text-anchor="end" fill="#231f20" stroke="#231f20" stroke-width="0.1">800</text>
<line x1="317.60" y1="239.66" x2="320.60" y2="239.66" stroke="#000" stroke-width="1.2"/>
<text x="314.20" y="242.56" font-size="7.9" text-anchor="end" fill="#231f20" stroke="#231f20" stroke-width="0.1">1000</text>
<line x1="317.60" y1="223.32" x2="320.60" y2="223.32" stroke="#000" stroke-width="1.2"/>
<text x="314.20" y="226.22" font-size="7.9" text-anchor="end" fill="#231f20" stroke="#231f20" stroke-width="0.1">1200</text>
<line x1="317.60" y1="206.98" x2="320.60" y2="206.98" stroke="#000" stroke-width="1.2"/>
<text x="314.20" y="209.88" font-size="7.9" text-anchor="end" fill="#231f20" stroke="#231f20" stroke-width="0.1">1400</text>
<line x1="317.60" y1="190.64" x2="320.60" y2="190.64" stroke="#000" stroke-width="1.2"/>
<text x="314.20" y="193.54" font-size="7.9" text-anchor="end" fill="#231f20" stroke="#231f20" stroke-width="0.1">1600</text>
<line x1="317.60" y1="174.30" x2="320.60" y2="174.30" stroke="#000" stroke-width="1.2"/>
<text x="314.20" y="177.20" font-size="7.9" text-anchor="end" fill="#231f20" stroke="#231f20" stroke-width="0.1">1800</text>
<line x1="318.80" y1="247.83" x2="320.60" y2="247.83" stroke="#000" stroke-width="0.8"/>
<line x1="318.80" y1="231.49" x2="320.60" y2="231.49" stroke="#000" stroke-width="0.8"/>
<line x1="318.80" y1="215.15" x2="320.60" y2="215.15" stroke="#000" stroke-width="0.8"/>
<line x1="318.80" y1="198.81" x2="320.60" y2="198.81" stroke="#000" stroke-width="0.8"/>
<line x1="318.80" y1="182.47" x2="320.60" y2="182.47" stroke="#000" stroke-width="0.8"/>
<line x1="325.60" y1="213.52" x2="325.60" y2="224.14" stroke="#2a4a88" stroke-width="1.1"/>
<line x1="323.40" y1="213.52" x2="327.80" y2="213.52" stroke="#2a4a88" stroke-width="1.1"/>
<line x1="323.40" y1="224.14" x2="327.80" y2="224.14" stroke="#2a4a88" stroke-width="1.1"/>
<circle cx="325.60" cy="209.43" r="2.15" fill="#2a4a88" stroke="none" stroke-width="1"/>
<circle cx="323.10" cy="217.60" r="2.15" fill="#2a4a88" stroke="none" stroke-width="1"/>
<circle cx="325.60" cy="226.59" r="2.15" fill="#2a4a88" stroke="none" stroke-width="1"/>
<circle cx="327.60" cy="219.24" r="2.15" fill="#2a4a88" stroke="none" stroke-width="1"/>
<line x1="322.20" y1="219.24" x2="329.00" y2="219.24" stroke="#111" stroke-width="1.6"/>
<line x1="335.90" y1="217.60" x2="335.90" y2="234.76" stroke="#b3122f" stroke-width="1.1"/>
<line x1="333.70" y1="217.60" x2="338.10" y2="217.60" stroke="#b3122f" stroke-width="1.1"/>
<line x1="333.70" y1="234.76" x2="338.10" y2="234.76" stroke="#b3122f" stroke-width="1.1"/>
<circle cx="338.40" cy="216.78" r="2.15" fill="#b3122f" stroke="none" stroke-width="1"/>
<circle cx="335.40" cy="221.69" r="2.15" fill="#b3122f" stroke="none" stroke-width="1"/>
<circle cx="335.90" cy="228.22" r="2.15" fill="#b3122f" stroke="none" stroke-width="1"/>
<circle cx="335.90" cy="235.57" r="2.15" fill="#b3122f" stroke="none" stroke-width="1"/>
<line x1="332.50" y1="226.59" x2="339.30" y2="226.59" stroke="#111" stroke-width="1.6"/>
<line x1="346.30" y1="193.91" x2="346.30" y2="206.16" stroke="#7b8bc4" stroke-width="1.1"/>
<line x1="344.10" y1="193.91" x2="348.50" y2="193.91" stroke="#7b8bc4" stroke-width="1.1"/>
<line x1="344.10" y1="206.16" x2="348.50" y2="206.16" stroke="#7b8bc4" stroke-width="1.1"/>
<circle cx="344.30" cy="192.27" r="2.15" fill="#8f9dcb" stroke="none" stroke-width="1"/>
<circle cx="348.30" cy="194.72" r="2.15" fill="#8f9dcb" stroke="none" stroke-width="1"/>
<circle cx="346.30" cy="202.08" r="2.15" fill="#8f9dcb" stroke="none" stroke-width="1"/>
<circle cx="348.80" cy="198.81" r="2.15" fill="#8f9dcb" stroke="none" stroke-width="1"/>
<circle cx="345.30" cy="205.35" r="2.15" fill="#8f9dcb" stroke="none" stroke-width="1"/>
<line x1="342.90" y1="201.26" x2="349.70" y2="201.26" stroke="#111" stroke-width="1.6"/>
<line x1="356.90" y1="191.46" x2="356.90" y2="217.60" stroke="#cc7565" stroke-width="1.1"/>
<line x1="354.70" y1="191.46" x2="359.10" y2="191.46" stroke="#cc7565" stroke-width="1.1"/>
<line x1="354.70" y1="217.60" x2="359.10" y2="217.60" stroke="#cc7565" stroke-width="1.1"/>
<circle cx="359.40" cy="191.46" r="2.15" fill="#d98779" stroke="none" stroke-width="1"/>
<circle cx="355.90" cy="193.91" r="2.15" fill="#d98779" stroke="none" stroke-width="1"/>
<circle cx="358.40" cy="216.78" r="2.15" fill="#d98779" stroke="none" stroke-width="1"/>
<circle cx="356.40" cy="221.69" r="2.15" fill="#d98779" stroke="none" stroke-width="1"/>
<line x1="353.50" y1="205.35" x2="360.30" y2="205.35" stroke="#111" stroke-width="1.6"/>
<line x1="338.10" y1="179.30" x2="356.90" y2="179.30" stroke="#000" stroke-width="1.3"/>
<circle cx="347.50" cy="176.00" r="1.30" fill="#1a1a1a" stroke="none" stroke-width="1"/>
<line x1="325.60" y1="187.50" x2="345.40" y2="187.50" stroke="#000" stroke-width="1.3"/>
<circle cx="333.80" cy="184.20" r="1.30" fill="#1a1a1a" stroke="none" stroke-width="1"/>
<circle cx="337.20" cy="184.20" r="1.30" fill="#1a1a1a" stroke="none" stroke-width="1"/>
<line x1="392.40" y1="171.10" x2="392.40" y2="257.10" stroke="#000" stroke-width="1.4"/>
<line x1="391.70" y1="256.40" x2="434.50" y2="256.40" stroke="#000" stroke-width="1.4"/>
<line x1="398.40" y1="256.40" x2="398.40" y2="259.20" stroke="#000" stroke-width="1.2"/>
<line x1="408.80" y1="256.40" x2="408.80" y2="259.20" stroke="#000" stroke-width="1.2"/>
<line x1="419.30" y1="256.40" x2="419.30" y2="259.20" stroke="#000" stroke-width="1.2"/>
<line x1="430.00" y1="256.40" x2="430.00" y2="259.20" stroke="#000" stroke-width="1.2"/>
<line x1="389.40" y1="256.40" x2="392.40" y2="256.40" stroke="#000" stroke-width="1.2"/>
<text x="387.40" y="259.30" font-size="7.9" text-anchor="end" fill="#231f20" stroke="#231f20" stroke-width="0.1">1000</text>
<line x1="389.40" y1="239.78" x2="392.40" y2="239.78" stroke="#000" stroke-width="1.2"/>
<text x="387.40" y="242.68" font-size="7.9" text-anchor="end" fill="#231f20" stroke="#231f20" stroke-width="0.1">1200</text>
<line x1="389.40" y1="223.16" x2="392.40" y2="223.16" stroke="#000" stroke-width="1.2"/>
<text x="387.40" y="226.06" font-size="7.9" text-anchor="end" fill="#231f20" stroke="#231f20" stroke-width="0.1">1400</text>
<line x1="389.40" y1="206.54" x2="392.40" y2="206.54" stroke="#000" stroke-width="1.2"/>
<text x="387.40" y="209.44" font-size="7.9" text-anchor="end" fill="#231f20" stroke="#231f20" stroke-width="0.1">1600</text>
<line x1="389.40" y1="189.92" x2="392.40" y2="189.92" stroke="#000" stroke-width="1.2"/>
<text x="387.40" y="192.82" font-size="7.9" text-anchor="end" fill="#231f20" stroke="#231f20" stroke-width="0.1">1800</text>
<line x1="389.40" y1="173.30" x2="392.40" y2="173.30" stroke="#000" stroke-width="1.2"/>
<text x="387.40" y="176.20" font-size="7.9" text-anchor="end" fill="#231f20" stroke="#231f20" stroke-width="0.1">2000</text>
<line x1="390.60" y1="248.09" x2="392.40" y2="248.09" stroke="#000" stroke-width="0.8"/>
<line x1="390.60" y1="231.47" x2="392.40" y2="231.47" stroke="#000" stroke-width="0.8"/>
<line x1="390.60" y1="214.85" x2="392.40" y2="214.85" stroke="#000" stroke-width="0.8"/>
<line x1="390.60" y1="198.23" x2="392.40" y2="198.23" stroke="#000" stroke-width="0.8"/>
<line x1="390.60" y1="181.61" x2="392.40" y2="181.61" stroke="#000" stroke-width="0.8"/>
<line x1="398.40" y1="211.53" x2="398.40" y2="223.16" stroke="#2a4a88" stroke-width="1.1"/>
<line x1="396.20" y1="211.53" x2="400.60" y2="211.53" stroke="#2a4a88" stroke-width="1.1"/>
<line x1="396.20" y1="223.16" x2="400.60" y2="223.16" stroke="#2a4a88" stroke-width="1.1"/>
<circle cx="398.40" cy="208.20" r="2.15" fill="#2a4a88" stroke="none" stroke-width="1"/>
<circle cx="395.90" cy="218.17" r="2.15" fill="#2a4a88" stroke="none" stroke-width="1"/>
<circle cx="400.90" cy="219.00" r="2.15" fill="#2a4a88" stroke="none" stroke-width="1"/>
<circle cx="398.40" cy="223.16" r="2.15" fill="#2a4a88" stroke="none" stroke-width="1"/>
<line x1="395.00" y1="218.17" x2="401.80" y2="218.17" stroke="#111" stroke-width="1.6"/>
<line x1="408.80" y1="219.84" x2="408.80" y2="236.46" stroke="#b3122f" stroke-width="1.1"/>
<line x1="406.60" y1="219.84" x2="411.00" y2="219.84" stroke="#b3122f" stroke-width="1.1"/>
<line x1="406.60" y1="236.46" x2="411.00" y2="236.46" stroke="#b3122f" stroke-width="1.1"/>
<circle cx="406.30" cy="219.84" r="2.15" fill="#b3122f" stroke="none" stroke-width="1"/>
<circle cx="410.80" cy="222.33" r="2.15" fill="#b3122f" stroke="none" stroke-width="1"/>
<circle cx="411.30" cy="235.62" r="2.15" fill="#b3122f" stroke="none" stroke-width="1"/>
<circle cx="408.80" cy="240.61" r="2.15" fill="#b3122f" stroke="none" stroke-width="1"/>
<line x1="405.40" y1="229.81" x2="412.20" y2="229.81" stroke="#111" stroke-width="1.6"/>
<line x1="419.30" y1="185.76" x2="419.30" y2="206.54" stroke="#7b8bc4" stroke-width="1.1"/>
<line x1="417.10" y1="185.76" x2="421.50" y2="185.76" stroke="#7b8bc4" stroke-width="1.1"/>
<line x1="417.10" y1="206.54" x2="421.50" y2="206.54" stroke="#7b8bc4" stroke-width="1.1"/>
<circle cx="422.30" cy="185.76" r="2.15" fill="#8f9dcb" stroke="none" stroke-width="1"/>
<circle cx="418.80" cy="190.75" r="2.15" fill="#8f9dcb" stroke="none" stroke-width="1"/>
<circle cx="419.30" cy="198.23" r="2.15" fill="#8f9dcb" stroke="none" stroke-width="1"/>
<circle cx="419.30" cy="208.20" r="2.15" fill="#8f9dcb" stroke="none" stroke-width="1"/>
<line x1="415.90" y1="195.74" x2="422.70" y2="195.74" stroke="#111" stroke-width="1.6"/>
<line x1="430.00" y1="193.24" x2="430.00" y2="218.17" stroke="#cc7565" stroke-width="1.1"/>
<line x1="427.80" y1="193.24" x2="432.20" y2="193.24" stroke="#cc7565" stroke-width="1.1"/>
<line x1="427.80" y1="218.17" x2="432.20" y2="218.17" stroke="#cc7565" stroke-width="1.1"/>
<circle cx="430.00" cy="193.24" r="2.15" fill="#d98779" stroke="none" stroke-width="1"/>
<circle cx="433.00" cy="196.57" r="2.15" fill="#d98779" stroke="none" stroke-width="1"/>
<circle cx="430.00" cy="206.54" r="2.15" fill="#d98779" stroke="none" stroke-width="1"/>
<circle cx="429.50" cy="211.53" r="2.15" fill="#d98779" stroke="none" stroke-width="1"/>
<circle cx="430.00" cy="226.48" r="2.15" fill="#d98779" stroke="none" stroke-width="1"/>
<line x1="426.60" y1="205.71" x2="433.40" y2="205.71" stroke="#111" stroke-width="1.6"/>
<line x1="410.30" y1="175.10" x2="430.00" y2="175.10" stroke="#000" stroke-width="1.3"/>
<circle cx="420.15" cy="171.80" r="1.30" fill="#1a1a1a" stroke="none" stroke-width="1"/>
<line x1="398.20" y1="183.10" x2="418.30" y2="183.10" stroke="#000" stroke-width="1.3"/>
<circle cx="406.55" cy="179.80" r="1.30" fill="#1a1a1a" stroke="none" stroke-width="1"/>
<circle cx="409.95" cy="179.80" r="1.30" fill="#1a1a1a" stroke="none" stroke-width="1"/>
<line x1="465.00" y1="170.35" x2="465.00" y2="257.10" stroke="#000" stroke-width="1.4"/>
<line x1="464.30" y1="256.40" x2="507.50" y2="256.40" stroke="#000" stroke-width="1.4"/>
<line x1="471.80" y1="256.40" x2="471.80" y2="259.20" stroke="#000" stroke-width="1.2"/>
<line x1="482.10" y1="256.40" x2="482.10" y2="259.20" stroke="#000" stroke-width="1.2"/>
<line x1="492.70" y1="256.40" x2="492.70" y2="259.20" stroke="#000" stroke-width="1.2"/>
<line x1="503.00" y1="256.40" x2="503.00" y2="259.20" stroke="#000" stroke-width="1.2"/>
<line x1="462.00" y1="256.40" x2="465.00" y2="256.40" stroke="#000" stroke-width="1.2"/>
<text x="460.80" y="259.30" font-size="7.9" text-anchor="end" fill="#231f20" stroke="#231f20" stroke-width="0.1">1000</text>
<line x1="462.00" y1="228.45" x2="465.00" y2="228.45" stroke="#000" stroke-width="1.2"/>
<text x="460.80" y="231.35" font-size="7.9" text-anchor="end" fill="#231f20" stroke="#231f20" stroke-width="0.1">1500</text>
<line x1="462.00" y1="200.50" x2="465.00" y2="200.50" stroke="#000" stroke-width="1.2"/>
<text x="460.80" y="203.40" font-size="7.9" text-anchor="end" fill="#231f20" stroke="#231f20" stroke-width="0.1">2000</text>
<line x1="462.00" y1="172.55" x2="465.00" y2="172.55" stroke="#000" stroke-width="1.2"/>
<text x="460.80" y="175.45" font-size="7.9" text-anchor="end" fill="#231f20" stroke="#231f20" stroke-width="0.1">2500</text>
<line x1="463.20" y1="250.81" x2="465.00" y2="250.81" stroke="#000" stroke-width="0.8"/>
<line x1="463.20" y1="245.22" x2="465.00" y2="245.22" stroke="#000" stroke-width="0.8"/>
<line x1="463.20" y1="239.63" x2="465.00" y2="239.63" stroke="#000" stroke-width="0.8"/>
<line x1="463.20" y1="234.04" x2="465.00" y2="234.04" stroke="#000" stroke-width="0.8"/>
<line x1="463.20" y1="222.86" x2="465.00" y2="222.86" stroke="#000" stroke-width="0.8"/>
<line x1="463.20" y1="217.27" x2="465.00" y2="217.27" stroke="#000" stroke-width="0.8"/>
<line x1="463.20" y1="211.68" x2="465.00" y2="211.68" stroke="#000" stroke-width="0.8"/>
<line x1="463.20" y1="206.09" x2="465.00" y2="206.09" stroke="#000" stroke-width="0.8"/>
<line x1="463.20" y1="194.91" x2="465.00" y2="194.91" stroke="#000" stroke-width="0.8"/>
<line x1="463.20" y1="189.32" x2="465.00" y2="189.32" stroke="#000" stroke-width="0.8"/>
<line x1="463.20" y1="183.73" x2="465.00" y2="183.73" stroke="#000" stroke-width="0.8"/>
<line x1="463.20" y1="178.14" x2="465.00" y2="178.14" stroke="#000" stroke-width="0.8"/>
<line x1="471.80" y1="222.30" x2="471.80" y2="237.95" stroke="#2a4a88" stroke-width="1.1"/>
<line x1="469.60" y1="222.30" x2="474.00" y2="222.30" stroke="#2a4a88" stroke-width="1.1"/>
<line x1="469.60" y1="237.95" x2="474.00" y2="237.95" stroke="#2a4a88" stroke-width="1.1"/>
<circle cx="473.30" cy="220.62" r="2.15" fill="#2a4a88" stroke="none" stroke-width="1"/>
<circle cx="470.30" cy="221.74" r="2.15" fill="#2a4a88" stroke="none" stroke-width="1"/>
<circle cx="471.80" cy="228.45" r="2.15" fill="#2a4a88" stroke="none" stroke-width="1"/>
<circle cx="471.80" cy="236.83" r="2.15" fill="#2a4a88" stroke="none" stroke-width="1"/>
<circle cx="471.80" cy="244.10" r="2.15" fill="#2a4a88" stroke="none" stroke-width="1"/>
<line x1="468.40" y1="230.13" x2="475.20" y2="230.13" stroke="#111" stroke-width="1.6"/>
<line x1="482.10" y1="217.83" x2="482.10" y2="236.28" stroke="#b3122f" stroke-width="1.1"/>
<line x1="479.90" y1="217.83" x2="484.30" y2="217.83" stroke="#b3122f" stroke-width="1.1"/>
<line x1="479.90" y1="236.28" x2="484.30" y2="236.28" stroke="#b3122f" stroke-width="1.1"/>
<circle cx="482.10" cy="214.47" r="2.15" fill="#b3122f" stroke="none" stroke-width="1"/>
<circle cx="482.10" cy="220.06" r="2.15" fill="#b3122f" stroke="none" stroke-width="1"/>
<circle cx="482.10" cy="228.45" r="2.15" fill="#b3122f" stroke="none" stroke-width="1"/>
<circle cx="482.10" cy="239.63" r="2.15" fill="#b3122f" stroke="none" stroke-width="1"/>
<line x1="478.70" y1="227.33" x2="485.50" y2="227.33" stroke="#111" stroke-width="1.6"/>
<line x1="492.70" y1="199.94" x2="492.70" y2="213.92" stroke="#7b8bc4" stroke-width="1.1"/>
<line x1="490.50" y1="199.94" x2="494.90" y2="199.94" stroke="#7b8bc4" stroke-width="1.1"/>
<line x1="490.50" y1="213.92" x2="494.90" y2="213.92" stroke="#7b8bc4" stroke-width="1.1"/>
<circle cx="492.70" cy="196.03" r="2.15" fill="#8f9dcb" stroke="none" stroke-width="1"/>
<circle cx="491.20" cy="206.09" r="2.15" fill="#8f9dcb" stroke="none" stroke-width="1"/>
<circle cx="495.20" cy="208.88" r="2.15" fill="#8f9dcb" stroke="none" stroke-width="1"/>
<circle cx="491.70" cy="211.68" r="2.15" fill="#8f9dcb" stroke="none" stroke-width="1"/>
<circle cx="494.20" cy="212.80" r="2.15" fill="#8f9dcb" stroke="none" stroke-width="1"/>
<line x1="489.30" y1="207.21" x2="496.10" y2="207.21" stroke="#111" stroke-width="1.6"/>
<line x1="503.00" y1="202.74" x2="503.00" y2="220.62" stroke="#cc7565" stroke-width="1.1"/>
<line x1="500.80" y1="202.74" x2="505.20" y2="202.74" stroke="#cc7565" stroke-width="1.1"/>
<line x1="500.80" y1="220.62" x2="505.20" y2="220.62" stroke="#cc7565" stroke-width="1.1"/>
<circle cx="501.50" cy="201.62" r="2.15" fill="#d98779" stroke="none" stroke-width="1"/>
<circle cx="505.00" cy="203.29" r="2.15" fill="#d98779" stroke="none" stroke-width="1"/>
<circle cx="503.00" cy="208.88" r="2.15" fill="#d98779" stroke="none" stroke-width="1"/>
<circle cx="503.00" cy="217.27" r="2.15" fill="#d98779" stroke="none" stroke-width="1"/>
<circle cx="503.00" cy="223.98" r="2.15" fill="#d98779" stroke="none" stroke-width="1"/>
<line x1="499.60" y1="211.68" x2="506.40" y2="211.68" stroke="#111" stroke-width="1.6"/>
<line x1="482.90" y1="177.80" x2="502.80" y2="177.80" stroke="#000" stroke-width="1.3"/>
<circle cx="492.85" cy="174.50" r="1.30" fill="#1a1a1a" stroke="none" stroke-width="1"/>
<line x1="471.00" y1="185.70" x2="491.40" y2="185.70" stroke="#000" stroke-width="1.3"/>
<circle cx="479.50" cy="182.40" r="1.30" fill="#1a1a1a" stroke="none" stroke-width="1"/>
<circle cx="482.90" cy="182.40" r="1.30" fill="#1a1a1a" stroke="none" stroke-width="1"/>
<text x="291.10" y="213.60" font-size="8.5" text-anchor="middle" fill="#231f20" stroke="#231f20" stroke-width="0.1" textLength="41.00" lengthAdjust="spacingAndGlyphs" transform="rotate(-90 291.1 213.6)">MFI γH2A.X</text>
<circle cx="362.30" cy="275.20" r="2.10" fill="#2a4a88" stroke="none" stroke-width="1"/>
<circle cx="369.80" cy="275.20" r="2.10" fill="#8f9dcb" stroke="none" stroke-width="1"/>
<circle cx="362.30" cy="285.60" r="2.10" fill="#b3122f" stroke="none" stroke-width="1"/>
<circle cx="369.80" cy="285.60" r="2.10" fill="#d98779" stroke="none" stroke-width="1"/>
<text x="375.80" y="278.10" font-size="8.8" fill="#231f20" stroke="#231f20" stroke-width="0.1" font-style="italic" textLength="40.80" lengthAdjust="spacingAndGlyphs">SCL-CreER</text>
<text x="416.90" y="274.50" font-size="6.2" fill="#231f20" stroke="#231f20" stroke-width="0.2" font-style="italic" textLength="5.80" lengthAdjust="spacingAndGlyphs">T+</text>
<text x="424.10" y="278.10" font-size="8.8" fill="#231f20" stroke="#231f20" stroke-width="0.1" font-style="italic" textLength="29.40" lengthAdjust="spacingAndGlyphs">;Setd1a</text>
<text x="454.10" y="274.50" font-size="6.2" fill="#231f20" stroke="#231f20" stroke-width="0.2" font-style="italic" textLength="6.90" lengthAdjust="spacingAndGlyphs">+/+</text>
<text x="375.80" y="287.90" font-size="8.8" fill="#231f20" stroke="#231f20" stroke-width="0.1" font-style="italic" textLength="40.80" lengthAdjust="spacingAndGlyphs">SCL-CreER</text>
<text x="416.90" y="284.30" font-size="6.2" fill="#231f20" stroke="#231f20" stroke-width="0.2" font-style="italic" textLength="5.80" lengthAdjust="spacingAndGlyphs">T+</text>
<text x="424.10" y="287.90" font-size="8.8" fill="#231f20" stroke="#231f20" stroke-width="0.1" font-style="italic" textLength="29.40" lengthAdjust="spacingAndGlyphs">;Setd1a</text>
<text x="454.10" y="284.30" font-size="6.2" fill="#231f20" stroke="#231f20" stroke-width="0.2" font-style="italic" textLength="6.90" lengthAdjust="spacingAndGlyphs">F/F</text>
<text x="317.80" y="323.80" font-size="9.4" fill="#231f20" stroke="#231f20" stroke-width="0.1" textLength="122.90" lengthAdjust="spacingAndGlyphs">Survival post pI:C and 5-FU</text>
<line x1="320.60" y1="330.65" x2="320.60" y2="408.90" stroke="#000" stroke-width="1.4"/>
<line x1="317.60" y1="408.20" x2="320.60" y2="408.20" stroke="#000" stroke-width="1.2"/>
<text x="315.20" y="411.10" font-size="7.9" text-anchor="end" fill="#231f20" stroke="#231f20" stroke-width="0.1">0</text>
<line x1="317.60" y1="393.13" x2="320.60" y2="393.13" stroke="#000" stroke-width="1.2"/>
<text x="315.20" y="396.03" font-size="7.9" text-anchor="end" fill="#231f20" stroke="#231f20" stroke-width="0.1">20</text>
<line x1="317.60" y1="378.06" x2="320.60" y2="378.06" stroke="#000" stroke-width="1.2"/>
<text x="315.20" y="380.96" font-size="7.9" text-anchor="end" fill="#231f20" stroke="#231f20" stroke-width="0.1">40</text>
<line x1="317.60" y1="362.99" x2="320.60" y2="362.99" stroke="#000" stroke-width="1.2"/>
<text x="315.20" y="365.89" font-size="7.9" text-anchor="end" fill="#231f20" stroke="#231f20" stroke-width="0.1">60</text>
<line x1="317.60" y1="347.92" x2="320.60" y2="347.92" stroke="#000" stroke-width="1.2"/>
<text x="315.20" y="350.82" font-size="7.9" text-anchor="end" fill="#231f20" stroke="#231f20" stroke-width="0.1">80</text>
<line x1="317.60" y1="332.85" x2="320.60" y2="332.85" stroke="#000" stroke-width="1.2"/>
<text x="315.20" y="335.75" font-size="7.9" text-anchor="end" fill="#231f20" stroke="#231f20" stroke-width="0.1">100</text>
<line x1="318.80" y1="400.66" x2="320.60" y2="400.66" stroke="#000" stroke-width="0.8"/>
<line x1="318.80" y1="385.59" x2="320.60" y2="385.59" stroke="#000" stroke-width="0.8"/>
<line x1="318.80" y1="370.52" x2="320.60" y2="370.52" stroke="#000" stroke-width="0.8"/>
<line x1="318.80" y1="355.45" x2="320.60" y2="355.45" stroke="#000" stroke-width="0.8"/>
<line x1="318.80" y1="340.38" x2="320.60" y2="340.38" stroke="#000" stroke-width="0.8"/>
<line x1="319.90" y1="408.20" x2="436.93" y2="408.20" stroke="#000" stroke-width="1.4"/>
<line x1="320.60" y1="408.20" x2="320.60" y2="411.20" stroke="#000" stroke-width="1.2"/>
<text x="320.60" y="419.90" font-size="7.9" text-anchor="middle" fill="#231f20" stroke="#231f20" stroke-width="0.1">0</text>
<line x1="328.46" y1="408.20" x2="328.46" y2="410.00" stroke="#000" stroke-width="0.8"/>
<line x1="336.32" y1="408.20" x2="336.32" y2="411.20" stroke="#000" stroke-width="1.2"/>
<text x="336.32" y="419.90" font-size="7.9" text-anchor="middle" fill="#231f20" stroke="#231f20" stroke-width="0.1">4</text>
<line x1="344.18" y1="408.20" x2="344.18" y2="410.00" stroke="#000" stroke-width="0.8"/>
<line x1="352.04" y1="408.20" x2="352.04" y2="411.20" stroke="#000" stroke-width="1.2"/>
<text x="352.04" y="419.90" font-size="7.9" text-anchor="middle" fill="#231f20" stroke="#231f20" stroke-width="0.1">8</text>
<line x1="359.90" y1="408.20" x2="359.90" y2="410.00" stroke="#000" stroke-width="0.8"/>
<line x1="367.76" y1="408.20" x2="367.76" y2="411.20" stroke="#000" stroke-width="1.2"/>
<text x="367.76" y="419.90" font-size="7.9" text-anchor="middle" fill="#231f20" stroke="#231f20" stroke-width="0.1">12</text>
<line x1="375.62" y1="408.20" x2="375.62" y2="410.00" stroke="#000" stroke-width="0.8"/>
<line x1="383.48" y1="408.20" x2="383.48" y2="411.20" stroke="#000" stroke-width="1.2"/>
<text x="383.48" y="419.90" font-size="7.9" text-anchor="middle" fill="#231f20" stroke="#231f20" stroke-width="0.1">16</text>
<line x1="391.34" y1="408.20" x2="391.34" y2="410.00" stroke="#000" stroke-width="0.8"/>
<line x1="399.20" y1="408.20" x2="399.20" y2="411.20" stroke="#000" stroke-width="1.2"/>
<text x="399.20" y="419.90" font-size="7.9" text-anchor="middle" fill="#231f20" stroke="#231f20" stroke-width="0.1">20</text>
<line x1="407.06" y1="408.20" x2="407.06" y2="410.00" stroke="#000" stroke-width="0.8"/>
<line x1="414.92" y1="408.20" x2="414.92" y2="411.20" stroke="#000" stroke-width="1.2"/>
<text x="414.92" y="419.90" font-size="7.9" text-anchor="middle" fill="#231f20" stroke="#231f20" stroke-width="0.1">24</text>
<line x1="422.78" y1="408.20" x2="422.78" y2="410.00" stroke="#000" stroke-width="0.8"/>
<line x1="430.64" y1="408.20" x2="430.64" y2="411.20" stroke="#000" stroke-width="1.2"/>
<text x="430.64" y="419.90" font-size="7.9" text-anchor="middle" fill="#231f20" stroke="#231f20" stroke-width="0.1">28</text>
<text x="295.00" y="369.00" font-size="9.0" text-anchor="middle" fill="#231f20" stroke="#231f20" stroke-width="0.1" textLength="42.40" lengthAdjust="spacingAndGlyphs" transform="rotate(-90 295 369)">Survival [%]</text>
<path d="M320.6,332.85 H391.34 V341.89 H407.06 V357.72 H438.50" fill="none" stroke="#2a4a88" stroke-width="1.6"/>
<path d="M320.6,332.85 H321.78 V340.38 H324.53 V355.45 H332.39 V370.52 H383.48 V378.06 H395.27 V385.59 H402.34 V393.13 H407.06 V408.20" fill="none" stroke="#b3122f" stroke-width="1.6"/>
<circle cx="422.70" cy="380.70" r="1.15" fill="#1a1a1a" stroke="none" stroke-width="1"/>
<circle cx="426.00" cy="380.70" r="1.15" fill="#1a1a1a" stroke="none" stroke-width="1"/>
<circle cx="429.30" cy="380.70" r="1.15" fill="#1a1a1a" stroke="none" stroke-width="1"/>
<line x1="448.00" y1="349.50" x2="460.80" y2="349.50" stroke="#2a4a88" stroke-width="1.6"/>
<line x1="454.50" y1="348.00" x2="454.50" y2="351.00" stroke="#000" stroke-width="0.9"/>
<line x1="448.00" y1="381.10" x2="460.80" y2="381.10" stroke="#b3122f" stroke-width="1.6"/>
<line x1="454.50" y1="379.60" x2="454.50" y2="382.60" stroke="#000" stroke-width="0.9"/>
<text x="464.20" y="349.20" font-size="8.8" fill="#231f20" stroke="#231f20" stroke-width="0.1" font-style="italic" textLength="41.00" lengthAdjust="spacingAndGlyphs">SCL-CreER</text>
<text x="505.50" y="345.60" font-size="6.2" fill="#231f20" stroke="#231f20" stroke-width="0.2" font-style="italic" textLength="5.60" lengthAdjust="spacingAndGlyphs">T+</text>
<text x="464.20" y="358.20" font-size="8.8" fill="#231f20" stroke="#231f20" stroke-width="0.1" font-style="italic" textLength="26.20" lengthAdjust="spacingAndGlyphs">Setd1a</text>
<text x="491.00" y="354.60" font-size="6.2" fill="#231f20" stroke="#231f20" stroke-width="0.2" font-style="italic" textLength="7.00" lengthAdjust="spacingAndGlyphs">+/+</text>
<text x="464.20" y="380.40" font-size="8.8" fill="#231f20" stroke="#231f20" stroke-width="0.1" font-style="italic" textLength="41.00" lengthAdjust="spacingAndGlyphs">SCL-CreER</text>
<text x="505.50" y="376.80" font-size="6.2" fill="#231f20" stroke="#231f20" stroke-width="0.2" font-style="italic" textLength="5.60" lengthAdjust="spacingAndGlyphs">T+</text>
<text x="464.20" y="389.60" font-size="8.8" fill="#231f20" stroke="#231f20" stroke-width="0.1" font-style="italic" textLength="26.20" lengthAdjust="spacingAndGlyphs">Setd1a</text>
<text x="491.00" y="386.00" font-size="6.2" fill="#231f20" stroke="#231f20" stroke-width="0.2" font-style="italic" textLength="7.00" lengthAdjust="spacingAndGlyphs">F/F</text>
<path d="M320.60,421.10 L323.80,428.70 L321.35,426.90 L321.35,431.80 L319.85,431.80 L319.85,426.90 L317.40,428.70 Z" fill="#2f4b80" stroke="none" stroke-width="1"/>
<path d="M328.46,421.10 L331.66,428.70 L329.21,426.90 L329.21,431.80 L327.71,431.80 L327.71,426.90 L325.26,428.70 Z" fill="#2f4b80" stroke="none" stroke-width="1"/>
<path d="M348.11,421.10 L351.31,428.70 L348.86,426.90 L348.86,431.80 L347.36,431.80 L347.36,426.90 L344.91,428.70 Z" fill="#a01a40" stroke="none" stroke-width="1"/>
<path d="M375.62,421.10 L378.82,428.70 L376.37,426.90 L376.37,431.80 L374.87,431.80 L374.87,426.90 L372.42,428.70 Z" fill="#a01a40" stroke="none" stroke-width="1"/>
<text x="300.20" y="430.70" font-size="8.8" fill="#52679c" stroke="#52679c" stroke-width="0.1" textLength="14.60" lengthAdjust="spacingAndGlyphs">pI:C</text>
<text x="353.10" y="430.50" font-size="8.8" fill="#8f3355" stroke="#8f3355" stroke-width="0.1" textLength="16.90" lengthAdjust="spacingAndGlyphs">5-FU</text>
<text x="331.90" y="443.20" font-size="8.6" fill="#231f20" stroke="#231f20" stroke-width="0.1" textLength="40.70" lengthAdjust="spacingAndGlyphs">Days after 1</text>
<text x="373.50" y="439.20" font-size="5.8" fill="#231f20" stroke="#231f20" stroke-width="0.2" textLength="4.60" lengthAdjust="spacingAndGlyphs">st</text>
<text x="380.20" y="443.20" font-size="8.6" fill="#231f20" stroke="#231f20" stroke-width="0.1" textLength="46.30" lengthAdjust="spacingAndGlyphs">pI:C injection</text>
<rect x="1.5" y="1.5" width="517" height="451" fill="none" stroke="#8a8a8a" stroke-width="1"/>
<rect x="0.5" y="0.5" width="519" height="453" fill="none" stroke="#000" stroke-width="1"/>
</svg>
</body></html>
